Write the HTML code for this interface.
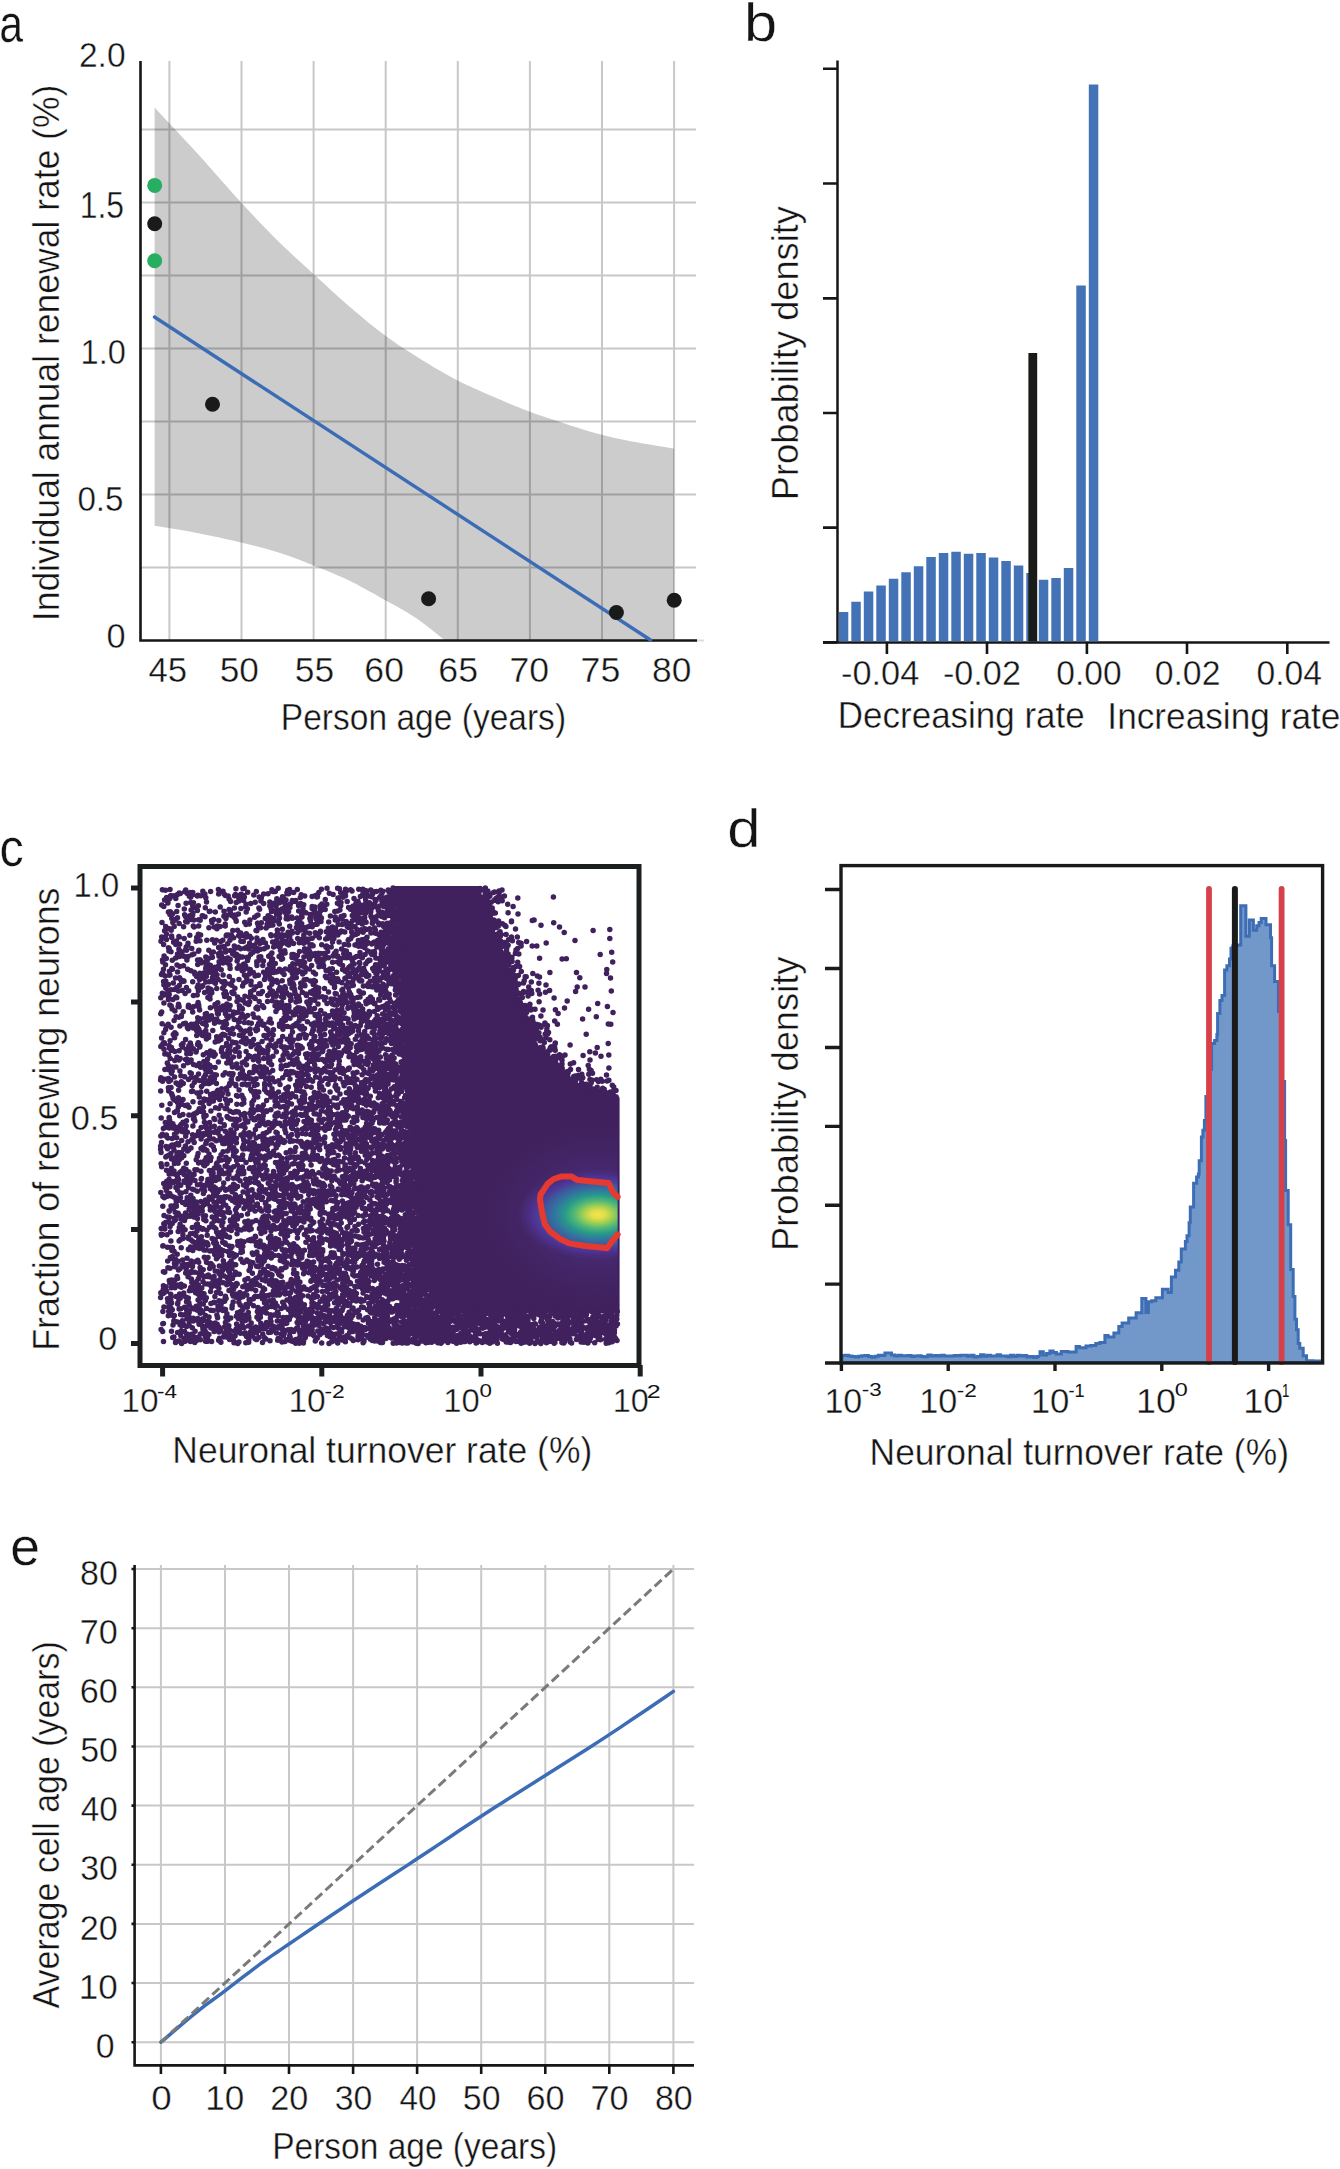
<!DOCTYPE html><html><head><meta charset="utf-8"><style>html,body{margin:0;padding:0;background:#fff;}svg{display:block;}text{font-family:"Liberation Sans",sans-serif;stroke:#fff;stroke-width:0.4px;}</style></head><body>
<svg width="1340" height="2169" viewBox="0 0 1340 2169" font-family="Liberation Sans, sans-serif">
<rect width="1340" height="2169" fill="#fff"/>
<path d="M169.4 61V640 M241.5 61V640 M313.6 61V640 M385.7 61V640 M457.8 61V640 M529.9 61V640 M602.0 61V640 M674.1 61V640 M141 567.5H696 M141 494.5H696 M141 421.5H696 M141 348.5H696 M141 275.5H696 M141 202.5H696 M141 129.5H696" stroke="#c8c8c8" stroke-width="2" fill="none"/>
<path d="M696 640.5H704" stroke="#dcdcdc" stroke-width="2"/>
<polygon points="154.6,107.6 159.2,112.5 165.5,119.2 173.1,127.2 181.2,135.9 189.4,144.7 197.0,153.0 204.3,161.1 211.7,169.5 219.2,178.0 226.6,186.3 233.8,194.4 240.7,202.0 247.2,209.0 253.3,215.6 259.3,221.9 265.2,228.0 271.0,234.0 277.0,240.0 283.1,245.9 289.1,251.6 295.2,257.3 301.2,262.8 307.3,268.3 313.4,273.9 319.5,279.5 325.6,285.1 331.7,290.7 337.8,296.3 343.9,301.7 350.0,307.0 356.1,312.2 362.2,317.3 368.3,322.4 374.4,327.2 380.5,332.0 386.5,336.5 392.5,340.8 398.4,344.9 404.3,348.8 410.2,352.6 416.1,356.3 422.0,360.0 427.9,363.6 433.8,367.2 439.7,370.6 445.7,374.0 451.6,377.3 457.6,380.4 463.6,383.4 469.7,386.3 475.8,389.0 481.9,391.7 488.0,394.4 494.0,397.0 500.0,399.6 506.0,402.2 512.0,404.7 517.9,407.1 523.9,409.5 529.9,411.8 535.9,414.0 541.9,416.1 548.0,418.1 554.0,420.1 560.0,422.1 566.0,424.0 572.0,425.9 577.9,427.8 583.9,429.7 589.8,431.5 595.8,433.2 601.8,434.8 607.8,436.3 613.8,437.7 619.9,439.0 625.9,440.2 632.0,441.4 638.0,442.5 644.4,443.7 651.3,444.8 658.3,446.0 664.7,447.0 670.1,447.9 674.0,448.5 674.0,640.5 445.0,640.5 441.9,638.0 437.5,634.5 432.3,630.3 426.8,625.9 421.2,621.7 416.0,618.0 411.2,614.9 406.5,612.0 401.7,609.3 396.9,606.6 391.8,603.8 386.5,600.9 380.8,597.7 374.9,594.3 368.7,590.9 362.4,587.4 356.2,584.1 350.0,581.0 343.9,578.1 337.8,575.4 331.7,572.8 325.6,570.3 319.5,567.8 313.4,565.4 307.3,563.0 301.2,560.6 295.2,558.3 289.1,556.1 283.1,554.0 277.0,552.0 271.0,550.2 265.2,548.5 259.3,547.0 253.3,545.4 247.2,543.9 240.7,542.4 233.8,540.8 226.6,539.2 219.2,537.6 211.7,536.0 204.3,534.4 197.0,533.0 189.4,531.6 181.2,530.1 173.1,528.8 165.5,527.5 159.2,526.5 154.6,525.7" fill="#000" fill-opacity="0.2"/>
<path d="M140.5 61V641.8M139.3 640.5H697" stroke="#161616" stroke-width="2.6" fill="none"/>
<path d="M154.5 317L650.5 640" stroke="#3b6cb6" stroke-width="3.4" stroke-linecap="round" fill="none"/>
<circle cx="154.7" cy="185.4" r="7.5" fill="#27ae60"/>
<circle cx="154.7" cy="223.8" r="7.5" fill="#1a1a1a"/>
<circle cx="154.7" cy="260.8" r="7.5" fill="#27ae60"/>
<circle cx="212.5" cy="404.3" r="7.5" fill="#1a1a1a"/>
<circle cx="428.6" cy="598.8" r="7.5" fill="#1a1a1a"/>
<circle cx="616.4" cy="612.5" r="7.5" fill="#1a1a1a"/>
<circle cx="674.2" cy="600.3" r="7.5" fill="#1a1a1a"/>
<text x="-0.72" y="42.17" font-size="54.00" textLength="23.82" lengthAdjust="spacingAndGlyphs" fill="#141414" >a</text>
<text x="78.91" y="67.26" font-size="35.17" textLength="46.70" lengthAdjust="spacingAndGlyphs" fill="#141414" >2.0</text>
<text x="79.67" y="217.64" font-size="36.40" textLength="44.37" lengthAdjust="spacingAndGlyphs" fill="#141414" >1.5</text>
<text x="80.62" y="363.86" font-size="35.17" textLength="45.25" lengthAdjust="spacingAndGlyphs" fill="#141414" >1.0</text>
<text x="77.40" y="510.55" font-size="35.45" textLength="46.09" lengthAdjust="spacingAndGlyphs" fill="#141414" >0.5</text>
<text x="106.46" y="648.06" font-size="34.75" textLength="19.08" lengthAdjust="spacingAndGlyphs" fill="#141414" >0</text>
<text x="148.50" y="681.85" font-size="35.83" textLength="38.66" lengthAdjust="spacingAndGlyphs" fill="#141414" >45</text>
<text x="219.79" y="681.86" font-size="35.31" textLength="39.19" lengthAdjust="spacingAndGlyphs" fill="#141414" >50</text>
<text x="294.79" y="681.85" font-size="35.83" textLength="39.30" lengthAdjust="spacingAndGlyphs" fill="#141414" >55</text>
<text x="364.39" y="681.86" font-size="35.31" textLength="39.60" lengthAdjust="spacingAndGlyphs" fill="#141414" >60</text>
<text x="438.29" y="681.86" font-size="35.31" textLength="39.71" lengthAdjust="spacingAndGlyphs" fill="#141414" >65</text>
<text x="509.47" y="681.86" font-size="35.31" textLength="39.62" lengthAdjust="spacingAndGlyphs" fill="#141414" >70</text>
<text x="580.57" y="681.85" font-size="35.83" textLength="39.73" lengthAdjust="spacingAndGlyphs" fill="#141414" >75</text>
<text x="652.06" y="681.86" font-size="35.31" textLength="39.32" lengthAdjust="spacingAndGlyphs" fill="#141414" >80</text>
<text x="280.85" y="729.80" font-size="37.00" textLength="285.23" lengthAdjust="spacingAndGlyphs" fill="#141414" >Person age (years)</text>
<text transform="rotate(-90)" x="-621.17" y="58.70" font-size="37.00" textLength="536.47" lengthAdjust="spacingAndGlyphs" fill="#141414">Individual annual renewal rate (%)</text>
<path d="M837.5 60.5V643.5M823 642.4H1329.5" stroke="#161616" stroke-width="2.5" fill="none"/>
<path d="M823 68.8H837.5 M823 183.5H837.5 M823 298.4H837.5 M823 413.0H837.5 M823 527.6H837.5 M823 642.4H837.5 M886.9 642.4V654 M987.0 642.4V654 M1086.9 642.4V654 M1187.0 642.4V654 M1287.3 642.4V654" stroke="#161616" stroke-width="2.6" fill="none"/>
<path d="M839.00 612.0H848.30V641.2H839.00Z M851.30 601.8H860.80V641.2H851.30Z M863.80 591.4H873.30V641.2H863.80Z M876.30 585.6H885.80V641.2H876.30Z M888.80 578.7H898.30V641.2H888.80Z M901.30 572.2H910.80V641.2H901.30Z M913.80 566.3H923.30V641.2H913.80Z M926.30 557.0H935.80V641.2H926.30Z M938.80 553.1H948.30V641.2H938.80Z M951.30 551.8H960.80V641.2H951.30Z M963.80 553.8H973.30V641.2H963.80Z M976.30 553.1H985.80V641.2H976.30Z M988.80 557.4H998.30V641.2H988.80Z M1001.30 561.1H1010.80V641.2H1001.30Z M1013.80 565.5H1023.30V641.2H1013.80Z M1026.30 573.0H1035.80V641.2H1026.30Z M1038.80 579.7H1048.30V641.2H1038.80Z M1051.30 578.0H1060.80V641.2H1051.30Z M1063.80 568.0H1073.30V641.2H1063.80Z M1076.30 285.5H1085.80V641.2H1076.30Z M1088.80 84.5H1098.30V641.2H1088.80Z" fill="#4373b6"/>
<rect x="1028.4" y="353" width="8.8" height="288.5" fill="#1a1a18"/>
<text x="743.96" y="40.70" font-size="54.00" textLength="33.14" lengthAdjust="spacingAndGlyphs" fill="#141414" >b</text>
<text transform="rotate(-90)" x="-500.17" y="797.80" font-size="37.00" textLength="294.14" lengthAdjust="spacingAndGlyphs" fill="#141414">Probability density</text>
<text x="841.07" y="685.05" font-size="35.88" textLength="78.23" lengthAdjust="spacingAndGlyphs" fill="#141414" >-0.04</text>
<text x="942.98" y="685.05" font-size="35.88" textLength="77.94" lengthAdjust="spacingAndGlyphs" fill="#141414" >-0.02</text>
<text x="1056.29" y="685.05" font-size="35.88" textLength="65.32" lengthAdjust="spacingAndGlyphs" fill="#141414" >0.00</text>
<text x="1154.68" y="685.05" font-size="35.88" textLength="65.82" lengthAdjust="spacingAndGlyphs" fill="#141414" >0.02</text>
<text x="1256.49" y="685.05" font-size="35.88" textLength="65.50" lengthAdjust="spacingAndGlyphs" fill="#141414" >0.04</text>
<text x="837.83" y="728.30" font-size="37.00" textLength="246.92" lengthAdjust="spacingAndGlyphs" fill="#141414" >Decreasing rate</text>
<text x="1107.35" y="728.60" font-size="37.00" textLength="233.02" lengthAdjust="spacingAndGlyphs" fill="#141414" >Increasing rate</text>
<polygon points="445.0,1311.5 438.7,1293.9 432.4,1276.2 427.6,1258.6 422.9,1240.9 419.6,1223.3 418.5,1205.6 417.4,1188.0 416.3,1170.3 415.3,1152.7 414.2,1135.0 413.1,1117.4 412.3,1099.8 411.5,1082.1 410.7,1064.5 409.9,1046.8 409.1,1029.2 408.3,1011.5 407.5,993.9 406.7,976.2 405.8,958.6 403.2,940.9 400.7,923.3 398.1,905.6 394.0,888.0 479.0,888.0 479.0,892.7 491.7,928.2 501.9,956.1 513.3,987.8 520.9,1013.2 531.0,1038.6 542.5,1057.6 561.5,1076.6 580.5,1089.3 599.6,1095.7 617.6,1098.2 617.6,1311.5" fill="#40215d" stroke="#40215d" stroke-width="4" stroke-linejoin="round"/>
<path d="M440.5 1303.7h0M176.9 1057.6h0M434.0 1285.6h0M229.2 1085.5h0M248.6 1004.4h0M413.0 1202.5h0M270.0 1280.6h0M374.4 942.1h0M510.3 1327.5h0M352.0 1082.4h0M251.3 1023.3h0M422.6 1246.7h0M398.8 1052.7h0M348.7 1292.1h0M357.1 1099.2h0M342.6 969.4h0M188.9 1045.7h0M348.7 1170.4h0M399.7 935.1h0M579.0 1077.6h0M174.4 1263.2h0M276.1 1215.5h0M419.7 1237.7h0M170.2 1058.4h0M439.7 1342.0h0M423.1 1284.0h0M250.8 1240.7h0M439.1 1310.9h0M418.2 1312.6h0M369.2 1011.4h0M407.2 988.0h0M258.9 908.0h0M311.3 1288.4h0M297.6 1249.8h0M220.5 1303.4h0M300.6 1114.5h0M359.3 941.8h0M405.6 1046.4h0M244.8 1227.8h0M244.9 1017.4h0M411.0 1116.5h0M364.5 1138.4h0M247.7 892.3h0M376.9 971.2h0M489.5 1313.3h0M175.7 1160.4h0M553.8 1325.8h0M282.1 1116.4h0M289.9 1204.5h0M179.1 1240.9h0M304.7 896.0h0M373.1 1289.4h0M236.4 1119.3h0M311.2 923.7h0M395.7 1039.6h0M399.7 1106.2h0M412.3 1272.7h0M562.2 1068.2h0M368.2 1318.8h0M413.5 1191.2h0M500.7 1336.2h0M334.5 1340.5h0M315.1 1071.7h0M425.4 1331.8h0M464.4 1334.2h0M357.5 1286.7h0M321.7 1343.0h0M330.4 981.3h0M251.1 1116.3h0M352.7 1031.0h0M377.1 1148.3h0M331.2 1170.9h0M534.2 1032.1h0M189.1 1209.2h0M273.1 1187.9h0M278.1 1113.0h0M360.6 1005.9h0M384.2 1160.2h0M167.5 1298.7h0M370.0 1123.8h0M235.1 1202.3h0M346.3 985.6h0M533.9 1033.2h0M395.0 1217.8h0M169.1 1045.6h0M221.0 1119.6h0M368.4 1026.5h0M254.2 1241.1h0M292.2 1289.2h0M260.9 901.1h0M284.5 1253.3h0M582.2 1334.5h0M329.2 1059.9h0M281.7 1326.9h0M367.7 1238.5h0M236.4 954.2h0M409.6 1091.6h0M408.2 1230.0h0M274.6 1176.3h0M312.5 1100.6h0M322.2 1059.4h0M234.8 914.9h0M236.2 921.3h0M202.9 1318.7h0M370.3 1096.3h0M232.2 1075.4h0M331.0 1042.2h0M590.3 1072.0h0M365.4 1099.5h0M224.5 1196.8h0M319.7 1020.0h0M203.2 1296.4h0M305.9 1065.7h0M313.9 1202.3h0M312.8 1203.4h0M524.3 1317.9h0M279.6 902.8h0M427.3 1341.6h0M219.6 1189.8h0M390.3 1264.1h0M204.7 1299.3h0M217.7 1132.9h0M229.9 960.0h0M346.8 1051.6h0M249.4 974.1h0M407.4 1015.1h0M295.8 1339.6h0M166.7 1291.3h0M427.2 1262.3h0M356.8 944.5h0M340.7 1217.8h0M203.7 1066.5h0M210.3 965.3h0M394.1 1290.5h0M350.2 1184.8h0M374.8 1020.5h0M290.7 1119.6h0M411.4 1295.2h0M420.9 1240.6h0M558.1 1013.6h0M294.9 1299.7h0M411.6 1234.4h0M186.8 1053.7h0M336.4 933.6h0M600.9 1332.3h0M547.9 1058.5h0M439.1 1317.3h0M394.0 1013.5h0M255.1 998.6h0M324.4 1329.1h0M205.9 1220.7h0M336.2 1161.5h0M416.4 1310.8h0M290.4 1150.2h0M181.8 1104.3h0M216.9 1314.9h0M410.5 1236.7h0M349.4 1249.4h0M271.2 935.7h0M361.8 1100.4h0M317.8 1330.9h0M324.7 1013.9h0M414.1 1157.5h0M363.3 1013.7h0M309.7 1290.3h0M464.8 1312.0h0M364.9 928.8h0M186.7 1310.1h0M326.4 1147.3h0M261.7 1157.1h0M393.2 965.6h0M313.8 1304.3h0M413.6 1241.0h0M405.4 1162.0h0M369.5 1131.9h0M274.0 1268.8h0M362.0 1039.7h0M474.9 1337.2h0M405.0 984.7h0M408.4 1335.1h0M384.1 1102.0h0M371.3 952.0h0M335.9 1238.1h0M416.0 1296.9h0M311.9 1155.9h0M291.8 1286.7h0M387.9 1210.8h0M276.9 1270.9h0M219.5 1338.3h0M424.2 1331.3h0M397.1 923.5h0M507.8 1317.4h0M395.8 948.5h0M264.6 1289.2h0M383.3 1311.4h0M295.6 1297.6h0M331.2 1326.9h0M192.0 1114.9h0M347.7 956.1h0M207.7 1245.1h0M253.5 1305.7h0M388.7 1264.9h0M329.7 1278.7h0M321.4 889.3h0M240.9 908.4h0M325.1 955.0h0M606.2 1343.2h0M399.0 1305.7h0M516.4 1315.8h0M290.7 1339.2h0M415.2 1331.7h0M338.0 1334.1h0M414.1 1310.0h0M372.5 1218.9h0M387.8 1301.5h0M608.4 1331.9h0M392.2 1055.0h0M297.1 1322.5h0M398.8 1140.8h0M335.3 1054.3h0M583.9 1342.2h0M379.9 1153.7h0M389.2 1094.6h0M251.0 1157.6h0M365.4 1093.5h0M209.0 1153.9h0M390.9 1201.3h0M606.6 1315.3h0M390.0 1028.3h0M190.8 1180.8h0M549.4 1330.2h0M403.1 1001.5h0M375.3 1107.2h0M393.3 947.4h0M327.4 1113.3h0M405.9 1133.6h0M381.2 1242.4h0M294.9 1204.4h0M189.6 1201.1h0M321.7 1240.6h0M190.8 1148.0h0M464.4 1322.2h0M199.0 1306.5h0M201.9 1209.9h0M529.6 1021.2h0M206.2 1326.0h0M310.7 1054.4h0M223.0 963.0h0M404.2 1135.3h0M240.3 1196.7h0M317.2 920.2h0M542.3 1322.6h0M570.5 1069.5h0M275.9 1185.9h0M243.7 1139.7h0M220.1 1136.4h0M249.5 1056.3h0M338.8 1053.7h0M371.7 1260.7h0M376.2 1215.3h0M432.4 1317.4h0M520.8 1320.2h0M270.4 1318.2h0M282.5 958.8h0M279.5 1026.2h0M396.2 1074.8h0M240.5 1333.3h0M233.7 937.7h0M345.9 1120.0h0M315.0 996.1h0M438.0 1309.6h0M490.4 1314.4h0M437.5 1299.4h0M384.4 1229.6h0M450.4 1320.0h0M485.1 895.4h0M250.1 1205.7h0M273.3 1154.2h0M397.9 943.8h0M366.4 1105.2h0M552.4 1340.9h0M418.1 1205.5h0M245.1 1119.2h0M230.4 1059.9h0M379.9 1306.0h0M273.1 1035.0h0M307.5 1318.7h0M365.0 1140.8h0M565.0 1055.0h0M427.3 1284.8h0M602.6 1088.7h0M316.9 960.0h0M428.2 1313.5h0M298.4 1157.2h0M468.1 1312.4h0M485.3 888.0h0M489.7 1343.2h0M403.2 1050.3h0M357.7 1324.5h0M287.3 1039.2h0M258.2 1056.9h0M185.7 1273.1h0M420.1 1279.8h0M306.0 1148.6h0M313.2 1151.8h0M385.2 988.7h0M589.2 1339.8h0M381.2 915.9h0M364.5 1099.2h0M397.6 1106.7h0M253.7 1100.3h0M334.6 1015.0h0M357.1 1045.4h0M511.4 980.2h0M361.2 1043.2h0M325.4 1023.2h0M413.2 1190.8h0M163.7 1183.6h0M296.4 1223.7h0M205.8 956.9h0M388.1 1322.9h0M216.2 1206.9h0M300.8 1212.6h0M404.1 1174.2h0M333.3 934.1h0M338.8 1269.5h0M386.5 940.0h0M210.4 1051.0h0M613.0 1012.6h0M410.1 1148.2h0M438.1 1297.4h0M290.3 1097.4h0M413.3 1220.2h0M276.3 1147.8h0M379.6 1293.6h0M384.9 1325.6h0M416.0 1193.2h0M492.6 929.8h0M382.1 1006.8h0M163.4 1323.4h0M185.2 1341.3h0M207.4 1034.7h0M186.9 960.1h0M337.0 1224.9h0M500.9 941.3h0M223.5 1204.8h0M353.1 1003.2h0M384.3 1227.7h0M571.6 1322.1h0M180.1 1324.8h0M179.8 1322.5h0M417.3 1244.4h0M369.9 960.2h0M234.3 1019.4h0M163.1 1043.5h0M374.6 952.7h0M580.2 1323.0h0M343.6 1185.0h0M496.0 898.6h0M407.4 994.8h0M340.6 1298.2h0M413.1 1302.3h0M353.0 1273.0h0M237.1 1175.9h0M535.6 1334.2h0M254.8 1085.1h0M212.4 939.8h0M396.8 1123.8h0M541.6 1321.7h0M396.9 904.5h0M395.1 1237.8h0M203.8 1077.5h0M217.3 926.0h0M405.5 1053.1h0M393.0 919.4h0M341.5 1011.6h0M223.3 1260.8h0M380.8 1081.0h0M439.5 1311.1h0M433.6 1293.6h0M541.0 1049.1h0M405.2 1289.0h0M404.4 1276.7h0M385.0 1112.7h0M285.7 1074.4h0M238.0 1012.3h0M303.6 1326.3h0M588.8 1085.2h0M302.0 1190.3h0M244.1 1132.5h0M413.3 1286.3h0M336.1 1312.9h0M298.0 1303.2h0M278.2 1166.7h0M401.2 1044.2h0M353.1 1327.9h0M408.5 1294.6h0M214.0 1118.4h0M358.1 1333.9h0M397.0 1242.0h0M190.2 1334.8h0M547.4 1034.2h0M367.7 1134.8h0M327.8 1229.7h0M233.2 1151.5h0M237.8 1026.7h0M319.0 966.8h0M376.9 947.0h0M226.8 1063.1h0M256.6 1266.2h0M251.3 1282.7h0M409.3 1095.9h0M407.2 1124.1h0M485.1 891.3h0M407.2 1113.1h0M229.1 899.1h0M193.4 1247.6h0M402.6 947.5h0M417.1 1287.5h0M344.9 1293.3h0M323.9 1225.7h0M313.6 1262.1h0M337.3 1014.9h0M200.2 1272.1h0M393.9 932.3h0M403.6 1236.9h0M407.4 1099.9h0M311.4 1120.3h0M383.5 965.7h0M261.3 1261.2h0M562.0 1060.3h0M363.0 1103.1h0M388.1 1096.0h0M293.7 1163.5h0M262.4 991.6h0M275.9 1043.9h0M389.3 928.4h0M183.8 1325.1h0M345.5 889.3h0M406.3 1002.9h0M380.2 1038.6h0M189.3 896.2h0M269.8 905.7h0M241.0 894.3h0M380.9 1239.6h0M556.9 1056.6h0M401.5 1104.6h0M170.0 975.1h0M381.7 1202.3h0M411.2 1078.4h0M377.8 1133.6h0M409.0 1276.3h0M209.7 1268.5h0M538.9 983.2h0M388.3 1149.4h0M271.2 1258.1h0M188.4 1027.1h0M383.9 1322.5h0M389.2 1269.0h0M297.2 1265.1h0M266.5 1146.5h0M346.5 969.7h0M264.0 1067.0h0M542.5 1324.8h0M384.5 1070.4h0M221.6 1051.9h0M265.3 1256.5h0M533.1 1029.1h0M559.1 1334.3h0M264.2 948.7h0M327.9 1268.6h0M357.0 1079.5h0M286.7 1251.1h0M513.9 1316.1h0M283.4 1335.8h0M314.2 1174.4h0M173.6 942.2h0M196.4 1224.8h0M527.4 1023.3h0M373.4 1321.1h0M319.8 1087.7h0M342.3 1028.6h0M547.5 1319.5h0M418.8 1285.8h0M257.4 1204.0h0M446.8 1327.5h0M583.3 1090.2h0M606.5 1074.9h0M477.0 1342.4h0M410.9 1236.6h0M403.4 1190.5h0M419.9 1259.2h0M578.5 1325.5h0M169.5 928.8h0M405.3 1106.9h0M381.8 1114.5h0M562.7 1077.4h0M548.4 1331.0h0M270.9 1274.5h0M294.7 1219.0h0M213.6 1179.5h0M534.0 1324.1h0M362.6 920.9h0M215.9 1229.0h0M287.1 1093.5h0M183.7 980.7h0M548.2 1062.4h0M283.6 1167.2h0M199.7 1291.5h0M330.8 1215.8h0M224.6 1139.8h0M281.4 899.7h0M236.5 1283.6h0M402.0 1301.4h0M260.2 1246.7h0M356.1 1207.2h0M411.4 1330.8h0M218.8 920.4h0M431.3 1275.0h0M230.1 1334.8h0M493.6 1334.1h0M553.0 1330.0h0M322.9 1199.4h0M303.9 1074.5h0M270.9 1294.7h0M398.3 1254.9h0M408.8 1198.8h0M602.7 1325.9h0M301.2 1206.8h0M409.2 1193.8h0M294.1 1314.6h0M530.3 1034.9h0M347.8 1327.3h0M206.1 1115.5h0M245.0 1229.0h0M342.5 1181.1h0M484.8 1335.9h0M408.7 1076.1h0M180.2 1298.3h0M311.0 956.6h0M379.3 1196.3h0M419.6 1309.5h0M221.6 1009.8h0M199.5 979.8h0M582.0 1321.9h0M411.9 1312.6h0M526.5 1012.6h0M195.0 1180.4h0M254.4 1194.3h0M354.6 1326.3h0M462.9 1321.8h0M400.5 925.0h0M382.5 1048.1h0M197.7 1260.3h0M395.4 942.5h0M405.8 1081.6h0M211.4 990.3h0M354.3 1012.7h0M199.8 1302.7h0M348.0 1202.9h0M172.4 1256.5h0M186.9 1318.4h0M269.9 1156.8h0M315.0 955.6h0M203.0 1228.8h0M238.7 935.5h0M314.2 1286.7h0M352.3 1251.7h0M360.7 1186.9h0M600.5 1339.7h0M301.0 1141.5h0M323.9 1184.8h0M398.9 1081.3h0M309.3 968.9h0M345.6 1239.3h0M316.0 935.6h0M392.0 1194.8h0M400.5 1084.4h0M191.8 1177.4h0M222.1 957.9h0M265.3 1165.4h0M348.8 1043.2h0M190.2 1216.2h0M344.6 1264.2h0M165.6 938.1h0M271.8 1143.1h0M396.0 982.6h0M315.5 974.1h0M224.8 1035.3h0M243.8 896.9h0M503.7 960.0h0M422.5 1241.4h0M555.5 1059.9h0M311.1 916.5h0M196.7 1030.7h0M199.2 1080.4h0M205.2 1160.3h0M287.6 1235.8h0M236.7 1228.6h0M304.4 1234.4h0M293.0 1264.4h0M346.8 1294.6h0M408.1 1139.4h0M307.1 1215.2h0M231.4 935.0h0M429.0 1287.2h0M535.1 1044.2h0M330.3 1266.8h0M589.9 1079.4h0M187.4 1132.3h0M405.0 1105.4h0M344.6 1289.2h0M270.2 1257.0h0M465.5 1338.0h0M193.1 1233.6h0M366.2 1187.8h0M293.9 1302.7h0M228.7 1171.4h0M336.5 1127.6h0M171.4 1196.1h0M405.8 1057.1h0M219.0 1167.0h0M504.0 952.9h0M434.4 1315.3h0M198.2 985.0h0M321.6 1158.9h0M327.7 951.4h0M266.6 1110.8h0M303.5 1011.7h0M233.6 1184.2h0M363.2 1112.2h0M407.5 1138.1h0M229.5 1255.4h0M376.5 1172.8h0M272.0 1275.0h0M302.5 1308.9h0M374.7 1053.0h0M215.2 1041.9h0M391.6 904.8h0M235.4 1272.2h0M322.3 1270.1h0M419.6 1316.0h0M392.8 903.3h0M395.0 1274.7h0M235.5 1209.7h0M554.5 1064.5h0M363.2 1137.1h0M381.8 1309.4h0M520.0 1326.2h0M511.5 979.5h0M488.9 1312.0h0M278.1 1228.2h0M178.1 905.5h0M401.4 1225.1h0M272.7 1192.1h0M185.1 993.6h0M317.6 1023.4h0M414.2 1212.8h0M303.0 908.8h0M407.6 1283.7h0M596.6 1079.7h0M232.1 1133.6h0M429.2 1325.6h0M368.0 1186.7h0M320.0 1145.0h0M284.9 1125.8h0M286.9 1011.5h0M419.0 1226.0h0M392.5 1135.1h0M360.6 1138.0h0M272.1 1247.2h0M233.9 1219.2h0M397.5 1216.5h0M396.8 1137.2h0M432.0 1278.2h0M297.2 1172.2h0M327.7 1232.9h0M269.8 1058.1h0M386.9 1061.0h0M578.1 1075.5h0M491.4 1328.2h0M292.0 954.6h0M394.8 1031.7h0M414.1 1225.4h0M358.0 913.9h0M328.3 1331.6h0M399.6 971.4h0M496.6 1335.2h0M363.0 1090.3h0M398.2 1067.1h0M337.7 1343.0h0M408.5 1284.3h0M390.4 1160.4h0M243.7 983.1h0M402.2 1289.7h0M255.6 1237.1h0M415.1 1292.8h0M414.2 1139.0h0M489.7 919.6h0M605.0 1320.3h0M291.5 1127.6h0M282.6 1329.4h0M247.9 1278.4h0M355.3 1252.6h0M375.7 1084.8h0M363.4 1274.8h0M413.1 1141.8h0M403.4 963.8h0M516.0 950.1h0M397.3 1148.0h0M409.0 1257.1h0M239.2 1056.2h0M425.8 1260.9h0M237.3 968.3h0M254.4 1143.4h0M431.2 1309.0h0M298.7 1166.3h0M566.3 958.8h0M360.0 1252.8h0M405.3 959.0h0M371.6 1339.7h0M605.4 1092.3h0M250.2 1178.5h0M342.5 1279.0h0M394.1 917.0h0M418.4 1250.3h0M417.9 1298.3h0M168.1 1109.8h0M348.6 1210.0h0M237.4 1165.1h0M181.2 1128.9h0M382.6 902.7h0M399.6 1279.5h0M197.8 938.8h0M300.6 1264.0h0M467.1 1331.3h0M257.3 948.5h0M414.2 1172.6h0M219.1 1169.7h0M519.6 966.5h0M402.7 1041.6h0M290.0 1079.0h0M231.1 1063.4h0M502.1 956.5h0M356.4 1258.6h0M170.3 1257.6h0M168.3 984.6h0M348.5 987.7h0M409.1 1118.3h0M261.5 1245.0h0M356.8 1244.3h0M341.8 1008.7h0M207.7 991.5h0M393.4 1194.7h0M242.8 1246.5h0M421.3 1255.7h0M298.7 1045.6h0M363.1 921.5h0M421.1 1268.3h0M320.0 1222.0h0M564.6 1322.9h0M522.9 1315.7h0M193.2 1321.1h0M256.8 1048.9h0M175.5 978.1h0M272.5 1294.7h0M273.0 1056.3h0M271.2 962.2h0M364.6 1267.2h0M274.7 1081.7h0M422.7 1254.2h0M189.8 915.7h0M235.7 1084.5h0M400.3 990.8h0M588.0 1338.5h0M308.1 1212.0h0M258.8 1092.0h0M166.5 1170.3h0M291.2 1211.0h0M190.9 1290.5h0M498.6 1314.0h0M384.1 1336.3h0M210.2 1206.8h0M258.7 1308.6h0M340.9 1017.2h0M229.8 983.9h0M341.2 931.0h0M471.2 1319.1h0M397.9 1244.4h0M412.4 1229.9h0M483.2 901.0h0M390.8 1311.4h0M606.4 1341.9h0M406.8 995.7h0M178.5 991.1h0M542.2 1317.4h0M405.9 1010.6h0M268.1 1252.8h0M203.2 1295.7h0M201.5 1086.5h0M215.4 1187.9h0M203.3 1215.8h0M190.9 970.8h0M330.1 1092.1h0M299.3 1169.5h0M283.3 1025.2h0M213.6 982.0h0M407.2 1327.7h0M356.0 1200.6h0M391.4 1143.8h0M476.7 1314.0h0M404.3 1187.7h0M216.3 1075.1h0M416.9 1262.5h0M379.2 1340.0h0M260.3 1274.4h0M256.2 1205.0h0M224.6 1301.3h0M410.1 1099.8h0M320.8 1010.4h0M285.0 1330.4h0M432.2 1288.6h0M394.7 1230.1h0M480.9 1314.1h0M428.2 1324.8h0M384.5 997.5h0M483.8 901.0h0M165.1 1187.3h0M293.1 1140.9h0M394.3 1006.4h0M174.6 1037.8h0M221.0 1197.6h0M427.9 1262.5h0M382.7 1083.7h0M219.0 956.3h0M377.5 1043.4h0M585.2 1312.7h0M528.7 986.9h0M373.5 1076.9h0M412.2 1212.3h0M226.0 1157.3h0M254.6 1147.3h0M375.5 933.2h0M373.2 1223.1h0M335.2 916.9h0M326.1 1239.2h0M268.0 921.2h0M202.2 915.8h0M480.4 1313.4h0M281.5 1208.4h0M245.0 1038.1h0M521.3 971.5h0M275.5 1289.7h0M390.5 1020.6h0M395.8 1033.1h0M371.1 1147.3h0M248.1 1318.5h0M307.2 1261.2h0M405.5 1024.8h0M248.7 1342.2h0M351.8 1092.1h0M351.6 1255.5h0M391.2 1293.2h0M314.9 999.5h0M416.8 1186.2h0M313.9 1138.7h0M601.4 1094.2h0M162.6 972.8h0M338.0 897.9h0M173.8 1126.0h0M197.0 1093.1h0M294.9 1216.6h0M184.8 1182.3h0M218.4 1062.1h0M228.2 1326.1h0M276.5 940.6h0M382.5 1071.5h0M555.8 1070.6h0M398.8 955.8h0M197.7 987.0h0M339.0 1189.8h0M346.7 1278.3h0M531.2 1031.4h0M302.6 1017.9h0M342.0 997.0h0M379.2 968.4h0M426.6 1268.8h0M296.3 1231.3h0M236.0 920.2h0M407.1 1070.1h0M346.4 1147.1h0M548.5 1318.0h0M240.7 933.1h0M335.3 1037.3h0M236.3 1328.7h0M290.6 1311.8h0M407.4 990.8h0M252.4 1152.4h0M167.5 1148.8h0M193.0 1198.5h0M317.4 1320.2h0M385.4 1222.3h0M302.4 1157.2h0M305.0 928.0h0M372.3 894.5h0M575.6 1081.0h0M317.8 1023.8h0M324.6 1000.1h0M278.7 1328.0h0M212.1 1199.4h0M295.0 1111.8h0M581.5 1314.0h0M335.7 1114.7h0M361.4 1060.9h0M234.2 1149.5h0M413.4 1122.7h0M435.3 1293.0h0M258.2 1150.9h0M252.8 1208.7h0M379.1 1026.1h0M269.6 987.8h0M330.7 1243.8h0M305.9 927.6h0M224.6 996.6h0M412.3 1143.7h0M393.2 918.5h0M233.3 951.3h0M411.6 1120.8h0M200.0 1240.4h0M317.2 1205.4h0M256.7 915.8h0M324.5 1068.5h0M337.8 1321.6h0M281.6 1202.8h0M410.9 1083.6h0M422.2 1253.9h0M329.9 1224.1h0M396.3 1320.6h0M348.1 1018.9h0M406.4 1260.2h0M259.7 1024.1h0M371.2 1313.0h0M190.4 1341.5h0M327.5 1159.4h0M415.8 1337.6h0M425.4 1280.0h0M405.3 991.5h0M222.8 1027.6h0M371.5 896.7h0M176.4 1206.2h0M386.8 1334.3h0M527.6 1024.0h0M412.0 1102.6h0M306.0 1158.0h0M185.7 921.6h0M400.4 957.7h0M197.4 1223.9h0M398.1 1094.3h0M363.9 1300.3h0M247.5 1213.9h0M280.7 1040.2h0M393.5 909.5h0M427.0 1319.0h0M439.4 1319.8h0M370.4 1209.6h0M349.4 1319.5h0M539.5 976.9h0M406.0 1301.8h0M328.0 1084.3h0M216.1 1286.0h0M337.7 1032.5h0M389.0 1278.9h0M225.4 1159.5h0M369.0 1056.0h0M223.5 1250.8h0M367.7 942.3h0M575.2 1079.8h0M355.8 907.7h0M236.7 1331.7h0M401.3 974.9h0M314.8 1036.4h0M175.4 1219.8h0M237.7 1178.8h0M595.0 1329.3h0M187.8 1264.6h0M512.7 1322.6h0M419.6 1235.8h0M165.5 964.8h0M409.2 1039.2h0M188.1 1276.8h0M397.3 1257.1h0M398.9 1341.8h0M392.3 1312.0h0M407.6 1020.5h0M397.8 1314.5h0M259.5 1053.3h0M162.9 1311.6h0M411.9 1298.8h0M296.0 1023.7h0M335.2 1319.8h0M281.1 1334.1h0M405.0 1002.8h0M255.7 1091.6h0M531.1 1324.8h0M287.3 1285.9h0M418.4 1226.7h0M219.4 1251.3h0M511.6 1322.4h0M394.6 1308.5h0M489.7 914.6h0M373.9 1069.0h0M540.8 1321.8h0M222.9 1222.2h0M407.8 1166.3h0M179.9 1071.1h0M351.0 997.0h0M387.7 1163.6h0M319.8 1254.0h0M280.8 1097.4h0M385.7 1029.8h0M189.0 1172.0h0M368.2 1087.7h0M372.7 1184.2h0M338.4 1002.5h0M332.5 1004.1h0M163.4 1271.8h0M299.3 1049.5h0M405.6 972.9h0M166.3 1026.1h0M392.2 1039.7h0M473.9 1339.3h0M169.4 971.2h0M385.7 978.0h0M204.0 1033.1h0M336.6 1262.9h0M378.7 1130.2h0M263.4 1104.9h0M326.8 1229.4h0M373.9 986.5h0M399.1 935.5h0M437.4 1292.2h0M260.6 949.2h0M365.5 1215.1h0M212.0 1264.7h0M403.9 1030.4h0M263.7 1007.4h0M527.5 1023.1h0M396.9 1022.2h0M379.7 943.7h0M338.1 1057.5h0M367.1 1290.6h0M402.2 1173.6h0M426.1 1280.1h0M515.2 985.0h0M396.3 1096.4h0M177.6 972.0h0M270.9 1097.1h0M284.5 1141.7h0M421.8 1325.7h0M292.5 1032.0h0M310.2 952.5h0M216.1 1131.1h0M212.0 922.6h0M310.2 1231.1h0M328.8 1117.8h0M315.2 932.8h0M371.1 1046.0h0M273.3 1242.5h0M339.2 1161.3h0M554.4 1326.8h0M334.3 1004.7h0M336.2 1308.6h0M237.6 1096.3h0M314.2 1049.7h0M181.4 1044.9h0M365.5 1259.2h0M408.9 1137.4h0M216.9 1037.9h0M329.7 932.7h0M334.5 1317.5h0M393.0 1073.0h0M399.7 1144.7h0M232.3 1222.0h0M593.1 930.5h0M209.9 995.7h0M362.2 924.0h0M199.4 1248.5h0M363.4 1036.9h0M211.6 1341.4h0M240.8 1246.3h0M463.5 1321.9h0M417.4 1242.6h0M507.7 1324.9h0M281.3 1276.2h0M388.1 1176.0h0M458.7 1314.4h0M293.9 1221.1h0M563.0 1311.7h0M272.2 1000.8h0M363.8 1300.7h0M376.1 1271.8h0M393.8 1014.6h0M215.7 1242.2h0M269.9 993.2h0M312.3 1056.4h0M420.0 1248.6h0M332.4 1241.9h0M404.1 1086.9h0M333.9 938.6h0M386.4 960.9h0M391.8 910.3h0M222.7 1310.6h0M407.8 1313.6h0M370.8 911.2h0M341.7 1194.8h0M337.8 1269.9h0M581.1 1342.1h0M317.2 1192.5h0M261.3 1157.8h0M333.5 1145.1h0M426.6 1333.7h0M594.7 1342.8h0M381.3 1326.0h0M179.0 1159.0h0M398.3 965.4h0M393.2 1343.3h0M418.3 1232.6h0M567.8 1315.6h0M234.2 1184.8h0M366.9 1111.2h0M367.7 1328.4h0M366.9 1335.4h0M310.7 1098.5h0M460.8 1341.2h0M580.8 1313.8h0M285.1 1294.0h0M360.9 918.8h0M563.9 1333.6h0M545.5 992.2h0M338.5 1053.8h0M504.0 1312.5h0M514.2 986.0h0M246.9 936.5h0M403.0 950.1h0M425.0 1265.8h0M518.9 1318.0h0M269.1 1153.2h0M435.2 1297.1h0M414.4 1161.6h0M236.5 1126.8h0M184.2 938.5h0M496.5 1330.2h0M370.8 1179.7h0M363.5 1111.3h0M226.1 1265.6h0M364.1 1019.9h0M386.3 1058.2h0M417.4 1231.9h0M383.7 1209.7h0M254.8 1182.6h0M422.0 1244.9h0M300.5 1322.1h0M335.2 993.5h0M286.7 1323.3h0M397.8 1331.3h0M390.8 966.0h0M496.5 1333.2h0M236.2 1199.2h0M396.6 1031.4h0M585.0 987.0h0M349.5 976.5h0M200.7 1111.2h0M379.3 924.7h0M169.1 1210.8h0M196.6 1112.9h0M242.7 1077.9h0M417.8 1212.2h0M404.0 1221.7h0M273.5 1029.7h0M351.1 1197.6h0M541.0 1321.1h0M328.5 1261.4h0M406.3 1105.4h0M282.0 938.7h0M243.2 1200.8h0M396.5 1238.9h0M401.8 1210.0h0M281.1 1160.2h0M379.5 1164.7h0M264.6 1325.4h0M247.3 1222.8h0M292.4 918.3h0M370.0 1209.1h0M519.7 1319.6h0M459.6 1327.5h0M391.8 1175.0h0M278.4 910.3h0M188.8 1149.7h0M385.2 1098.7h0M381.1 1163.3h0M211.4 1207.7h0M278.9 1216.3h0M301.0 1206.8h0M310.7 1249.1h0M379.5 1249.7h0M398.4 1237.4h0M391.5 930.9h0M508.7 964.4h0M398.2 1192.7h0M267.9 1145.1h0M214.3 1095.0h0M403.7 1246.9h0M371.0 953.3h0M430.6 1297.8h0M476.6 1322.1h0M400.5 1312.3h0M214.5 1167.9h0M494.5 927.2h0M302.1 1076.2h0M227.6 1161.9h0M399.1 1053.9h0M300.5 987.8h0M342.3 892.9h0M422.3 1245.2h0M404.6 1326.0h0M273.4 1291.0h0M177.6 1190.2h0M411.2 1340.3h0M396.2 937.4h0M433.0 1341.0h0M368.9 998.9h0M198.9 950.2h0M221.7 1160.1h0M409.7 1070.4h0M166.1 993.8h0M181.7 1157.8h0M260.1 1155.7h0M349.9 957.7h0M193.2 1006.8h0M340.5 1337.4h0M367.1 1036.1h0M388.7 1336.4h0M357.9 1339.7h0M215.5 1328.2h0M330.3 1268.5h0M336.7 1052.7h0M350.6 1322.5h0M363.6 1101.2h0M185.2 1215.1h0M350.4 1337.9h0M328.3 1240.3h0M274.4 903.1h0M543.7 1340.8h0M235.5 894.6h0M365.1 1188.2h0M320.5 911.0h0M429.7 1300.6h0M178.9 936.5h0M210.6 1323.0h0M326.1 970.6h0M347.9 1248.7h0M258.6 1261.0h0M277.0 1116.0h0M222.9 1242.5h0M532.5 1035.5h0M200.5 1184.6h0M305.7 1210.4h0M400.6 1103.3h0M393.7 1079.9h0M277.7 1340.2h0M362.7 1179.4h0M412.5 1256.7h0M379.6 1314.6h0M561.9 1342.4h0M598.2 1339.3h0M438.5 1305.6h0M362.7 1009.0h0M356.5 1129.4h0M517.1 1317.7h0M169.1 1128.0h0M270.7 1244.2h0M203.0 1281.8h0M222.9 1301.0h0M170.1 1226.5h0M357.4 1281.3h0M570.2 1080.7h0M305.5 967.4h0M230.1 1005.6h0M384.7 1336.0h0M177.6 1128.0h0M385.2 1015.7h0M285.2 1267.4h0M535.0 1034.6h0M225.8 1317.5h0M163.5 1341.5h0M395.1 1250.0h0M436.3 1296.7h0M253.2 1253.4h0M365.2 1155.2h0M376.1 1225.7h0M206.3 976.5h0M239.4 1035.3h0M226.8 1016.1h0M303.2 966.3h0M484.5 1336.7h0M328.9 1297.8h0M342.8 989.3h0M362.8 1021.1h0M401.5 1242.5h0M614.4 1330.3h0M311.6 965.4h0M269.3 1021.4h0M286.8 1162.5h0M294.8 991.4h0M174.4 1037.5h0M252.4 1079.3h0M244.0 1241.7h0M413.0 1275.7h0M311.1 1164.9h0M358.9 1092.4h0M451.6 1317.0h0M342.7 931.6h0M352.7 1142.1h0M386.7 1064.0h0M222.0 1266.3h0M208.3 1274.9h0M390.4 1128.8h0M521.1 996.4h0M522.3 997.6h0M427.4 1314.0h0M249.0 948.8h0M297.4 1135.6h0M295.2 1187.0h0M411.2 1205.7h0M309.3 1007.3h0M293.8 1064.6h0M354.3 1248.1h0M440.0 1342.7h0M223.9 1141.0h0M298.8 1290.5h0M416.4 1171.9h0M398.9 1134.1h0M528.1 1027.5h0M393.8 1322.3h0M163.8 906.4h0M372.6 1247.3h0M169.9 1004.9h0M320.3 905.7h0M320.2 1214.4h0M384.6 1090.6h0M416.9 1293.9h0M208.6 1035.0h0M164.1 956.1h0M388.6 1200.9h0M338.9 1240.7h0M264.5 1299.1h0M374.3 1145.5h0M403.6 1008.0h0M305.1 1152.8h0M189.8 935.3h0M414.4 1250.0h0M187.4 893.6h0M278.1 1218.2h0M380.7 1028.4h0M567.9 1080.5h0M178.2 1231.4h0M411.5 1226.5h0M410.2 1145.6h0M352.4 985.6h0M515.4 977.8h0M179.5 1101.4h0M385.3 1208.2h0M372.4 1048.8h0M219.7 1128.3h0M305.0 1314.6h0M406.8 1266.5h0M405.8 1216.8h0M302.1 1254.1h0M312.1 1287.9h0M315.5 895.6h0M342.2 894.1h0M389.7 1067.9h0M212.5 1190.5h0M329.6 1315.4h0M610.9 1092.9h0M546.9 1059.8h0M401.5 1031.7h0M297.8 1195.9h0M593.7 1319.2h0M359.8 1133.4h0M397.2 1138.3h0M336.2 1266.1h0M371.5 1115.1h0M276.5 1195.9h0M287.4 1230.3h0M415.6 1341.7h0M322.6 1219.3h0M331.1 1200.6h0M405.6 1056.4h0M391.5 1043.5h0M528.2 1317.9h0M364.5 1193.7h0M241.6 1201.1h0M298.4 961.3h0M188.3 1060.2h0M225.2 923.9h0M361.4 929.7h0M350.2 1047.7h0M352.1 1002.7h0M382.5 1228.5h0M514.7 1333.4h0M496.4 1318.8h0M287.1 936.1h0M185.6 1267.4h0M377.6 1341.1h0M300.4 1177.8h0M387.0 1332.9h0M302.3 992.2h0M390.4 1136.8h0M386.9 913.0h0M245.8 1202.1h0M405.5 1219.6h0M328.1 1260.4h0M329.8 1066.4h0M231.7 1252.9h0M413.5 1242.2h0M373.8 1129.2h0M295.7 1115.0h0M247.4 908.8h0M429.6 1277.9h0M259.8 1123.2h0M286.8 1113.2h0M403.7 1201.1h0M363.8 1069.7h0M616.0 1090.6h0M290.9 1199.2h0M288.9 1006.9h0M253.6 1039.4h0M177.6 1332.4h0M336.2 1106.7h0M236.6 1160.5h0M358.1 922.5h0M399.5 925.1h0M497.7 897.3h0M387.9 977.6h0M410.1 1291.3h0M318.5 1190.9h0M301.7 915.2h0M378.3 1302.6h0M312.0 1246.6h0M330.5 1038.6h0M421.5 1316.2h0M383.1 1320.5h0M347.3 1262.2h0M356.5 1010.2h0M398.5 951.9h0M409.4 1154.8h0M333.5 1244.7h0M397.0 981.8h0M346.1 891.6h0M394.8 962.3h0M448.2 1337.0h0M279.4 1275.0h0M231.7 1254.3h0M242.8 1136.8h0M322.8 1285.5h0M537.8 1340.9h0M216.5 1243.6h0M406.5 1286.3h0M174.5 1112.5h0M385.6 1208.4h0M341.0 902.4h0M353.3 1260.0h0M504.5 953.7h0M606.6 1316.3h0M522.1 1329.3h0M264.6 1227.6h0M229.0 1290.4h0M229.2 1229.3h0M313.6 1237.8h0M562.3 1342.7h0M368.0 1147.0h0M602.1 1328.4h0M393.1 918.8h0M502.8 953.0h0M412.5 1125.9h0M423.8 1278.6h0M344.0 1239.0h0M414.9 1274.8h0M293.9 1111.1h0M284.2 1259.5h0M293.9 1014.8h0M222.2 1235.8h0M366.1 1226.3h0M212.7 1170.3h0M374.7 1038.1h0M220.8 1232.8h0M244.0 1140.8h0M336.8 1171.1h0M386.3 1080.9h0M312.5 1031.2h0M396.6 1272.0h0M173.3 982.9h0M383.2 1110.2h0M178.1 1163.3h0M349.1 1312.2h0M380.6 1279.7h0M202.6 1326.3h0M411.9 1284.5h0M317.7 1243.3h0M325.7 938.9h0M283.0 1097.3h0M206.1 973.8h0M177.5 1213.9h0M345.0 1152.4h0M258.6 1061.2h0M273.2 1299.9h0M259.8 1185.4h0M294.4 978.1h0M400.7 1046.1h0M361.7 1201.2h0M347.0 1277.2h0M275.9 1045.9h0M172.1 1138.4h0M246.8 1259.9h0M346.0 1237.6h0M562.6 1338.9h0M340.8 1229.3h0M557.4 1316.7h0M372.6 1160.5h0M226.6 935.1h0M403.6 1240.5h0M371.0 1298.5h0M402.8 1236.4h0M378.3 1255.0h0M339.1 1208.8h0M390.9 1115.1h0M513.1 906.4h0M277.3 1220.0h0M166.0 1185.0h0M528.1 1336.2h0M375.7 972.9h0M366.1 922.2h0M358.5 1224.2h0M307.0 1182.4h0M486.8 1320.4h0M576.7 1328.5h0M171.6 1207.4h0M419.7 1276.2h0M287.4 1088.5h0M318.1 1018.9h0M394.2 1273.8h0M331.8 1161.1h0M397.8 1136.8h0M245.9 1043.8h0M318.7 1014.0h0M385.6 1026.5h0M385.3 1312.7h0M238.1 1079.1h0M273.4 1282.5h0M348.0 1207.4h0M362.0 1265.6h0M446.6 1322.1h0M339.2 1226.7h0M380.5 1202.2h0M227.0 1315.9h0M474.5 1331.0h0M438.1 1337.5h0M270.8 1274.9h0M219.2 1160.4h0M200.6 1333.9h0M362.2 1207.8h0M295.9 1261.8h0M611.9 1334.5h0M353.6 1163.9h0M372.7 968.6h0M249.1 1299.8h0M342.4 1176.7h0M357.6 920.7h0M570.8 1311.7h0M366.8 895.1h0M363.4 1282.7h0M282.0 943.5h0M385.9 991.4h0M386.6 1333.7h0M532.1 1034.3h0M390.8 1131.1h0M236.0 895.0h0M328.1 1175.7h0M371.6 917.4h0M363.1 932.2h0M414.6 1219.7h0M386.7 1137.4h0M358.5 1004.0h0M239.3 1021.8h0M369.5 1014.3h0M354.3 957.8h0M382.6 1143.7h0M366.0 973.1h0M308.2 949.3h0M414.8 1264.3h0M304.6 1102.1h0M294.9 1151.4h0M366.8 1296.8h0M306.0 1015.6h0M414.0 1151.6h0M210.7 1072.1h0M298.5 996.2h0M367.5 1268.4h0M385.0 1315.2h0M196.7 1281.6h0M389.7 1191.2h0M218.4 889.6h0M274.2 1255.4h0M575.5 1078.5h0M328.1 1114.2h0M387.3 1246.9h0M313.7 1222.3h0M367.6 1309.8h0M404.8 1033.7h0M365.6 1152.2h0M216.5 927.8h0M257.7 1009.1h0M381.6 1237.9h0M489.6 912.3h0M289.4 1197.8h0M220.4 952.5h0M237.8 1245.3h0M407.1 1060.3h0M207.1 961.8h0M405.2 1022.8h0M284.9 1186.8h0M348.9 1033.6h0M301.1 1187.8h0M465.2 1328.2h0M327.9 1057.3h0M536.6 1025.2h0M253.5 1144.8h0M602.9 1322.1h0M162.5 1291.5h0M360.4 1188.7h0M401.9 1072.1h0M596.3 1016.8h0M339.8 1239.2h0M349.3 1317.6h0M385.5 1198.9h0M408.2 1104.5h0M563.4 1327.7h0M184.5 1169.9h0M281.3 955.8h0M395.3 1051.6h0M184.3 1202.5h0M546.0 985.0h0M281.7 1224.9h0M358.7 1058.1h0M172.2 1095.2h0M375.0 1165.4h0M588.6 1009.3h0M282.3 1226.4h0M265.4 1312.0h0M490.9 1333.3h0M517.3 937.0h0M395.3 894.1h0M514.9 1334.5h0M344.2 1305.4h0M281.3 1183.5h0M366.1 890.8h0M224.1 1229.6h0M406.8 1326.5h0M546.3 1326.2h0M205.3 1069.3h0M435.6 1315.9h0M396.4 1343.0h0M192.7 981.7h0M322.1 1200.9h0M245.8 1342.7h0M295.8 1009.4h0M386.2 995.2h0M421.8 1339.5h0M241.4 1041.8h0M476.4 1322.4h0M403.9 1012.0h0M309.6 1255.4h0M412.0 1131.9h0M418.2 1343.4h0M376.3 1107.0h0M281.7 1020.5h0M290.4 966.4h0M359.3 1198.9h0M382.5 1339.7h0M405.4 1016.2h0M267.1 1326.9h0M216.9 1010.1h0M391.2 1337.9h0M356.9 1051.6h0M162.4 1134.3h0M342.2 1208.7h0M333.4 1164.5h0M363.6 940.9h0M340.6 1249.8h0M350.2 1162.4h0M382.9 1314.0h0M489.6 916.5h0M358.1 1275.6h0M216.9 928.7h0M256.5 1243.7h0M388.1 950.2h0M324.8 1212.8h0M183.3 1083.6h0M487.5 905.6h0M256.9 965.5h0M398.4 1279.4h0M307.1 1144.6h0M274.9 1194.6h0M396.3 1220.6h0M317.6 1254.8h0M486.3 892.8h0M303.2 1201.7h0M433.4 1299.2h0M376.9 974.5h0M397.0 1330.8h0M238.2 1316.5h0M543.0 1009.9h0M232.8 993.6h0M325.5 1319.5h0M362.8 1129.7h0M187.1 1266.0h0M415.5 1199.2h0M436.4 1321.5h0M382.7 938.0h0M392.2 1055.8h0M276.2 1281.0h0M338.4 1236.0h0M424.1 1313.5h0M613.7 1086.9h0M190.6 897.3h0M282.2 1200.9h0M392.0 1235.7h0M162.8 1323.7h0M219.1 1037.2h0M407.0 1090.0h0M266.6 1111.5h0M446.3 1319.5h0M501.2 1330.2h0M529.7 1332.1h0M381.0 1277.0h0M404.9 965.6h0M368.8 1303.5h0M588.2 1088.5h0M353.1 1073.0h0M395.1 933.7h0M402.7 1175.7h0M382.9 891.3h0M341.4 1102.8h0M371.9 1024.3h0M214.3 1150.1h0M226.6 1100.8h0M261.4 1232.1h0M371.8 1105.7h0M403.3 960.6h0M202.6 1312.0h0M383.6 1206.4h0M255.1 976.0h0M345.7 1274.8h0M346.6 1037.5h0M329.4 1314.1h0M319.5 1020.1h0M360.8 1111.1h0M204.9 894.1h0M403.1 1149.5h0M226.8 1265.5h0M332.3 1148.4h0M577.8 1085.4h0M443.7 1320.3h0M401.6 1307.4h0M394.4 891.8h0M336.7 1019.2h0M488.5 1327.2h0M407.7 1201.3h0M318.1 1185.0h0M227.4 1133.9h0M226.5 1024.1h0M242.1 1321.1h0M178.5 1004.2h0M408.9 1082.1h0M177.4 1111.0h0M296.0 1002.0h0M403.5 1156.9h0M511.7 958.7h0M320.6 1096.6h0M186.5 1301.8h0M256.8 963.7h0M384.8 1330.2h0M178.3 1107.0h0M411.4 1230.6h0M199.0 1134.0h0M255.7 1029.3h0M410.2 1144.2h0M407.3 1176.6h0M356.9 1176.7h0M411.9 1134.8h0M520.7 1316.3h0M344.1 1322.6h0M396.7 1033.2h0M549.4 1329.6h0M385.5 1172.2h0M425.5 1334.5h0M186.7 1334.4h0M344.1 1038.1h0M385.9 1026.2h0M399.1 941.2h0M375.6 1322.1h0M344.7 1018.3h0M301.4 1341.8h0M401.3 1138.0h0M395.7 1167.7h0M562.0 1063.9h0M237.5 1186.6h0M239.2 1052.8h0M295.7 1343.3h0M394.1 926.2h0M361.6 946.2h0M391.3 897.6h0M337.1 1309.3h0M389.1 1007.5h0M272.6 1326.1h0M345.0 1301.2h0M414.3 1298.1h0M367.6 1022.6h0M313.8 1052.6h0M306.3 1310.7h0M291.2 1304.9h0M235.4 1194.7h0M311.8 944.7h0M390.2 1041.1h0M378.4 1167.3h0M439.7 1302.6h0M562.7 1333.9h0M402.9 973.5h0M337.1 1318.8h0M289.8 1137.9h0M338.0 1258.4h0M401.4 1249.7h0M357.6 915.5h0M293.0 1307.7h0M347.0 1227.4h0M284.7 1207.6h0M268.9 1077.8h0M602.0 1319.4h0M185.7 1314.1h0M401.0 1128.3h0M286.8 1123.7h0M500.2 898.6h0M189.0 1305.0h0M231.1 1260.9h0M539.6 958.2h0M582.3 1328.8h0M314.5 910.1h0M390.4 1125.6h0M402.3 1232.8h0M378.9 958.4h0M495.3 913.0h0M383.6 1257.5h0M325.3 899.4h0M277.8 982.4h0M401.8 1161.5h0M394.2 1158.9h0M294.4 1226.1h0M363.4 986.0h0M172.7 1337.6h0M173.7 1172.4h0M214.5 969.3h0M324.7 1138.0h0M370.8 1084.4h0M544.4 1314.0h0M321.7 944.7h0M298.2 1038.4h0M341.9 1263.3h0M508.4 1331.8h0M550.5 1313.0h0M513.0 1327.3h0M389.9 955.5h0M290.1 1064.1h0M379.7 945.7h0M352.3 1214.8h0M486.9 1313.2h0M403.1 1201.9h0M405.7 1306.0h0M407.6 1108.9h0M315.0 1057.4h0M379.1 942.8h0M192.4 1336.5h0M569.1 1330.2h0M406.0 1102.9h0M312.9 1107.8h0M415.5 1191.2h0M448.8 1331.1h0M394.0 1136.1h0M192.8 892.6h0M251.3 1109.5h0M283.8 1194.3h0M186.3 1268.2h0M403.9 1050.1h0M390.3 1246.1h0M393.1 1251.2h0M318.5 1059.6h0M256.2 1138.1h0M281.9 909.1h0M408.2 1192.9h0M256.9 1277.9h0M310.9 1107.2h0M243.2 1000.6h0M233.6 1337.8h0M298.5 1248.7h0M589.2 1329.9h0M403.1 1054.2h0M411.4 1172.1h0M203.9 1061.6h0M476.7 1339.6h0M288.5 1221.2h0M367.5 976.2h0M227.0 1104.1h0M393.0 1284.6h0M409.2 1310.5h0M276.0 1295.1h0M324.8 1136.9h0M262.4 1005.8h0M267.7 969.3h0M331.9 1056.4h0M505.9 926.5h0M293.0 901.5h0M611.5 1317.6h0M372.7 921.2h0M562.0 1322.8h0M363.3 1116.1h0M434.8 1288.3h0M521.9 1318.4h0M281.8 1324.4h0M192.5 1266.5h0M248.6 946.4h0M285.1 1223.4h0M232.5 1294.3h0M353.1 1331.4h0M361.6 1067.0h0M259.5 1194.0h0M299.5 1080.1h0M224.1 1276.1h0M577.2 986.9h0M412.8 1147.2h0M418.1 1207.1h0M304.2 979.8h0M309.5 933.3h0M212.0 1198.6h0M284.0 1018.0h0M254.5 1331.7h0M422.0 1321.4h0M184.3 908.9h0M389.7 1146.9h0M275.8 935.6h0M290.4 1152.3h0M172.9 999.5h0M615.6 1338.4h0M362.4 1196.5h0M375.3 1166.7h0M588.0 1089.4h0M234.0 1132.9h0M268.4 1215.9h0M257.4 1158.9h0M230.4 910.3h0M210.5 1098.3h0M382.4 1218.8h0M477.5 1318.8h0M409.8 1112.0h0M415.9 1252.7h0M259.8 1073.0h0M547.1 1330.9h0M410.1 1207.0h0M174.3 1218.2h0M397.5 1110.3h0M344.3 944.5h0M188.3 1181.0h0M404.6 1178.4h0M177.0 1155.0h0M265.6 1156.0h0M378.8 1233.7h0M248.6 1261.7h0M281.7 1269.8h0M394.8 905.7h0M317.5 1231.1h0M349.8 1214.3h0M185.1 1214.9h0M290.4 1292.8h0M294.1 958.0h0M411.1 1180.0h0M220.5 1275.1h0M548.4 1329.9h0M169.5 1048.3h0M329.9 1263.2h0M406.3 1167.1h0M366.3 1003.7h0M429.9 1304.3h0M410.2 1185.9h0M397.5 972.8h0M404.6 1153.6h0M218.7 1176.5h0M332.4 1014.7h0M203.3 1304.0h0M293.7 1062.3h0M192.7 914.9h0M462.1 1327.7h0M406.8 1126.5h0M392.8 978.1h0M418.0 1229.0h0M366.4 976.3h0M194.3 1262.1h0M398.8 912.1h0M382.2 958.7h0M395.6 1131.1h0M360.6 1131.4h0M253.3 972.4h0M413.5 1321.0h0M524.9 1315.5h0M310.4 1190.0h0M172.5 969.3h0M521.1 1343.2h0M589.4 1069.3h0M196.6 976.6h0M459.3 1336.9h0M280.2 1339.6h0M388.9 1144.2h0M184.4 1217.2h0M191.8 1139.5h0M244.4 1315.4h0M289.6 889.5h0M328.3 1192.0h0M284.4 1286.9h0M229.6 1148.0h0M339.3 1268.7h0M302.0 917.0h0M181.5 981.7h0M183.5 1065.8h0M416.8 1275.2h0M185.6 1039.4h0M346.6 1077.2h0M391.4 924.7h0M544.8 1334.5h0M218.0 1090.2h0M293.8 1014.8h0M536.8 945.9h0M588.0 1090.2h0M367.4 1317.6h0M200.9 1092.1h0M393.9 1279.1h0M518.8 1314.6h0M339.9 1241.9h0M419.0 1319.6h0M443.5 1338.8h0M612.0 1328.9h0M371.9 1164.1h0M372.8 987.1h0M375.3 1335.9h0M585.7 1315.6h0M168.2 1024.2h0M242.2 1250.7h0M286.2 918.7h0M532.5 1017.3h0M415.3 1318.7h0M306.1 1313.8h0M382.7 1223.1h0M395.1 953.1h0M467.5 1336.1h0M205.6 1115.8h0M172.8 922.6h0M170.9 1241.1h0M364.0 1015.9h0M557.8 1317.9h0M592.5 1073.3h0M313.1 1028.9h0M412.6 1322.6h0M168.7 1221.7h0M220.8 941.6h0M361.5 1018.9h0M239.3 1005.7h0M301.8 961.5h0M417.0 1254.2h0M321.8 1111.0h0M363.4 1045.6h0M193.9 1309.1h0M339.3 1240.5h0M220.9 1342.3h0M201.1 1133.7h0M520.7 1332.2h0M253.0 1262.7h0M316.4 1056.6h0M251.8 1281.8h0M313.5 1179.7h0M185.7 1149.2h0M399.3 1339.4h0M169.0 1117.9h0M485.7 897.3h0M297.8 1265.0h0M444.7 1336.9h0M172.8 1123.8h0M165.8 1286.8h0M172.1 1008.9h0M331.9 975.5h0M374.2 1176.5h0M401.4 1237.3h0M372.8 1275.7h0M468.6 1319.4h0M288.2 1286.8h0M297.5 1290.9h0M361.5 1043.0h0M311.2 1126.8h0M166.9 1164.3h0M364.0 1081.7h0M414.7 1186.7h0M269.1 1295.2h0M248.3 957.8h0M392.7 1273.7h0M198.0 895.2h0M322.7 1251.4h0M516.0 1336.1h0M427.1 1275.1h0M276.7 1211.1h0M338.6 1146.2h0M300.5 1335.2h0M300.7 1295.4h0M256.1 1078.8h0M422.4 1239.9h0M163.4 1128.5h0M330.3 1318.0h0M322.7 1175.9h0M599.6 1091.3h0M538.8 1314.8h0M402.1 1265.5h0M397.1 1186.4h0M386.8 1307.4h0M395.2 1020.4h0M550.9 1341.3h0M402.7 1077.5h0M273.5 1171.6h0M393.6 1172.8h0M303.7 1092.0h0M316.9 1324.5h0M268.2 1122.4h0M267.9 1050.2h0M392.8 1197.5h0M400.4 1187.8h0M613.2 1334.8h0M347.9 1008.3h0M225.5 1099.2h0M164.6 930.7h0M286.0 1065.3h0M510.8 972.4h0M300.4 1012.1h0M396.9 1265.1h0M566.8 1338.3h0M226.2 1159.6h0M187.2 922.1h0M511.6 1314.1h0M271.7 1039.6h0M196.0 1052.1h0M334.5 987.5h0M317.1 924.3h0M170.8 1300.0h0M305.3 1115.3h0M175.9 1197.9h0M263.8 1123.5h0M287.8 1095.4h0M317.5 1249.0h0M347.0 1031.8h0M299.9 1066.1h0M333.0 1114.5h0M430.2 1275.0h0M579.8 977.7h0M365.8 963.8h0M294.5 989.3h0M376.5 1301.3h0M295.2 1158.8h0M387.1 1064.4h0M381.5 1178.2h0M342.9 1254.8h0M402.0 1029.4h0M410.1 1250.6h0M437.3 1316.6h0M182.9 1322.2h0M335.7 1164.9h0M379.0 913.3h0M395.5 1265.3h0M426.8 1257.4h0M317.9 1135.1h0M221.8 1225.1h0M414.0 1227.5h0M364.9 1229.9h0M328.9 1120.0h0M359.5 1315.8h0M255.7 1290.5h0M219.4 1158.3h0M285.1 1169.4h0M250.2 947.0h0M334.7 1159.6h0M438.8 1319.1h0M604.1 1329.3h0M375.6 1144.0h0M548.0 1321.6h0M342.4 1301.8h0M344.5 1263.3h0M543.2 1311.6h0M327.4 1105.0h0M581.1 1342.1h0M388.1 1326.9h0M365.5 1213.2h0M304.3 1330.3h0M463.1 1326.8h0M506.6 1325.6h0M227.8 1029.6h0M541.7 1318.0h0M234.0 993.6h0M205.6 962.3h0M510.3 959.7h0M376.3 1220.8h0M403.2 1004.6h0M388.1 1075.1h0M173.3 1208.7h0M347.2 1099.4h0M179.9 1172.6h0M270.8 934.7h0M382.9 1305.4h0M314.1 980.6h0M200.5 1067.2h0M354.6 1097.0h0M350.4 1107.8h0M410.0 1306.3h0M300.2 1102.9h0M294.8 1051.8h0M375.1 1045.0h0M491.6 1330.0h0M217.8 1002.8h0M389.5 1029.5h0M397.5 1306.3h0M403.0 1163.3h0M185.2 1105.6h0M256.9 1117.7h0M216.6 1192.6h0M470.5 1326.2h0M299.1 1220.7h0M384.9 1030.2h0M391.9 1271.0h0M333.6 1191.7h0M298.1 1261.1h0M246.0 924.5h0M502.5 1314.2h0M351.7 931.9h0M348.8 1242.6h0M295.1 1174.9h0M372.2 1170.7h0M220.7 1007.4h0M399.4 1194.2h0M425.5 1303.0h0M425.2 1333.7h0M468.5 1315.3h0M562.3 1313.6h0M398.4 966.6h0M335.2 1199.8h0M235.9 888.8h0M179.6 1185.2h0M401.7 1022.9h0M231.2 1168.0h0M246.8 1295.0h0M319.8 1094.8h0M558.5 1069.5h0M335.1 1086.6h0M357.3 1329.5h0M383.1 937.7h0M617.4 1323.9h0M251.3 938.2h0M221.2 1035.8h0M509.3 1329.5h0M431.4 1337.1h0M361.1 1111.9h0M392.9 1007.2h0M256.8 930.8h0M332.4 926.9h0M201.1 1139.0h0M242.5 1262.0h0M249.6 1072.6h0M409.4 1183.4h0M222.8 1143.4h0M171.8 918.4h0M421.4 1340.6h0M254.9 1284.8h0M164.7 981.6h0M170.0 1268.2h0M555.2 1050.3h0M286.6 1015.9h0M347.7 1260.6h0M243.1 1149.1h0M258.4 1018.1h0M368.8 1256.9h0M399.3 1259.3h0M190.8 1195.2h0M384.2 1086.3h0M171.5 1173.8h0M389.5 1262.9h0M363.4 1307.4h0M412.2 1333.7h0M377.9 1292.3h0M404.4 1004.7h0M381.1 1145.1h0M308.8 1191.7h0M295.5 901.3h0M501.4 897.3h0M603.8 1332.7h0M314.0 1193.8h0M320.5 1231.9h0M281.2 1068.7h0M423.3 1261.4h0M333.5 1163.7h0M382.1 1103.7h0M408.5 1202.4h0M286.2 1169.8h0M242.7 1307.2h0M515.4 989.8h0M200.2 920.3h0M497.5 1326.7h0M469.5 1335.7h0M518.2 984.8h0M197.6 1027.2h0M160.8 1292.8h0M343.0 1307.8h0M328.3 928.2h0M367.2 1057.6h0M521.8 1317.0h0M178.2 1127.3h0M386.9 1274.1h0M187.5 1105.0h0M408.8 1269.3h0M188.7 1187.7h0M332.2 1053.7h0M229.3 1197.2h0M488.5 901.7h0M405.1 1202.5h0M188.7 990.8h0M384.4 1293.1h0M166.1 1146.4h0M517.2 993.2h0M370.2 1192.8h0M439.2 1301.6h0M381.5 1135.2h0M501.1 934.5h0M493.3 1315.8h0M492.0 926.4h0M203.9 1100.7h0M423.2 1281.1h0M377.9 1288.7h0M192.3 1227.6h0M381.8 1208.3h0M347.4 1315.3h0M419.5 1281.7h0M516.6 993.8h0M427.9 1322.8h0M338.0 1261.5h0M303.3 1287.7h0M273.4 904.0h0M366.4 929.6h0M445.2 1339.0h0M347.4 1241.8h0M261.5 1117.2h0M203.9 1250.1h0M376.6 1297.9h0M340.3 1149.2h0M528.7 1327.5h0M348.5 1322.4h0M388.4 1158.1h0M218.7 1306.8h0M395.9 1046.5h0M415.2 1229.7h0M403.2 1115.6h0M411.3 1285.7h0M247.2 1289.4h0M534.0 1023.6h0M394.1 1279.0h0M327.1 1101.3h0M396.9 939.3h0M330.6 1125.1h0M263.9 1164.7h0M405.7 1037.9h0M534.9 1343.0h0M271.5 1091.8h0M411.9 1141.8h0M402.4 1122.9h0M393.3 1258.0h0M181.3 1016.6h0M235.0 948.0h0M276.1 906.0h0M405.5 1295.9h0M379.3 970.8h0M531.9 1017.7h0M359.0 1145.9h0M409.9 1065.3h0M377.5 981.1h0M342.2 1339.9h0M353.6 1077.1h0M337.8 1088.8h0M255.3 1296.3h0M201.4 962.7h0M352.7 981.6h0M553.6 1056.6h0M529.9 1023.2h0M403.6 1256.2h0M376.1 1082.9h0M173.5 1196.9h0M609.7 1315.4h0M410.4 1258.1h0M217.4 1317.1h0M395.0 971.7h0M392.6 1212.6h0M409.8 1092.8h0M164.5 1272.3h0M289.9 907.5h0M405.7 1222.7h0M401.8 950.8h0M517.4 1325.5h0M511.4 937.1h0M550.9 1065.0h0M284.2 1192.0h0M388.6 958.3h0M332.9 1208.5h0M227.6 1134.2h0M232.0 1308.0h0M173.0 1097.3h0M405.1 1048.4h0M332.2 1212.4h0M222.2 1235.6h0M599.7 1330.5h0M301.6 972.0h0M188.6 1272.4h0M596.2 1319.6h0M333.0 1223.3h0M183.0 1099.4h0M175.9 1067.1h0M376.6 1162.6h0M375.6 1225.8h0M356.7 1188.3h0M591.6 1089.9h0M191.1 909.9h0M256.8 1339.5h0M520.3 1312.9h0M238.4 968.1h0M335.7 1084.9h0M199.3 1108.8h0M314.5 1279.0h0M330.4 916.0h0M413.0 1240.2h0M257.3 1311.6h0M409.5 1118.3h0M261.7 1294.4h0M396.9 1217.1h0M253.1 1328.2h0M209.5 1134.1h0M194.9 1120.9h0M383.6 1245.3h0M379.6 1168.7h0M318.0 1129.7h0M393.5 1028.4h0M410.1 1079.5h0M256.2 1339.6h0M526.1 1017.6h0M398.7 1201.8h0M360.5 908.4h0M422.4 1303.9h0M309.4 951.2h0M513.1 980.3h0M353.6 1092.5h0M298.4 1210.0h0M350.8 1130.0h0M510.1 1339.0h0M442.5 1322.7h0M395.7 1063.9h0M404.3 1018.9h0M363.6 968.3h0M284.8 1236.9h0M402.9 1295.5h0M374.2 1143.7h0M405.8 1339.7h0M604.3 1316.0h0M387.4 1308.9h0M387.4 1134.4h0M325.1 1130.3h0M352.1 1308.4h0M388.6 1329.2h0M397.6 1091.3h0M213.9 975.4h0M205.3 1074.9h0M261.7 1210.9h0M403.5 989.1h0M411.8 1121.7h0M203.8 1083.9h0M329.5 931.5h0M351.0 1157.6h0M403.4 1161.2h0M353.7 1117.6h0M301.8 1257.5h0M205.8 1124.6h0M432.1 1337.8h0M307.4 1142.2h0M305.6 1054.3h0M413.1 1253.2h0M352.7 1095.5h0M162.4 889.8h0M348.0 1195.3h0M483.0 1340.7h0M223.4 1230.6h0M221.3 1170.2h0M202.4 1035.0h0M235.6 915.3h0M398.5 1126.8h0M190.5 1214.6h0M312.2 938.3h0M586.9 1338.1h0M277.5 1179.3h0M265.5 1124.8h0M400.9 992.4h0M262.5 1069.5h0M396.3 933.9h0M394.6 1237.6h0M358.2 1097.6h0M300.8 930.1h0M233.2 1296.0h0M387.2 923.2h0M428.9 1282.5h0M270.9 1175.9h0M348.0 975.6h0M462.8 1320.5h0M546.8 1337.1h0M253.3 1044.6h0M356.7 1312.6h0M616.0 1096.7h0M243.8 1173.5h0M382.6 1227.7h0M238.3 1171.9h0M396.1 1182.5h0M317.2 1338.3h0M309.2 1119.5h0M355.5 1141.6h0M389.4 939.8h0M187.7 1334.2h0M393.0 1234.2h0M220.2 907.1h0M402.1 1302.4h0M423.3 1272.8h0M364.6 1221.1h0M165.6 958.7h0M396.1 1251.3h0M284.1 1048.8h0M292.1 1093.8h0M214.1 1331.6h0M299.0 1020.9h0M508.0 969.2h0M481.3 1315.3h0M190.0 1183.0h0M299.5 1316.7h0M383.5 959.5h0M275.6 1155.4h0M311.3 1125.1h0M397.9 1308.5h0M419.5 1225.0h0M224.0 911.3h0M438.2 1310.8h0M268.6 1237.9h0M349.0 1240.7h0M319.3 1158.4h0M433.6 1283.3h0M171.6 935.9h0M388.4 1333.8h0M174.8 1051.5h0M229.1 1159.4h0M388.4 1172.7h0M463.3 1326.0h0M458.6 1328.1h0M375.9 1144.9h0M196.1 1113.0h0M361.2 1101.3h0M202.2 1102.9h0M242.6 1084.4h0M169.4 975.3h0M185.9 1169.3h0M225.4 1326.9h0M406.6 1023.3h0M595.4 1053.1h0M280.9 1225.9h0M342.7 1294.4h0M304.0 1273.1h0M191.1 1060.0h0M401.0 1007.2h0M375.3 984.5h0M303.8 1287.1h0M220.1 926.6h0M423.8 1314.4h0M254.6 917.2h0M342.8 1253.2h0M163.9 1307.1h0M269.5 1072.5h0M374.3 1330.7h0M457.1 1324.4h0M188.2 1186.1h0M483.5 898.0h0M167.2 1195.2h0M401.7 1219.9h0M333.1 1293.8h0M257.7 1097.1h0M399.2 967.0h0M387.7 1080.4h0M247.5 1223.5h0M393.1 1234.4h0M333.1 1191.0h0M334.4 1310.7h0M385.6 1054.8h0M375.9 1019.2h0M166.4 934.1h0M399.0 1035.3h0M281.0 1321.5h0M373.7 1129.0h0M305.0 972.1h0M431.6 1332.2h0M608.9 1080.3h0M350.3 1237.4h0M377.0 1163.5h0M296.3 1123.1h0M206.3 1068.2h0M205.2 1257.7h0M349.9 1096.6h0M245.0 1127.8h0M391.1 1147.3h0M192.2 1085.8h0M272.6 1280.2h0M382.8 1269.0h0M434.4 1292.0h0M410.8 1176.2h0M270.1 972.7h0M387.2 1112.9h0M364.9 904.5h0M344.9 978.4h0M181.7 1325.9h0M529.7 1023.1h0M333.4 1201.0h0M396.7 1269.1h0M196.1 1135.7h0M581.5 1340.8h0M429.6 1303.6h0M597.2 1047.6h0M368.1 999.2h0M408.0 1032.3h0M358.2 1091.3h0M180.8 1335.8h0M377.7 915.8h0M331.2 1152.7h0M358.8 903.4h0M592.0 1089.0h0M192.6 1134.7h0M433.1 1306.8h0M340.3 1024.9h0M256.6 1332.7h0M413.7 1187.8h0M260.0 1066.5h0M205.8 1030.6h0M190.5 1061.8h0M325.1 1193.3h0M348.5 1188.1h0M275.7 1144.8h0M332.5 976.0h0M278.3 1217.7h0M278.3 1316.1h0M331.6 938.1h0M415.3 1319.9h0M297.6 1208.2h0M360.1 906.1h0M262.8 965.5h0M361.8 1049.5h0M298.9 1035.9h0M356.2 901.3h0M383.5 1329.4h0M200.2 1244.0h0M210.4 1160.6h0M396.7 1277.2h0M462.4 1338.9h0M257.0 1109.8h0M507.6 957.4h0M412.8 1197.8h0M292.1 1184.6h0M316.9 1278.9h0M297.1 1178.8h0M405.7 1280.9h0M160.9 1077.7h0M269.0 1227.4h0M343.8 1099.7h0M520.7 1004.9h0M564.5 1338.7h0M230.7 1145.2h0M403.6 983.2h0M400.8 951.5h0M469.1 1331.1h0M219.7 1279.7h0M197.5 1022.2h0M593.3 1320.1h0M506.1 1312.3h0M314.4 993.1h0M361.9 1281.0h0M344.2 1213.7h0M394.5 1194.9h0M353.3 985.3h0M404.7 1097.6h0M362.2 970.9h0M179.3 1227.4h0M244.2 888.2h0M433.2 1287.2h0M317.2 1200.6h0M239.7 933.9h0M378.5 1222.1h0M209.3 911.5h0M365.5 1149.2h0M589.0 1321.4h0M296.6 1315.8h0M211.5 1182.2h0M395.3 1189.8h0M401.8 951.1h0M311.9 1306.5h0M307.6 1119.9h0M406.8 1106.1h0M524.2 980.7h0M368.0 1257.5h0M162.8 961.9h0M419.3 1254.5h0M230.7 1318.0h0M216.7 1018.9h0M590.2 1319.6h0M217.0 974.8h0M380.7 994.8h0M409.9 1189.6h0M471.7 1329.7h0M495.2 922.3h0M590.0 1088.5h0M381.5 1289.0h0M408.5 1084.1h0M423.1 1309.2h0M329.2 1051.4h0M460.9 1333.3h0M416.0 1207.9h0M429.9 1269.6h0M178.9 1299.3h0M251.2 1228.9h0M284.7 907.5h0M421.0 1287.3h0M165.6 1222.5h0M394.0 1288.8h0M249.2 1132.8h0M374.8 1087.1h0M390.5 1069.1h0M165.3 975.9h0M318.0 1304.5h0M235.1 1335.7h0M378.6 1063.4h0M355.1 1296.1h0M378.5 1321.4h0M402.4 986.1h0M332.4 1276.4h0M365.0 1088.0h0M354.5 1275.9h0M401.6 1077.3h0M401.7 976.0h0M403.8 1153.7h0M336.6 1089.1h0M165.4 890.2h0M306.8 1264.2h0M205.7 968.6h0M237.7 1274.1h0M340.9 1136.1h0M379.5 1093.6h0M549.3 1317.1h0M290.8 1094.4h0M201.7 1288.0h0M498.2 926.3h0M213.2 1280.7h0M439.5 1341.7h0M393.2 1219.7h0M173.8 1146.0h0M573.6 1062.8h0M409.4 1271.7h0M376.2 1142.3h0M219.0 1331.9h0M405.8 1209.1h0M428.8 1284.4h0M511.8 1321.2h0M380.6 1191.0h0M343.0 1103.3h0M380.0 1241.5h0M409.6 1154.2h0M612.3 1085.3h0M411.8 1301.0h0M204.6 1334.0h0M356.9 1230.3h0M228.1 1277.5h0M600.2 954.4h0M440.9 1303.5h0M259.4 1285.2h0M396.8 964.7h0M328.2 1221.4h0M392.7 904.0h0M296.0 1124.2h0M343.0 897.2h0M276.2 1195.1h0M210.6 1178.7h0M473.5 1317.0h0M409.5 1310.9h0M404.9 1237.0h0M413.6 1127.6h0M401.5 1078.7h0M326.2 931.8h0M333.9 1134.3h0M314.0 1025.6h0M560.0 1330.3h0M391.7 1124.1h0M409.6 1304.4h0M257.9 1307.4h0M312.9 1255.5h0M389.7 1178.5h0M359.9 1049.8h0M492.5 921.1h0M398.5 1070.1h0M271.6 958.9h0M305.7 1038.0h0M301.7 982.8h0M284.7 1213.4h0M258.4 1117.9h0M382.2 1156.2h0M516.1 1341.3h0M400.1 1224.8h0M408.6 1050.0h0M302.7 1115.3h0M304.6 948.8h0M504.8 961.4h0M320.4 1194.8h0M367.9 984.4h0M397.1 956.3h0M300.9 965.6h0M346.4 1082.9h0M304.4 1333.4h0M507.0 946.9h0M284.6 935.2h0M284.7 1010.2h0M347.4 1135.1h0M342.9 1274.1h0M445.5 1322.4h0M401.5 1011.2h0M230.3 1033.3h0M376.7 1188.0h0M581.6 1322.3h0M266.8 918.0h0M339.1 941.9h0M213.6 1189.5h0M280.0 1107.1h0M404.4 1037.6h0M272.7 1123.7h0M223.1 1151.8h0M291.3 1306.5h0M286.2 1005.5h0M380.7 1287.2h0M277.3 1008.8h0M410.7 1099.1h0M314.5 1246.4h0M167.9 1302.2h0M374.7 1317.5h0M567.2 1000.9h0M210.9 1303.6h0M197.5 1218.4h0M229.7 1083.6h0M486.0 1320.4h0M282.2 942.7h0M380.0 1120.6h0M240.9 1252.5h0M183.0 1122.3h0M362.3 1138.6h0M518.9 1002.0h0M604.5 1318.0h0M418.5 1265.1h0M256.0 930.5h0M162.3 993.2h0M400.6 1337.8h0M592.8 1328.8h0M303.6 1273.8h0M252.3 1253.1h0M368.7 1128.4h0M370.8 1323.9h0M381.3 949.7h0M384.0 1188.2h0M178.2 1213.3h0M560.4 1312.1h0M547.3 1316.5h0M300.7 1196.6h0M346.8 1028.2h0M267.7 995.6h0M407.2 1255.9h0M171.1 1145.7h0M225.4 1322.5h0M382.5 1208.4h0M234.3 1254.5h0M319.6 1237.0h0M393.8 1318.9h0M355.3 1039.3h0M411.1 1118.7h0M281.9 1243.9h0M181.7 1140.4h0M229.3 1060.5h0M422.1 1262.7h0M413.8 1339.0h0M223.1 1075.0h0M384.8 989.8h0M385.3 1301.5h0M169.8 898.4h0M221.1 1154.7h0M307.6 1068.7h0M182.5 1202.6h0M283.8 1094.7h0M391.7 1176.1h0M581.4 1332.0h0M508.1 1312.5h0M428.3 1270.6h0M199.1 1324.3h0M374.8 1041.2h0M310.1 1068.7h0M529.9 1004.3h0M272.3 1078.1h0M206.0 1185.3h0M209.6 1122.5h0M341.9 990.3h0M582.6 1018.9h0M477.1 1333.6h0M262.8 1294.6h0M291.9 1204.2h0M278.5 1255.6h0M341.6 1042.0h0M306.9 1129.0h0M584.3 1338.7h0M318.8 892.6h0M389.2 994.2h0M281.3 1168.9h0M414.8 1173.5h0M350.1 1054.1h0M355.9 916.2h0M181.7 1171.3h0M320.6 1314.3h0M261.1 941.1h0M254.3 1069.1h0M367.1 1050.3h0M286.3 1339.7h0M188.1 956.4h0M570.5 1342.2h0M295.7 1096.7h0M345.4 1341.7h0M386.1 1038.8h0M494.5 891.9h0M421.1 1274.2h0M312.4 1253.8h0M368.4 975.5h0M594.5 1093.1h0M348.3 1050.6h0M283.6 1202.7h0M175.7 958.1h0M390.2 1235.6h0M268.0 1272.9h0M424.3 1255.0h0M308.0 1316.2h0M523.5 983.1h0M368.2 1289.7h0M203.4 1193.4h0M194.2 1142.5h0M251.8 1206.8h0M185.6 1204.4h0M295.7 1013.4h0M291.0 1285.7h0M391.3 1187.4h0M442.6 1333.6h0M419.8 1282.2h0M175.9 1187.6h0M181.4 1015.4h0M226.8 1284.8h0M378.5 1310.2h0M447.9 1319.4h0M171.6 1093.7h0M204.0 1242.4h0M387.0 1264.6h0M365.6 1229.3h0M516.6 1335.0h0M190.5 892.4h0M206.0 1127.5h0M372.3 998.9h0M285.3 969.0h0M319.2 1105.8h0M242.2 1084.6h0M321.1 1308.0h0M545.9 1338.0h0M404.0 973.2h0M407.4 1001.8h0M289.7 926.3h0M317.3 1198.2h0M524.1 1005.7h0M437.3 1300.1h0M315.5 1128.7h0M251.4 1155.4h0M490.6 919.6h0M382.0 1315.8h0M299.2 998.9h0M293.5 943.5h0M561.9 1340.9h0M370.9 1233.9h0M422.1 1303.2h0M453.1 1332.9h0M209.4 1083.4h0M384.2 1288.8h0M267.2 1053.5h0M356.9 1120.5h0M563.8 1343.1h0M309.2 938.9h0M364.9 1327.8h0M387.3 1016.7h0M405.1 990.0h0M382.9 1189.3h0M320.4 931.3h0M198.1 1153.6h0M313.2 1199.4h0M223.7 1183.0h0M297.2 918.1h0M160.6 1297.6h0M310.9 1061.3h0M403.2 1179.0h0M373.8 970.0h0M375.9 1081.0h0M573.7 1314.6h0M163.9 1032.7h0M278.5 1291.5h0M376.5 1104.8h0M350.5 1318.3h0M608.2 1093.0h0M350.0 1209.6h0M311.0 1220.4h0M288.0 1284.3h0M432.4 1282.6h0M194.1 1117.9h0M292.4 1117.3h0M333.5 1041.5h0M392.0 1297.1h0M394.3 1067.7h0M318.1 1014.4h0M277.0 1123.2h0M326.7 1178.1h0M244.6 1083.9h0M392.8 1117.0h0M511.8 977.7h0M377.1 1149.3h0M386.4 1320.6h0M180.0 1268.7h0M172.8 1181.5h0M220.2 1121.7h0M382.6 923.8h0M164.9 1069.4h0M450.7 1318.3h0M542.7 1312.8h0M349.0 1215.8h0M579.5 1087.3h0M404.7 1057.5h0M331.5 1216.6h0M322.3 1224.4h0M312.3 1263.3h0M332.0 1310.7h0M390.0 1201.9h0M608.7 1325.5h0M248.6 1326.0h0M488.2 1340.5h0M364.0 1232.0h0M379.6 1207.2h0M252.4 1273.3h0M300.5 1332.8h0M306.2 1145.3h0M491.2 902.3h0M384.2 1023.6h0M381.2 1082.4h0M221.7 1255.4h0M332.5 974.4h0M214.2 1280.5h0M323.5 1323.2h0M291.9 978.6h0M410.9 1219.6h0M408.0 1159.4h0M535.0 1343.4h0M314.0 1062.5h0M354.7 1324.9h0M191.6 1207.3h0M362.9 908.2h0M525.7 1019.0h0M390.6 931.4h0M242.0 1315.9h0M191.1 1077.4h0M350.6 1283.8h0M360.0 1171.4h0M343.9 957.5h0M251.3 1283.0h0M245.6 982.0h0M411.8 1304.2h0M388.9 981.6h0M217.0 1255.9h0M248.3 1312.6h0M578.5 1069.4h0M218.2 1201.2h0M354.7 1056.8h0M400.6 1158.2h0M276.9 1163.6h0M590.4 1335.6h0M281.8 1231.6h0M363.3 1222.2h0M535.0 1009.3h0M319.3 1018.1h0M521.4 1013.2h0M246.4 937.1h0M266.1 1248.5h0M332.5 1010.9h0M330.4 1229.5h0M379.5 1294.8h0M545.3 1317.1h0M312.4 1171.4h0M390.4 1269.4h0M392.9 938.6h0M232.4 1067.1h0M544.9 1022.9h0M211.5 1015.7h0M364.9 891.3h0M409.7 1060.6h0M401.2 928.3h0M428.8 1275.4h0M610.8 1024.2h0M161.7 1045.4h0M288.2 1221.5h0M339.4 888.7h0M266.5 1227.3h0M200.3 1102.8h0M523.2 1324.6h0M411.0 1314.5h0M414.1 1207.1h0M403.1 1015.5h0M291.1 1012.0h0M335.8 1291.6h0M193.6 1202.8h0M508.7 1327.8h0M598.1 1314.6h0M341.1 1114.5h0M381.9 1195.5h0M503.2 1321.1h0M263.9 1226.0h0M411.4 1204.6h0M188.0 1141.8h0M162.0 922.5h0M384.5 1210.5h0M407.3 1248.1h0M351.3 1098.2h0M349.3 1179.2h0M299.0 1063.8h0M393.8 1289.2h0M339.5 1242.5h0M292.0 987.9h0M356.1 1173.3h0M337.5 1280.0h0M258.4 975.2h0M605.3 1321.2h0M353.6 910.6h0M521.6 1010.6h0M365.0 1329.7h0M203.9 978.5h0M376.3 982.0h0M408.3 1322.4h0M597.2 1094.1h0M171.1 1050.2h0M291.8 1300.1h0M350.8 1184.2h0M467.7 1331.2h0M368.0 1290.4h0M419.3 1239.2h0M559.5 927.1h0M300.2 1290.7h0M402.1 971.5h0M216.5 1204.5h0M276.8 898.7h0M168.8 995.1h0M265.5 1078.7h0M540.1 1037.2h0M424.3 1320.4h0M179.1 1309.0h0M366.6 1243.4h0M400.7 1224.5h0M378.7 1189.4h0M207.2 1203.6h0M313.7 1303.4h0M406.8 1081.1h0M174.0 1251.2h0M581.5 1316.4h0M425.9 1287.9h0M307.4 1237.1h0M319.2 1271.3h0M367.8 1021.7h0M536.4 1337.6h0M319.7 1149.7h0M422.7 1340.9h0M236.7 1225.6h0M396.9 917.8h0M181.5 1227.0h0M383.3 1144.6h0M186.5 1326.6h0M393.6 1223.1h0M591.1 1070.6h0M396.2 1028.9h0M348.4 1068.6h0M307.7 1199.9h0M272.2 982.0h0M293.7 1243.7h0M506.8 1315.0h0M405.5 1144.2h0M443.7 1319.6h0M276.3 1246.7h0M430.0 1287.1h0M345.2 971.2h0M397.0 1085.5h0M341.3 1208.7h0M371.0 1248.8h0M345.0 1187.6h0M370.9 1337.2h0M335.4 1145.7h0M209.6 1179.8h0M421.9 1318.4h0M283.1 1055.7h0M309.2 1327.2h0M614.7 1323.8h0M519.7 1333.5h0M314.5 1008.6h0M365.2 1272.4h0M612.8 1096.8h0M333.0 956.1h0M560.7 1314.2h0M221.8 1237.6h0M297.5 1233.2h0M219.0 1300.7h0M555.7 1056.2h0M272.5 1239.3h0M355.3 1156.3h0M378.9 1154.2h0M306.4 941.2h0M190.6 1181.0h0M229.9 1050.6h0M311.1 992.9h0M287.6 1204.3h0M406.3 1273.3h0M407.5 1077.1h0M311.9 1302.9h0M393.3 1169.8h0M174.5 1077.1h0M321.0 1281.7h0M395.1 1318.8h0M180.4 1085.2h0M273.7 946.9h0M405.6 1237.7h0M359.0 1176.3h0M405.3 998.8h0M379.2 1269.5h0M401.1 1198.0h0M320.2 1041.0h0M250.1 1167.7h0M405.4 1186.4h0M197.7 1309.3h0M250.7 981.6h0M207.6 1058.9h0M387.8 1167.3h0M402.4 1064.3h0M382.5 1342.4h0M176.4 941.1h0M190.8 1272.8h0M602.2 1081.2h0M198.7 1005.1h0M275.7 1101.7h0M416.5 1224.6h0M541.4 1330.6h0M208.5 1199.5h0M300.6 1091.2h0M411.6 1207.1h0M309.7 1104.0h0M201.1 1127.6h0M368.9 1268.3h0M225.4 1296.3h0M379.8 1167.3h0M399.7 1070.7h0M241.3 1229.9h0M507.7 904.2h0M208.1 987.9h0M281.5 1046.5h0M332.2 1284.0h0M407.8 1184.3h0M306.6 1231.6h0M524.6 1012.3h0M399.3 936.9h0M219.9 1140.1h0M352.5 1182.0h0M383.3 1309.9h0M291.8 1112.4h0M543.1 1327.9h0M208.3 1069.2h0M605.5 1339.2h0M563.3 1340.9h0M377.4 1277.8h0M521.6 1014.6h0M345.6 1034.5h0M200.3 977.5h0M350.4 1328.1h0M377.0 1235.6h0M282.0 972.3h0M175.9 1341.5h0M337.9 1303.8h0M370.0 1165.0h0M200.0 1045.7h0M397.1 1087.1h0M206.2 1025.4h0M312.4 1298.5h0M259.5 1047.6h0M262.2 1292.4h0M393.9 1026.9h0M341.3 1279.1h0M352.3 1002.3h0M191.9 1202.1h0M287.2 1091.6h0M235.2 1051.3h0M385.5 1086.2h0M282.5 1066.4h0M357.1 1035.9h0M597.6 1316.3h0M316.0 1178.9h0M384.9 898.0h0M506.6 959.6h0M332.9 1235.3h0M197.4 910.6h0M204.4 1122.3h0M250.8 1239.6h0M313.2 1279.9h0M378.2 985.8h0M173.0 1098.1h0M205.3 907.8h0M411.2 1225.1h0M227.6 1005.3h0M205.1 1149.2h0M234.4 907.9h0M506.9 1325.4h0M384.8 931.4h0M502.4 1325.5h0M200.4 1333.9h0M366.1 1247.0h0M206.5 1262.2h0M176.8 1215.5h0M377.5 1264.2h0M387.5 1332.8h0M278.4 1155.0h0M184.5 1220.4h0M206.8 940.3h0M299.3 1101.1h0M388.4 1279.0h0M216.6 1196.1h0M597.2 1087.3h0M389.5 1265.9h0M569.4 1338.9h0M486.8 909.5h0M451.6 1332.7h0M303.5 1325.8h0M322.2 1187.8h0M396.1 1266.5h0M386.6 940.3h0M400.1 973.7h0M349.3 924.8h0M171.5 1168.3h0M367.8 1046.7h0M378.7 1222.3h0M396.3 1178.7h0M442.6 1308.1h0M253.1 952.2h0M318.1 1126.8h0M311.6 1142.7h0M322.8 963.7h0M271.0 1230.8h0M267.1 1157.5h0M191.8 948.5h0M297.7 1327.3h0M214.2 927.0h0M428.4 1275.3h0M380.5 1272.1h0M314.4 1000.2h0M233.5 1166.8h0M228.2 896.1h0M497.4 921.2h0M396.6 1007.0h0M431.7 1313.2h0M200.3 1339.8h0M297.5 1134.1h0M457.6 1315.1h0M278.6 1239.7h0M385.2 1230.0h0M502.3 953.1h0M371.8 1248.2h0M184.6 1307.2h0M305.8 1266.3h0M473.7 1324.7h0M320.2 1212.9h0M402.6 1034.4h0M421.3 1288.0h0M297.3 889.6h0M267.9 1047.1h0M240.4 1293.4h0M223.9 993.7h0M329.9 1121.2h0M276.1 941.9h0M356.5 971.3h0M319.0 1031.1h0M410.3 1082.4h0M325.9 1328.0h0M374.7 1340.9h0M372.6 1268.5h0M414.6 1258.7h0M309.8 1246.0h0M385.5 1015.8h0M388.0 904.7h0M378.5 1198.0h0M557.4 1065.0h0M216.0 969.6h0M264.7 1216.0h0M371.3 1321.7h0M374.5 978.3h0M394.1 1058.0h0M240.9 1259.2h0M328.5 1309.9h0M340.0 1034.9h0M414.7 1332.8h0M402.8 986.7h0M271.0 1321.4h0M404.0 1148.9h0M270.9 1324.7h0M398.4 957.3h0M507.7 1324.9h0M405.5 1237.2h0M255.7 1327.0h0M395.1 1210.5h0M395.5 1274.2h0M357.5 1064.5h0M358.9 1093.1h0M522.1 1341.6h0M245.7 907.0h0M538.9 1032.8h0M389.9 1130.3h0M425.7 1307.0h0M222.8 940.2h0M387.6 1024.7h0M365.6 1082.3h0M277.1 1179.2h0M389.4 1067.6h0M484.4 899.2h0M381.0 1184.9h0M330.8 1079.7h0M243.8 1102.9h0M166.9 1079.0h0M232.3 1199.8h0M198.4 1244.6h0M470.8 1336.9h0M273.9 910.9h0M369.0 1038.4h0M169.9 914.5h0M559.8 1331.3h0M226.4 1045.6h0M354.4 906.4h0M401.4 1126.9h0M414.6 1250.1h0M523.6 991.6h0M525.7 1322.5h0M421.5 1320.6h0M358.7 889.3h0M316.7 1141.3h0M348.2 1216.0h0M299.7 1017.2h0M246.3 933.7h0M421.4 1236.2h0M333.7 1337.4h0M507.6 1321.9h0M271.6 1229.8h0M384.1 1262.2h0M282.1 1181.5h0M169.7 1120.6h0M186.6 958.1h0M331.2 1272.3h0M345.4 1273.5h0M416.7 1295.5h0M273.9 1198.7h0M407.6 1280.1h0M179.6 1293.9h0M309.9 1069.8h0M201.6 1274.0h0M346.5 1172.2h0M377.1 1222.6h0M386.0 1146.6h0M211.0 1097.5h0M352.8 999.3h0M375.0 1081.5h0M288.2 1177.7h0M394.8 1293.3h0M325.8 957.0h0M347.5 1081.3h0M379.3 1222.8h0M404.9 978.0h0M179.0 1060.1h0M240.7 948.7h0M245.2 935.5h0M225.2 1297.5h0M550.5 1063.9h0M164.8 1229.0h0M411.0 1126.7h0M207.2 1129.3h0M186.4 1217.0h0M194.8 1342.4h0M361.7 912.8h0M329.1 1015.8h0M232.0 1246.6h0M299.1 1256.7h0M390.5 948.0h0M395.0 898.6h0M333.8 1152.4h0M397.2 949.5h0M597.6 1313.1h0M236.3 1297.3h0M233.3 1112.4h0M413.0 1134.9h0M355.5 1089.3h0M214.6 1207.0h0M471.1 1322.8h0M314.2 1336.1h0M325.5 1274.5h0M268.7 1210.8h0M394.2 1329.0h0M364.6 1133.1h0M407.9 1041.8h0M485.3 903.9h0M334.9 1177.8h0M408.4 1213.0h0M211.1 1145.1h0M289.6 1335.9h0M400.9 993.8h0M401.6 955.0h0M324.5 1143.1h0M326.3 1304.2h0M400.8 1329.9h0M349.7 1239.9h0M350.9 1032.2h0M236.0 1123.1h0M260.7 1244.7h0M395.3 1265.0h0M307.1 1012.4h0M201.5 986.9h0M169.3 1280.5h0M331.8 1341.7h0M178.7 1145.1h0M165.3 1122.6h0M297.9 1062.2h0M397.5 1335.8h0M415.4 1313.9h0M267.6 971.8h0M319.6 1016.1h0M304.0 1181.6h0M404.8 1015.4h0M377.4 907.6h0M405.4 1238.4h0M207.9 1083.6h0M606.4 1334.4h0M555.8 1331.9h0M275.9 1242.4h0M334.3 998.9h0M338.9 1320.4h0M323.3 907.3h0M406.6 1272.3h0M306.2 939.0h0M366.6 1117.1h0M557.6 1072.1h0M337.9 1166.2h0M405.4 1137.8h0M170.1 1040.7h0M330.4 1332.8h0M281.4 1188.9h0M356.7 1230.7h0M364.2 1129.8h0M469.4 1336.4h0M392.0 1101.3h0M408.5 1242.8h0M412.7 1272.0h0M330.5 1245.9h0M378.1 1060.6h0M370.5 1136.3h0M301.7 1227.4h0M429.5 1266.2h0M426.3 1255.9h0M424.0 1330.0h0M301.6 1115.3h0M347.5 1104.0h0M396.9 989.2h0M274.0 1315.0h0M358.8 1316.9h0M295.7 900.4h0M546.6 1060.1h0M251.5 1239.6h0M405.2 956.2h0M351.1 1252.3h0M377.3 969.4h0M314.1 1268.4h0M433.1 1297.3h0M206.3 1072.5h0M365.6 913.3h0M564.6 1077.4h0M272.3 1127.6h0M171.9 1250.6h0M238.2 1318.4h0M321.9 904.0h0M400.7 1271.4h0M414.6 1317.6h0M448.4 1337.6h0M210.9 1111.1h0M400.4 1122.3h0M226.2 1337.1h0M169.2 994.6h0M328.2 1111.4h0M171.2 1006.1h0M534.1 1042.6h0M182.6 1230.3h0M594.2 1324.5h0M321.3 1193.0h0M318.5 1198.6h0M250.4 1073.1h0M260.9 1232.6h0M420.3 1314.1h0M282.7 1036.6h0M199.9 1239.0h0M199.6 1010.0h0M227.6 1142.3h0M281.9 934.8h0M275.8 1182.6h0M278.1 1338.4h0M365.3 1259.8h0M380.0 1242.6h0M402.8 978.5h0M368.4 1323.2h0M378.7 1144.4h0M266.9 1170.2h0M406.2 1329.7h0M267.0 1246.9h0M180.3 893.4h0M555.0 1315.9h0M209.5 1227.2h0M334.4 1079.8h0M317.4 1155.5h0M438.7 1325.6h0M251.0 1046.5h0M444.0 1325.4h0M375.5 1107.4h0M414.5 1186.0h0M407.5 1184.5h0M400.5 1331.9h0M497.4 939.9h0M426.7 1284.2h0M351.8 1105.7h0M315.6 924.3h0M376.2 1184.3h0M287.2 1158.3h0M293.5 1273.6h0M409.1 1115.1h0M390.2 894.8h0M311.7 1201.5h0M242.3 1251.9h0M239.3 1329.8h0M386.7 1106.8h0M316.5 1024.1h0M308.7 1209.4h0M244.4 1022.6h0M364.3 1261.1h0M413.8 1230.7h0M333.6 1232.3h0M418.2 1204.5h0M611.6 1311.7h0M362.9 1116.9h0M332.1 1022.9h0M274.8 1307.3h0M367.4 907.4h0M490.9 1316.5h0M360.1 1331.7h0M291.1 999.1h0M350.0 1056.6h0M500.1 1320.8h0M226.7 1108.5h0M404.2 1153.9h0M395.7 1169.8h0M535.1 1038.4h0M300.8 926.6h0M267.8 1194.1h0M431.4 1301.6h0M320.2 932.5h0M375.3 1055.3h0M393.3 1063.9h0M518.2 965.6h0M200.8 1210.2h0M165.2 1288.2h0M394.9 1207.6h0M387.1 1095.5h0M248.9 1335.7h0M472.4 1315.6h0M306.7 1206.6h0M402.2 1074.0h0M407.7 1149.0h0M385.3 1329.9h0M217.8 1234.0h0M570.1 1311.8h0M272.7 1070.6h0M427.8 1288.7h0M308.1 1213.6h0M352.5 997.7h0M360.3 956.6h0M281.5 1139.5h0M279.5 969.2h0M454.8 1313.2h0M299.9 1322.4h0M304.0 1093.0h0M411.3 1096.2h0M201.5 1178.6h0M250.2 1056.6h0M404.4 1082.1h0M345.2 954.5h0M321.1 1048.3h0M205.3 1014.0h0M385.9 950.9h0M342.2 1118.9h0M411.0 1224.2h0M263.0 1308.9h0M264.3 1337.6h0M334.5 1302.8h0M486.3 1333.4h0M290.2 1340.5h0M346.3 1018.2h0M314.8 1069.2h0M290.6 1151.1h0M338.6 1318.8h0M402.4 1237.6h0M435.7 1291.9h0M336.7 1005.1h0M407.1 986.8h0M404.2 1078.6h0M279.1 956.4h0M348.0 1079.0h0M315.9 1125.9h0M399.9 1251.8h0M418.8 1245.9h0M417.3 1262.6h0M284.2 1333.4h0M191.2 1261.1h0M266.4 1038.1h0M205.1 1330.9h0M378.7 934.5h0M305.7 1134.0h0M581.8 1074.2h0M299.8 1008.0h0M312.7 1223.3h0M356.9 1267.0h0M379.7 1322.5h0M400.9 1327.2h0M570.1 1332.3h0M281.6 1216.3h0M388.5 1057.4h0M338.2 1327.9h0M340.3 1147.3h0M299.5 1001.1h0M356.5 1298.2h0M307.4 1021.8h0M377.1 1229.9h0M397.5 1256.8h0M345.4 1040.7h0M227.4 1054.0h0M411.4 1142.4h0M385.4 1132.5h0M237.5 1312.8h0M298.8 1285.1h0M540.9 1016.1h0M384.5 1018.5h0M361.3 1141.0h0M378.5 1320.8h0M257.9 1150.5h0M436.6 1294.0h0M310.7 1147.1h0M340.3 1273.9h0M259.2 1125.6h0M341.2 1222.9h0M299.3 929.2h0M406.9 999.9h0M254.8 1150.8h0M249.0 969.3h0M595.9 1313.1h0M375.6 1254.3h0M565.3 1323.9h0M401.3 961.0h0M288.6 1009.1h0M319.0 1246.4h0M257.8 1259.0h0M239.1 1201.2h0M315.5 1322.9h0M287.2 1107.1h0M395.2 1012.7h0M228.1 958.0h0M319.5 1241.2h0M331.4 1252.8h0M253.9 947.3h0M312.5 1311.4h0M211.0 992.1h0M397.3 1052.6h0M417.7 1282.9h0M291.1 1312.4h0M349.8 1233.9h0M264.0 1024.2h0M387.3 1155.6h0M276.2 1227.8h0M390.2 1144.2h0M400.2 998.5h0M237.0 1233.7h0M325.4 1062.1h0M301.5 1212.6h0M213.5 1019.3h0M312.0 1329.3h0M324.7 1026.2h0M401.4 1235.7h0M189.8 1205.4h0M284.9 1129.7h0M379.1 1118.6h0M373.0 1120.6h0M282.0 901.5h0M168.4 1087.7h0M393.3 940.0h0M350.9 1101.6h0M274.3 1211.8h0M271.3 1253.5h0M374.3 967.6h0M458.0 1327.6h0M365.9 1284.5h0M377.2 1306.2h0M389.0 1019.3h0M396.8 1091.9h0M572.7 1328.3h0M316.9 897.0h0M399.7 1038.3h0M426.5 1283.1h0M246.5 1064.8h0M333.5 1339.5h0M186.9 1177.7h0M310.6 1254.0h0M245.5 976.1h0M189.0 1107.2h0M409.4 1097.4h0M378.4 1233.1h0M393.6 930.9h0M334.0 1239.8h0M355.9 1006.8h0M423.5 1322.3h0M171.1 1027.3h0M293.6 892.6h0M211.4 1173.9h0M590.5 1088.5h0M383.6 1308.8h0M394.4 1087.7h0M360.0 996.9h0M427.6 1313.0h0M378.0 1008.8h0M395.0 1192.1h0M330.4 1185.7h0M296.5 1173.5h0M294.3 1217.3h0M297.8 1197.9h0M562.1 1073.3h0M209.5 1054.9h0M373.7 1185.9h0M424.7 1340.1h0M327.7 938.5h0M495.1 1316.7h0M360.6 1011.5h0M275.0 1116.0h0M442.6 1315.6h0M405.0 954.8h0M219.5 1095.5h0M357.2 1107.6h0M282.7 1302.3h0M608.8 1342.7h0M249.9 1209.5h0M198.6 919.8h0M262.2 1279.7h0M364.0 1237.8h0M431.7 1342.2h0M255.1 1338.7h0M340.6 1183.8h0M297.9 1311.5h0M297.1 1045.3h0M362.1 1270.2h0M184.8 1264.5h0M214.5 1023.3h0M170.0 889.4h0M397.5 965.8h0M312.6 1154.8h0M223.2 1202.2h0M371.8 1052.8h0M449.9 1329.7h0M407.8 1164.2h0M417.6 1309.7h0M379.3 1087.8h0M408.7 1279.2h0M376.1 1314.5h0M365.6 909.0h0M402.0 993.5h0M567.5 1325.6h0M273.8 972.5h0M423.0 1294.1h0M374.0 1111.0h0M163.4 1285.7h0M530.2 1033.5h0M278.6 1003.0h0M535.4 1038.8h0M280.3 1041.9h0M417.4 1241.4h0M353.6 972.6h0M196.5 1005.7h0M264.9 1328.7h0M395.6 1116.6h0M288.4 1136.7h0M340.5 1055.7h0M402.4 1049.2h0M235.0 1013.1h0M383.6 935.6h0M254.4 945.2h0M365.6 1177.0h0M352.8 1315.6h0M162.8 1245.9h0M233.7 1216.7h0M395.3 1166.7h0M390.6 1298.7h0M424.7 1302.2h0M328.4 957.7h0M298.6 1084.4h0M378.4 1135.2h0M227.5 1268.0h0M390.1 1307.4h0M525.1 1021.9h0M404.3 1072.2h0M198.8 1336.9h0M384.1 1175.2h0M589.8 1335.3h0M292.8 963.7h0M317.6 1252.5h0M232.3 1200.4h0M344.1 1012.7h0M168.3 1301.4h0M530.2 1022.5h0M188.5 1079.6h0M531.3 990.5h0M301.2 1016.5h0M503.6 1339.6h0M417.0 1299.2h0M394.2 929.8h0M319.8 1045.0h0M269.0 925.8h0M299.2 1343.2h0M369.6 1306.2h0M296.5 1107.9h0M548.2 1059.9h0M368.8 1157.2h0M390.0 904.9h0M329.3 1218.0h0M360.7 1299.2h0M422.9 1248.6h0M373.1 1229.9h0M385.4 1009.5h0M391.3 1089.1h0M224.6 981.6h0M269.7 1128.9h0M348.2 940.2h0M614.4 1332.4h0M388.4 948.7h0M249.3 924.0h0M372.2 1153.3h0M314.3 1295.4h0M379.4 964.3h0M492.6 1341.2h0M443.7 1334.5h0M412.9 1124.7h0M218.3 1013.9h0M402.7 977.9h0M259.3 1066.9h0M338.1 919.8h0M498.3 940.2h0M389.0 1200.3h0M407.9 1104.9h0M382.0 893.0h0M374.8 1335.3h0M315.7 986.8h0M422.4 1275.8h0M396.7 1273.3h0M311.6 1265.4h0M322.9 1024.7h0M249.5 1197.5h0M407.1 1298.9h0M347.2 901.6h0M249.7 1001.7h0M172.2 1206.7h0M262.3 1106.8h0M496.4 1340.6h0M349.1 1092.0h0M184.8 891.8h0M275.7 1280.9h0M418.9 1235.2h0M410.9 1089.3h0M293.1 983.6h0M169.6 1146.7h0M390.5 952.2h0M414.7 1271.2h0M286.1 1109.5h0M296.5 1309.4h0M404.8 1143.1h0M402.6 1017.5h0M337.2 1121.7h0M361.4 1151.3h0M218.6 1340.3h0M387.6 1287.3h0M393.6 1102.6h0M551.6 1048.4h0M401.4 1322.1h0M362.9 1335.0h0M279.3 1170.6h0M230.8 1228.2h0M163.5 969.2h0M401.0 943.6h0M324.0 1296.8h0M611.3 1313.6h0M340.7 905.7h0M586.1 1335.5h0M344.3 1326.8h0M404.6 1229.4h0M396.3 1089.3h0M350.7 994.4h0M447.9 1342.6h0M319.5 1114.9h0M606.9 1315.5h0M279.6 1123.2h0M356.4 1257.3h0M376.4 1242.9h0M407.5 1030.2h0M271.8 984.3h0M210.3 1209.9h0M396.0 1324.1h0M286.0 1117.1h0M246.3 947.4h0M242.2 1062.7h0M285.7 1178.7h0M210.4 1188.7h0M179.5 1159.5h0M553.7 922.8h0M312.4 1297.4h0M410.9 1186.0h0M386.4 986.0h0M360.0 1172.7h0M213.2 1310.6h0M510.0 1325.3h0M370.9 933.0h0M416.9 1181.7h0M212.2 1179.5h0M408.0 1034.8h0M380.5 990.8h0M399.8 993.2h0M563.9 1339.1h0M485.0 902.5h0M404.6 1265.7h0M408.1 1203.2h0M283.3 989.6h0M297.8 1007.8h0M487.9 906.8h0M164.6 983.0h0M404.9 1193.7h0M262.7 1050.2h0M353.0 1000.8h0M406.6 1286.3h0M557.7 1324.1h0M255.3 1179.6h0M407.4 1161.6h0M306.3 1158.1h0M545.9 1037.6h0M191.5 1271.3h0M324.1 1101.3h0M260.2 985.6h0M331.8 1180.8h0M188.4 1338.3h0M603.5 1326.3h0M396.4 945.6h0M535.3 1324.0h0M258.8 1337.4h0M585.7 1334.8h0M243.3 941.6h0M427.4 1320.2h0M389.6 1224.9h0M352.7 1101.1h0M386.4 900.0h0M349.6 1144.9h0M417.1 1284.1h0M265.4 1203.5h0M382.9 1108.3h0M438.6 1303.2h0M465.1 1329.1h0M408.7 1048.3h0M506.1 934.6h0M413.2 1135.7h0M283.7 997.4h0M337.4 1090.3h0M420.8 1263.5h0M509.0 960.7h0M363.7 1255.6h0M310.2 1310.7h0M271.4 962.4h0M172.2 1250.2h0M378.5 1069.0h0M271.9 889.8h0M386.4 932.8h0M344.4 1181.4h0M346.5 1203.4h0M407.3 1057.0h0M533.2 1333.7h0M370.6 1288.6h0M279.5 936.2h0M403.9 1310.3h0M297.5 932.6h0M405.1 1281.2h0M169.2 948.5h0M403.9 1060.7h0M388.0 1180.4h0M384.6 1073.1h0M397.9 932.1h0M379.4 1238.8h0M386.6 1303.0h0M243.2 1320.2h0M234.9 1274.8h0M326.8 904.3h0M434.7 1285.0h0M380.2 1027.8h0M392.6 897.0h0M303.4 1146.7h0M256.9 1049.1h0M346.2 921.5h0M450.7 1314.7h0M512.4 940.8h0M235.7 1286.0h0M358.0 1101.8h0M319.2 1320.0h0M178.1 1006.6h0M341.5 1329.8h0M191.4 1279.0h0M387.3 1120.1h0M306.6 1316.8h0M386.7 1218.9h0M431.0 1284.7h0M224.0 1217.4h0M610.4 1333.2h0M228.1 1210.7h0M413.2 1199.1h0M281.5 991.8h0M408.0 1117.0h0M163.9 1002.9h0M326.3 1201.7h0M381.4 1166.3h0M276.6 980.5h0M395.7 951.5h0M209.3 1131.5h0M395.6 995.0h0M347.2 1259.5h0M501.5 942.4h0M283.1 1229.5h0M400.3 1195.9h0M319.7 1046.5h0M199.6 1275.3h0M554.7 1065.5h0M290.0 1141.5h0M381.7 1235.9h0M238.3 947.3h0M200.0 940.8h0M456.6 1314.5h0M320.1 1236.8h0M266.6 1295.8h0M393.8 1203.4h0M166.4 1190.4h0M353.4 969.5h0M334.3 1050.3h0M584.3 1314.1h0M401.4 976.0h0M375.0 1296.9h0M597.4 1329.0h0M233.4 1155.8h0M320.1 1301.5h0M352.9 1168.4h0M194.4 1246.6h0M385.2 1122.9h0M284.9 1307.1h0M300.7 903.6h0M285.8 1088.5h0M213.7 1194.2h0M289.4 1294.0h0M284.2 1140.7h0M343.1 1283.5h0M267.3 1149.7h0M383.8 944.6h0M366.6 1118.9h0M522.3 1342.8h0M349.7 1202.4h0M228.5 934.9h0M359.8 931.0h0M313.8 1190.8h0M417.0 1197.1h0M162.9 1196.4h0M399.2 1020.5h0M248.2 1141.8h0M395.0 910.4h0M390.1 930.4h0M229.9 940.3h0M209.5 1070.2h0M587.8 1343.0h0M564.9 1341.6h0M391.8 922.0h0M337.8 1202.4h0M393.4 1223.0h0M414.1 1193.7h0M269.7 976.9h0M434.8 1341.0h0M339.1 1057.0h0M219.1 1179.1h0M202.3 1229.2h0M250.7 903.5h0M405.5 1059.0h0M595.1 1335.6h0M271.3 970.5h0M217.8 1038.9h0M611.4 1315.7h0M207.4 1276.4h0M401.4 1091.4h0M272.3 1304.3h0M235.7 1294.1h0M199.8 973.3h0M374.3 1294.4h0M212.5 971.0h0M228.0 1143.3h0M381.2 1284.4h0M412.8 1262.6h0M358.7 1027.8h0M281.5 996.7h0M259.5 1136.5h0M237.6 1175.7h0M397.8 1245.6h0M368.8 1241.3h0M280.9 936.2h0M380.6 1220.8h0M293.3 1072.0h0M428.6 1326.6h0M372.8 1213.5h0M228.2 1336.1h0M377.8 1291.5h0M220.1 1249.5h0M287.0 1182.8h0M514.5 1330.3h0M264.5 1302.8h0M401.3 1125.9h0M483.8 901.6h0M432.2 1281.1h0M395.1 1225.4h0M328.7 922.1h0M416.0 1227.0h0M304.0 1143.9h0M404.1 997.8h0M263.7 1058.4h0M491.2 922.8h0M225.5 1054.7h0M293.3 1195.4h0M236.9 1329.5h0M397.6 1001.3h0M271.0 1045.4h0M322.3 1291.4h0M406.4 1236.4h0M244.8 1221.8h0M384.1 942.6h0M366.8 1171.0h0M422.9 1245.3h0M411.0 1119.1h0M399.5 1218.1h0M401.3 1101.6h0M409.9 1314.7h0M361.3 1044.2h0M203.6 972.9h0M341.5 949.0h0M218.4 1309.9h0M414.3 1205.9h0M404.7 1131.7h0M513.6 981.7h0M242.8 1135.2h0M319.7 915.6h0M351.3 1128.1h0M282.5 896.8h0M230.9 1141.0h0M277.8 1282.6h0M468.3 1315.2h0M247.5 1194.0h0M250.7 1089.2h0M391.0 1312.1h0M435.6 1316.8h0M309.1 1330.9h0M207.0 1321.4h0M497.4 1343.2h0M368.5 1168.7h0M566.9 1334.4h0M420.6 1261.3h0M263.7 1328.8h0M407.2 1146.4h0M401.4 1130.4h0M389.5 1265.0h0M214.3 1126.2h0M421.6 1329.2h0M339.9 1072.2h0M575.5 1320.7h0M185.4 1145.9h0M170.8 1294.2h0M409.4 1119.4h0M530.0 1326.8h0M437.2 1300.2h0M327.8 1147.8h0M230.4 1198.7h0M400.6 1309.8h0M265.4 1189.7h0M273.0 967.2h0M236.1 1042.8h0M236.9 1104.2h0M426.9 1287.5h0M234.3 946.1h0M409.0 1159.4h0M396.0 1028.0h0M226.4 994.2h0M576.5 972.5h0M341.5 1053.5h0M274.0 1219.4h0M589.8 1331.0h0M290.0 1018.2h0M337.7 1312.8h0M386.4 978.5h0M327.1 1328.7h0M524.7 1011.1h0M200.8 895.7h0M303.7 1033.8h0M432.4 1315.8h0M178.7 1152.6h0M317.7 988.5h0M396.3 1269.8h0M291.7 917.1h0M206.0 1259.4h0M390.4 1143.3h0M290.3 1096.3h0M249.2 1146.4h0M385.9 1158.9h0M307.6 939.8h0M232.7 1028.5h0M385.6 1274.9h0M205.5 1126.6h0M417.2 1187.6h0M250.2 972.9h0M270.8 1139.0h0M283.9 1106.5h0M404.1 1118.1h0M400.4 1010.9h0M283.6 1179.1h0M285.0 1341.6h0M259.2 897.0h0M379.2 1134.8h0M364.1 1327.8h0M330.2 1256.4h0M585.3 1338.0h0M406.6 991.8h0M373.7 1141.7h0M305.3 1337.5h0M360.0 1066.0h0M408.7 1178.9h0M350.3 1149.7h0M318.0 1023.3h0M441.1 1323.4h0M370.2 1312.1h0M324.5 959.1h0M375.8 957.9h0M388.6 1060.4h0M341.1 916.5h0M238.9 1341.9h0M407.0 1094.8h0M389.2 1327.9h0M442.4 1313.7h0M509.2 1331.0h0M484.5 890.6h0M358.9 1162.0h0M307.4 1080.7h0M413.8 1171.8h0M386.4 897.8h0M379.9 989.1h0M248.1 1220.9h0M179.3 985.4h0M260.8 1224.1h0M348.0 1266.8h0M346.2 1043.3h0M384.8 1302.1h0M366.5 1103.1h0M416.9 1287.6h0M238.8 898.6h0M399.0 1038.6h0M341.6 1331.9h0M394.6 1244.8h0M348.1 982.5h0M248.6 1240.2h0M328.4 1309.9h0M302.6 1268.0h0M349.2 1168.2h0M320.8 1225.0h0M591.7 1325.9h0M385.0 1336.2h0M292.9 1072.0h0M225.7 1021.2h0M381.9 1317.4h0M396.5 916.7h0M322.6 1227.9h0M304.7 1094.6h0M350.2 1141.4h0M377.0 1150.4h0M416.3 1343.3h0M543.2 1054.5h0M375.2 1326.2h0M283.8 1261.9h0M230.4 1100.4h0M436.4 1300.2h0M337.7 1325.4h0M286.9 1203.6h0M371.9 954.4h0M242.8 1159.3h0M348.3 1069.4h0M349.6 1046.5h0M579.1 1317.6h0M228.5 1270.8h0M465.3 1319.9h0M392.3 952.0h0M407.8 1343.1h0M231.3 1079.4h0M330.2 1107.8h0M270.8 1040.0h0M352.3 926.7h0M385.5 1292.8h0M183.6 926.8h0M554.0 1323.2h0M329.2 1283.7h0M413.2 1242.9h0M393.5 901.4h0M226.2 1137.4h0M427.5 1276.9h0M194.0 1024.2h0M600.3 1332.4h0M352.4 920.7h0M282.7 1282.2h0M279.2 1215.5h0M192.7 1189.3h0M278.7 1080.8h0M274.9 1268.6h0M336.1 1195.5h0M387.2 1182.5h0M170.4 1124.3h0M286.6 916.0h0M326.6 1045.9h0M316.7 916.9h0M401.3 942.0h0M224.3 1125.6h0M386.4 1049.2h0M612.1 1094.3h0M600.8 1079.3h0M314.9 907.1h0M328.3 1171.4h0M282.2 1188.6h0M460.7 1317.9h0M409.8 1149.7h0M339.7 1338.0h0M164.6 900.1h0M304.7 1067.8h0M388.4 1293.6h0M184.0 956.2h0M400.8 1185.6h0M419.7 1285.0h0M411.3 1115.4h0M397.5 1216.6h0M173.0 1325.0h0M373.3 1311.2h0M320.7 1139.3h0M421.4 1263.0h0M371.7 1253.5h0M187.4 1027.5h0M232.0 1083.1h0M418.8 1214.7h0M557.0 1338.6h0M401.0 1005.4h0M418.4 1329.2h0M202.6 1293.6h0M261.3 922.8h0M389.0 1091.8h0M578.4 1318.7h0M313.4 1029.9h0M398.0 968.4h0M296.0 1115.1h0M413.0 1134.7h0M417.5 1230.1h0M253.4 1059.7h0M535.7 1045.7h0M408.2 1297.1h0M513.3 969.3h0M234.0 1221.3h0M563.3 1338.3h0M264.2 1156.9h0M383.5 1324.9h0M335.4 1236.5h0M273.7 1268.3h0M389.5 1012.2h0M415.4 1219.1h0M406.4 1237.8h0M396.7 1169.1h0M407.4 1253.0h0M405.7 1238.7h0M552.6 1326.8h0M419.8 1288.4h0M579.2 1338.6h0M330.2 1148.7h0M364.7 1031.4h0M267.8 1029.7h0M317.4 1048.5h0M276.1 1001.9h0M405.3 1071.7h0M385.8 1288.8h0M336.2 1334.0h0M380.2 1027.8h0M355.0 926.7h0M283.6 1173.3h0M464.9 1333.8h0M185.5 1213.0h0M349.4 992.2h0M380.1 1313.8h0M202.7 985.7h0M375.9 916.9h0M397.6 1282.8h0M361.2 1022.3h0M433.5 1340.8h0M270.8 1235.8h0M403.5 1158.4h0M228.3 1266.5h0M279.5 1024.1h0M236.3 1255.2h0M535.8 1333.3h0M193.8 953.9h0M399.0 1287.2h0M398.6 1194.5h0M350.4 1222.6h0M263.9 1053.1h0M381.7 916.6h0M164.3 1042.8h0M338.2 981.5h0M466.1 1316.4h0M307.3 1079.9h0M262.7 1148.7h0M304.8 951.5h0M465.2 1329.5h0M322.5 996.8h0M400.5 1144.4h0M334.2 1051.5h0M401.5 1036.4h0M392.1 1251.2h0M237.5 930.3h0M347.1 1244.4h0M373.2 1065.0h0M331.6 1064.4h0M161.7 1166.7h0M198.4 905.8h0M260.6 1272.2h0M397.7 1105.9h0M352.5 1324.8h0M264.7 1085.1h0M230.1 968.5h0M181.7 1171.1h0M332.6 1074.3h0M589.8 1091.0h0M292.4 1119.7h0M415.3 1235.5h0M206.9 1163.2h0M174.9 1011.1h0M297.6 1157.2h0M206.5 1099.7h0M164.1 1292.8h0M356.5 976.3h0M392.0 903.8h0M401.4 993.0h0M263.8 1272.1h0M198.0 1294.0h0M370.1 1069.2h0M275.3 1192.2h0M402.9 991.7h0M401.7 1278.4h0M408.6 1178.6h0M326.7 1258.8h0M487.8 894.6h0M404.3 1056.7h0M485.8 1319.1h0M391.0 1219.0h0M472.9 1311.8h0M539.6 1327.3h0M493.8 920.1h0M409.1 1195.3h0M370.4 1333.9h0M336.4 931.4h0M369.3 1079.7h0M234.9 988.2h0M489.8 906.3h0M393.6 1198.1h0M373.2 1224.4h0M221.1 1232.4h0M436.7 1327.0h0M497.2 1332.1h0M386.2 1167.7h0M597.7 1003.5h0M398.5 999.8h0M248.5 1197.4h0M567.9 1321.2h0M203.1 1135.6h0M163.4 1288.9h0M357.4 1088.1h0M243.5 1032.9h0M292.1 1341.3h0M354.4 1324.3h0M404.1 1229.2h0M303.4 1343.1h0M202.8 891.2h0M358.3 940.4h0M389.8 1080.1h0M216.4 1021.5h0M255.2 902.2h0M396.3 988.3h0M302.4 1096.8h0M259.2 1173.9h0M293.6 954.4h0M265.4 1279.7h0M175.8 898.5h0M483.0 889.7h0M341.4 1242.0h0M394.2 1086.7h0M446.1 1340.7h0M293.9 1269.8h0M389.7 1233.2h0M421.1 1244.8h0M250.7 954.2h0M456.4 1342.7h0M395.3 1265.3h0M577.3 1329.7h0M376.8 1237.3h0M286.1 1321.7h0M398.8 1041.6h0M276.3 1051.7h0M374.6 928.0h0M408.0 1075.2h0M389.9 1309.9h0M248.2 1221.5h0M372.0 1176.2h0M234.6 895.8h0M433.7 1301.7h0M336.4 1233.3h0M364.9 1189.5h0M234.2 1330.9h0M413.3 1164.5h0M404.9 1124.4h0M301.1 1210.9h0M373.4 1132.2h0M287.8 919.0h0M596.5 1333.9h0M213.6 1187.1h0M375.1 899.6h0M592.8 1317.0h0M347.0 995.5h0M168.3 1065.3h0M382.7 1034.0h0M328.1 1150.9h0M423.5 1338.1h0M403.4 1197.4h0M413.5 1290.8h0M238.5 1022.0h0M368.7 1337.5h0M414.3 1149.5h0M261.7 1225.0h0M336.9 1098.3h0M183.7 1168.3h0M377.0 1270.3h0M367.4 1064.5h0M359.1 1192.8h0M300.6 1311.8h0M598.4 1323.6h0M363.9 1251.9h0M252.0 1104.5h0M425.4 1336.9h0M215.5 1107.8h0M383.2 1123.0h0M322.0 1242.8h0M278.3 921.6h0M393.1 981.8h0M364.1 1286.4h0M253.1 1014.1h0M198.4 1273.1h0M202.7 1245.5h0M231.7 985.3h0M550.4 1058.6h0M290.8 1173.5h0M250.4 1206.4h0M310.3 1079.4h0M273.9 1125.4h0M570.3 1064.0h0M322.9 1168.5h0M369.3 1253.5h0M336.3 1206.4h0M395.3 1122.6h0M430.2 1269.8h0M404.9 995.3h0M188.5 1005.3h0M512.5 1341.0h0M234.9 1125.9h0M292.4 1128.5h0M161.2 1228.5h0M232.3 1015.8h0M393.1 888.0h0M381.3 1330.1h0M205.6 1022.2h0M382.7 1184.5h0M285.7 1180.5h0M367.4 1026.4h0M404.8 1039.0h0M183.4 1217.1h0M189.2 1304.7h0M389.4 1290.7h0M316.5 1307.3h0M210.6 1291.5h0M563.9 1334.9h0M197.4 1310.2h0M391.8 1077.9h0M279.8 1137.5h0M406.7 1323.8h0M309.6 1123.5h0M180.9 1218.9h0M271.8 1268.5h0M239.0 979.6h0M488.8 919.7h0M408.6 1172.6h0M599.8 1337.0h0M285.1 1239.3h0M290.7 1071.5h0M507.6 1320.4h0M308.2 1218.8h0M275.6 1228.9h0M419.0 1258.6h0M312.7 1124.7h0M542.5 1315.8h0M387.7 972.0h0M423.5 1318.4h0M374.8 1330.9h0M298.7 1208.8h0M415.0 1248.8h0M400.4 1154.2h0M301.3 1258.1h0M263.7 893.9h0M409.0 1174.6h0M407.9 1136.3h0M375.6 1130.9h0M388.0 1084.0h0M410.2 1101.6h0M521.5 1323.9h0M425.6 1279.5h0M374.3 1011.5h0M341.2 1319.9h0M582.0 1088.8h0M314.9 1306.0h0M427.2 1311.4h0M213.4 1147.1h0M492.8 928.8h0M300.3 897.4h0M278.7 1123.5h0M380.5 1200.9h0M347.7 1305.5h0M193.0 1139.6h0M342.0 1301.6h0M218.0 1307.7h0M356.8 1164.7h0M258.4 926.1h0M426.9 1261.7h0M360.5 1276.8h0M547.9 1334.1h0M408.5 1253.0h0M353.2 1174.1h0M397.4 1084.1h0M554.9 1342.5h0M196.0 1235.5h0M350.6 889.7h0M573.8 1076.5h0M269.7 925.5h0M312.5 1320.7h0M551.5 1066.0h0M320.0 1161.4h0M360.1 1042.1h0M296.3 977.5h0M256.0 986.7h0M269.8 1060.4h0M300.8 1105.4h0M175.6 1342.6h0M555.0 1044.1h0M229.8 965.2h0M374.2 1245.1h0M403.9 1038.4h0M546.5 1055.7h0M561.1 1069.3h0M283.0 1329.5h0M381.8 1063.5h0M300.3 1212.0h0M349.8 1314.5h0M204.3 1257.3h0M198.4 1042.8h0M310.6 981.0h0M526.6 1009.9h0M186.3 1203.8h0M223.8 1263.1h0M246.2 1003.2h0M373.5 1184.3h0M487.8 891.0h0M325.9 1111.9h0M299.5 951.5h0M438.3 1329.6h0M332.5 941.9h0M419.3 1336.0h0M364.7 1086.3h0M408.1 1166.9h0M344.1 1085.8h0M605.9 1318.7h0M286.1 1225.0h0M349.4 1078.9h0M248.9 1148.9h0M244.9 1279.9h0M382.6 946.4h0M161.0 941.3h0M168.9 951.0h0M357.7 933.5h0M331.1 999.1h0M432.2 1300.9h0M188.5 1318.7h0M210.9 1285.4h0M203.7 1165.0h0M321.8 1158.6h0M526.1 1328.4h0M312.7 1325.3h0M239.2 1274.3h0M371.8 1222.6h0M371.9 999.4h0M609.8 1338.3h0M228.6 1016.1h0M575.0 1084.6h0M398.6 1088.1h0M304.4 1114.6h0M345.9 1048.2h0M339.1 1141.6h0M517.4 1322.4h0M307.4 1070.6h0M336.5 1043.5h0M421.5 1303.5h0M314.5 1023.0h0M400.9 1193.1h0M182.5 1238.5h0M369.6 1044.5h0M397.8 1240.9h0M161.1 1329.4h0M226.9 915.6h0M351.4 1025.3h0M240.3 1073.9h0M336.8 1317.6h0M341.2 1258.7h0M169.8 1282.8h0M383.3 1179.4h0M271.4 1176.9h0M495.1 924.2h0M447.2 1319.3h0M411.7 1107.3h0M518.0 914.0h0M519.9 1312.3h0M544.7 1335.0h0M286.7 1262.8h0M510.5 1342.6h0M392.2 1331.2h0M236.4 1142.8h0M269.3 1059.1h0M198.4 990.4h0M389.3 1155.9h0M250.7 1265.4h0M290.0 1332.3h0M283.4 1320.1h0M296.4 1221.1h0M327.7 1172.8h0M347.8 1146.1h0M395.9 1240.8h0M167.8 1137.9h0M577.9 1330.3h0M348.9 1152.2h0M314.0 911.0h0M432.3 1301.8h0M304.1 1068.5h0M369.1 1303.8h0M410.7 1180.6h0M394.1 1324.5h0M391.6 947.6h0M538.5 1048.9h0M179.7 944.3h0M250.2 969.5h0M406.5 1285.6h0M251.6 1327.7h0M160.6 1146.2h0M348.0 1040.2h0M205.0 916.8h0M522.9 1312.3h0M242.6 986.1h0M538.2 1036.0h0M275.0 1005.8h0M247.5 1305.1h0M242.6 957.1h0M465.5 1312.3h0M288.5 1194.9h0M203.9 1277.0h0M183.5 1023.8h0M354.8 1142.3h0M290.7 1035.8h0M302.9 962.7h0M605.6 1328.3h0M270.2 1240.1h0M368.2 1285.4h0M309.5 1044.6h0M290.1 1331.7h0M174.3 1205.7h0M224.2 1124.7h0M466.7 1323.8h0M410.4 1076.0h0M361.5 946.1h0M239.2 1119.8h0M260.8 956.8h0M407.6 1338.1h0M344.3 1032.6h0M497.7 1319.0h0M220.8 1128.8h0M511.8 1325.4h0M602.7 1320.2h0M284.7 950.7h0M415.3 1195.7h0M235.7 1157.3h0M197.3 987.2h0M374.4 1026.5h0M263.0 1256.9h0M187.8 1062.8h0M332.8 1075.5h0M259.8 1275.3h0M309.9 1271.4h0M520.4 1322.8h0M183.5 965.7h0M409.6 1162.7h0M404.6 962.5h0M185.9 1191.7h0M361.5 1148.2h0M399.9 1124.3h0M396.9 1043.0h0M310.3 1134.6h0M346.1 1172.1h0M378.9 1051.2h0M300.1 1252.8h0M549.6 990.6h0M336.3 931.9h0M396.2 1161.9h0M205.5 1200.0h0M574.0 1081.6h0M368.9 1281.6h0M383.1 984.3h0M508.2 1328.9h0M353.2 1340.4h0M329.9 1297.8h0M266.5 1322.5h0M258.2 1255.9h0M502.6 1328.7h0M386.1 1032.3h0M408.8 1267.1h0M294.6 1163.5h0M198.3 1278.8h0M348.4 1215.3h0M458.2 1336.4h0M284.9 912.3h0M416.7 1246.9h0M399.8 1342.5h0M187.2 1199.9h0M327.0 1061.3h0M386.1 968.7h0M524.5 1335.7h0M328.8 1128.2h0M324.5 988.5h0M289.2 906.8h0M556.3 1068.6h0M334.0 1192.1h0M496.0 1339.1h0M318.8 1026.7h0M368.7 1273.0h0M267.4 1307.6h0M358.9 1333.7h0M282.9 1029.2h0M231.2 1289.5h0M370.7 911.9h0M340.4 1288.0h0M556.3 1068.7h0M230.8 1130.1h0M606.8 1326.0h0M379.7 1043.7h0M329.0 1127.0h0M182.2 1265.3h0M354.3 1291.5h0M338.2 1155.5h0M383.9 1217.3h0M360.8 1326.2h0M398.4 1297.6h0M292.1 1246.9h0M300.0 1308.6h0M325.2 909.4h0M250.0 1303.0h0M406.4 1199.7h0M391.2 1333.5h0M405.3 973.6h0M296.4 963.7h0M428.3 1261.9h0M420.2 1244.0h0M330.6 1295.6h0M479.5 891.1h0M353.3 1210.9h0M236.4 1138.5h0M417.8 1285.6h0M550.8 1335.8h0M404.6 1154.9h0M302.3 912.8h0M310.2 1160.1h0M405.8 1187.3h0M533.0 1036.2h0M363.1 907.0h0M465.6 1311.6h0M567.1 1312.8h0M400.4 1050.2h0M258.5 1060.2h0M242.2 1014.2h0M312.7 1109.4h0M394.2 1079.3h0M193.7 907.3h0M426.6 1280.1h0M419.1 1266.9h0M239.6 1008.4h0M241.8 1095.2h0M379.3 1256.3h0M399.9 1233.1h0M421.2 1253.6h0M201.4 1236.8h0M188.0 943.3h0M278.5 1271.3h0M340.3 1140.8h0M336.7 1238.1h0M567.1 1338.4h0M336.1 1316.3h0M351.2 1043.7h0M372.5 1203.8h0M163.6 981.4h0M168.6 996.9h0M382.4 1181.9h0M176.1 1200.2h0M292.4 1164.1h0M337.2 1010.2h0M412.0 1192.2h0M389.3 939.1h0M181.1 1331.0h0M493.7 1337.5h0M405.9 961.7h0M416.8 1326.3h0M203.8 1219.6h0M435.6 1331.6h0M561.6 1065.7h0M369.2 1131.9h0M343.2 1082.6h0M374.3 1256.8h0M498.9 1315.4h0M402.0 1310.6h0M260.8 1021.0h0M574.4 1333.0h0M184.0 1338.8h0M273.0 1175.0h0M320.7 1313.9h0M309.7 1060.7h0M387.0 899.1h0M376.5 1333.6h0M394.6 1193.4h0M389.1 1168.5h0M374.0 1290.0h0M207.7 1243.9h0M371.8 1264.5h0M402.5 955.5h0M551.3 1046.8h0M352.3 1129.9h0M266.6 1100.4h0M244.4 975.1h0M401.9 1145.5h0M215.2 1054.5h0M392.2 916.7h0M387.1 1282.6h0M375.2 1272.4h0M281.4 1323.8h0M324.4 1332.1h0M613.2 1330.9h0M168.6 1307.1h0M428.1 1329.3h0M350.0 925.5h0M394.3 1235.4h0M394.4 976.4h0M169.5 1217.3h0M171.5 1171.6h0M380.9 1326.0h0M286.3 1053.6h0M425.3 1291.2h0M427.0 1262.8h0M404.9 1208.8h0M251.6 1090.9h0M416.9 1279.6h0M324.0 1230.2h0M366.8 1159.5h0M415.2 1311.0h0M487.5 895.2h0M353.6 1199.6h0M295.2 993.8h0M353.5 1108.7h0M537.4 976.0h0M533.7 1328.7h0M369.1 1073.8h0M365.5 1174.0h0M359.2 1047.0h0M318.4 1269.2h0M274.4 1186.6h0M251.5 1288.8h0M205.3 1300.4h0M297.1 923.2h0M393.4 905.6h0M520.5 1002.9h0M168.2 928.5h0M576.3 1313.7h0M376.0 900.4h0M405.9 990.9h0M341.8 1245.8h0M398.4 1265.4h0M378.9 1289.2h0M228.0 1093.9h0M423.6 1249.8h0M343.1 1318.3h0M288.8 1039.9h0M290.6 1000.4h0M396.7 1193.7h0M561.3 1328.1h0M379.1 1134.3h0M425.0 1272.8h0M163.3 1079.0h0M311.3 1280.6h0M492.1 1341.9h0M267.7 1177.8h0M374.7 1324.0h0M269.5 1080.3h0M375.4 1090.9h0M236.6 1324.1h0M378.0 1009.3h0M281.9 942.6h0M369.8 1220.1h0M344.2 1169.6h0M319.2 1276.7h0M428.9 1279.6h0M324.6 1186.1h0M312.2 906.4h0M305.6 932.2h0M316.4 1204.9h0M280.3 1176.8h0M590.3 1089.5h0M300.8 1046.9h0M439.2 1341.1h0M352.2 1339.1h0M371.2 1220.6h0M330.8 1123.0h0M534.2 1029.2h0M285.2 904.0h0M294.4 1052.6h0M312.5 1317.8h0M603.2 1317.1h0M297.1 1312.0h0M391.8 1030.5h0M376.8 1152.0h0M213.3 1093.6h0M277.2 1133.0h0M435.0 1329.8h0M432.1 1317.7h0M405.5 1221.1h0M333.1 894.5h0M390.0 977.9h0M311.9 1127.1h0M386.4 1114.2h0M514.7 1315.9h0M390.6 912.2h0M412.1 1304.4h0M218.8 1108.5h0M207.1 1017.0h0M441.6 1331.2h0M439.3 1300.0h0M603.1 1091.9h0M370.6 1258.3h0M409.0 1066.8h0M349.1 992.3h0M270.5 922.1h0M469.8 1341.7h0M164.8 1053.9h0M171.0 1087.5h0M315.5 1108.1h0M355.0 1009.6h0M263.7 1245.3h0M270.9 1180.2h0M423.4 1319.9h0M325.1 1173.4h0M231.9 1268.3h0M585.8 1312.2h0M424.8 1333.8h0M304.3 1270.4h0M401.1 1233.4h0M205.5 1215.8h0M389.5 998.6h0M486.8 914.4h0M373.3 1112.4h0M399.6 1153.5h0M296.8 1278.3h0M211.4 1286.9h0M505.3 964.4h0M379.2 1320.1h0M310.2 1226.0h0M431.8 1275.5h0M384.0 1106.6h0M324.6 1034.5h0M173.9 1337.0h0M214.6 1074.8h0M429.7 1295.8h0M567.1 1334.5h0M358.0 901.4h0M204.8 1186.6h0M322.1 1040.5h0M365.1 941.3h0M268.2 1123.3h0M176.0 1296.5h0M411.2 1140.6h0M297.0 1157.3h0M352.6 1300.3h0M353.7 1122.6h0M280.9 1210.8h0M408.4 1040.5h0M393.4 1075.5h0M214.3 1221.1h0M184.0 1174.6h0M549.6 1061.2h0M243.7 895.4h0M531.6 1008.9h0M347.1 1236.5h0M249.9 919.9h0M347.5 1235.9h0M278.9 1040.9h0M341.3 1183.5h0M194.4 1113.8h0M339.9 910.0h0M195.5 1078.0h0M177.5 894.6h0M273.8 981.4h0M207.1 1163.2h0M332.6 962.3h0M354.6 1167.1h0M437.0 1311.2h0M331.0 1124.2h0M396.2 1308.8h0M231.2 1227.2h0M337.6 978.8h0M316.0 918.8h0M176.7 911.6h0M432.8 1289.0h0M423.0 1325.7h0M349.6 1028.7h0M335.4 1018.3h0M385.8 953.5h0M295.1 956.1h0M274.0 918.5h0M346.9 1002.6h0M411.7 1224.5h0M565.5 1330.5h0M425.1 1260.5h0M316.1 1113.9h0M453.4 1335.5h0M244.1 1327.5h0M342.6 965.4h0M181.4 1192.9h0M266.8 1220.4h0M378.8 1021.7h0M424.8 1275.8h0M567.9 1316.4h0M324.6 1306.8h0M297.4 1238.1h0M487.4 1322.7h0M575.5 1314.0h0M395.3 1120.7h0M406.4 1333.7h0M256.0 1008.2h0M576.8 1076.6h0M470.0 1337.3h0M435.7 1337.4h0M255.3 1236.2h0M392.0 1336.6h0M541.7 1314.7h0M413.5 1167.8h0M543.1 1053.0h0M410.2 1095.0h0M215.3 912.1h0M413.9 1254.4h0M363.9 1341.6h0M399.9 1170.6h0M520.1 998.9h0M226.0 1268.1h0M374.8 891.8h0M164.1 1043.8h0M324.6 1316.0h0M372.3 1340.6h0M404.6 1112.0h0M362.2 1253.5h0M341.7 1120.0h0M168.7 1311.2h0M262.1 1219.1h0M484.5 896.4h0M407.2 1005.0h0M514.5 980.5h0M278.3 942.9h0M590.2 1079.4h0M401.5 969.3h0M571.2 1322.8h0M246.8 978.4h0M354.0 1055.5h0M327.0 1003.5h0M283.1 897.0h0M565.6 1077.0h0M442.0 1342.0h0M207.4 1063.4h0M369.5 909.9h0M285.5 1250.1h0M505.4 1326.2h0M343.3 1273.6h0M499.8 933.0h0M319.6 1084.6h0M377.4 1312.5h0M244.1 963.9h0M249.9 1078.4h0M260.3 1327.1h0M315.1 1015.4h0M319.9 1083.0h0M432.0 1277.7h0M257.1 1197.6h0M303.3 1014.2h0M307.6 1117.7h0M361.6 1035.0h0M336.5 1133.9h0M528.8 1316.5h0M441.0 1319.9h0M411.1 1213.4h0M471.4 1318.8h0M243.6 1171.0h0M282.2 1249.4h0M347.3 1237.6h0M351.2 1176.1h0M371.3 1051.4h0M260.4 1223.5h0M351.7 927.2h0M432.9 1296.0h0M511.4 921.7h0M180.3 1102.6h0M165.7 926.4h0M425.6 1256.5h0M193.3 926.0h0M613.2 1325.4h0M347.0 1320.4h0M376.6 1166.2h0M417.8 1282.2h0M178.9 1006.0h0M248.2 1288.2h0M397.2 1005.4h0M336.7 1273.0h0M243.9 1124.3h0M253.2 1280.6h0M176.0 1264.6h0M514.6 975.6h0M179.2 937.0h0M413.3 1342.1h0M321.4 1047.0h0M161.7 937.0h0M341.0 1276.4h0M272.0 1176.2h0M348.5 927.6h0M606.5 973.5h0M402.0 1193.7h0M388.5 1049.6h0M321.2 1111.0h0M342.7 1283.6h0M425.2 1275.0h0M429.3 1340.2h0M383.5 977.3h0M381.4 1206.6h0M335.0 1135.2h0M220.8 1306.5h0M498.6 921.1h0M298.5 1053.4h0M408.6 1110.2h0M399.3 1087.6h0M515.3 1319.1h0M372.8 1133.0h0M313.4 972.3h0M473.4 1340.2h0M385.6 1200.7h0M190.9 1177.6h0M187.0 1258.3h0M368.3 1255.3h0M265.9 1173.6h0M268.1 915.8h0M371.4 1221.1h0M369.5 1272.8h0M421.1 1334.2h0M241.7 1008.1h0M280.8 1060.3h0M309.4 1209.1h0M346.6 1268.2h0M380.8 1175.5h0M365.2 1163.1h0M326.3 1310.1h0M230.8 1119.0h0M407.5 1271.7h0M327.3 1161.8h0M554.9 1334.8h0M425.0 1341.6h0M415.2 1165.3h0M308.2 954.6h0M174.5 989.6h0M514.0 1318.2h0M248.4 1202.2h0M398.1 934.5h0M360.7 1056.8h0M185.1 1229.8h0M191.2 1007.9h0M198.3 1031.7h0M372.5 1252.1h0M268.7 1332.5h0M348.9 1189.3h0M408.0 1099.0h0M176.7 1132.2h0M225.2 1072.7h0M244.9 996.2h0M422.1 1259.3h0M393.8 902.4h0M304.4 1250.3h0M396.0 1200.4h0M359.3 1102.4h0M610.6 1339.8h0M297.7 938.4h0M525.1 1331.8h0M188.8 1316.1h0M168.4 999.4h0M291.0 940.8h0M391.7 1238.5h0M496.8 1339.8h0M266.1 928.1h0M371.1 1308.8h0M511.9 1328.5h0M299.8 1338.5h0M388.1 1307.5h0M182.3 1154.7h0M218.5 1177.3h0M270.8 1332.2h0M162.8 1206.3h0M349.8 1326.9h0M370.5 997.1h0M586.4 1314.8h0M352.8 1274.7h0M307.5 955.5h0M334.0 1097.7h0M377.3 1208.7h0M377.3 1329.2h0M335.5 1317.0h0M524.7 1021.2h0M237.5 1219.1h0M345.5 895.8h0M302.8 1165.4h0M397.5 1105.4h0M314.0 1037.9h0M277.9 1162.6h0M227.1 1116.4h0M405.4 1215.5h0M611.3 1325.4h0M408.0 1314.1h0M186.5 950.3h0M163.1 1293.5h0M545.7 1024.5h0M328.1 1078.8h0M203.1 1150.1h0M392.9 944.9h0M225.5 1244.2h0M221.5 1095.5h0M513.3 1318.4h0M329.2 1058.3h0M309.2 1309.5h0M338.1 1029.8h0M236.5 1128.3h0M255.1 1056.2h0M574.8 1323.7h0M333.9 1252.9h0M245.2 1332.7h0M378.9 989.7h0M204.0 1293.7h0M436.3 1335.5h0M612.2 1341.7h0M196.0 1077.2h0M388.0 906.4h0M190.1 1181.1h0M292.4 1121.2h0M325.4 1303.9h0M271.2 1064.5h0M298.1 970.3h0M297.8 1286.6h0M407.8 1335.8h0M420.5 1341.0h0M548.6 1061.9h0M369.2 1227.7h0M370.3 1339.3h0M435.0 1313.2h0M284.8 1290.0h0M348.5 1295.8h0M385.2 903.3h0M483.5 897.7h0M606.7 1093.6h0M415.1 1171.6h0M163.4 1128.4h0M284.7 1047.1h0M402.2 1048.7h0M563.7 1327.2h0M229.5 1279.6h0M393.4 1007.7h0M344.6 1337.1h0M502.3 1339.1h0M203.1 1066.9h0M293.0 1283.6h0M321.2 1202.9h0M397.3 1106.1h0M209.8 1284.0h0M328.4 1022.9h0M176.7 1137.8h0M285.8 1132.8h0M375.7 1142.3h0M475.1 1325.2h0M438.0 1334.0h0M368.0 986.4h0M443.6 1337.7h0M330.9 1001.9h0M540.7 1047.6h0M304.8 1094.7h0M380.2 1224.8h0M261.6 1224.9h0M353.5 978.7h0M366.5 1197.4h0M321.2 1070.5h0M284.0 1305.1h0M391.2 983.7h0M391.1 965.1h0M206.7 1163.8h0M349.3 1068.0h0M447.5 1324.1h0M308.4 1004.2h0M416.3 1257.7h0M254.7 1095.8h0M447.8 1315.9h0M223.1 1187.4h0M352.3 1248.3h0M193.9 919.9h0M337.7 910.9h0M335.0 1076.9h0M191.0 1265.5h0M276.4 1332.9h0M295.3 1273.1h0M245.7 1285.0h0M521.3 1013.7h0M296.6 1276.0h0M330.5 1234.0h0M382.3 1306.9h0M528.1 996.1h0M404.0 1267.8h0M269.6 1300.8h0M375.8 1217.5h0M286.5 992.6h0M298.2 1250.2h0M403.6 1316.4h0M302.5 1289.1h0M265.9 1139.6h0M217.6 1317.7h0M362.9 889.3h0M259.8 1209.4h0M409.0 1212.3h0M429.2 1306.0h0M177.3 1143.6h0M310.0 1003.1h0M370.8 890.0h0M247.7 1121.0h0M399.9 1199.2h0M309.8 1205.0h0M180.7 1185.2h0M227.4 1103.8h0M489.3 1340.8h0M188.3 1236.9h0M617.3 1311.8h0M389.8 1262.4h0M268.7 1062.5h0M360.2 1015.0h0M210.4 1007.8h0M322.0 1080.7h0M260.3 1311.7h0M403.9 1175.6h0M187.5 1151.1h0M354.7 1261.9h0M229.2 998.4h0M318.9 1172.7h0M498.3 1317.2h0M514.2 1314.5h0M523.2 1012.6h0M236.3 1316.2h0M332.7 1160.1h0M346.2 1144.1h0M334.6 1014.0h0M382.2 1168.7h0M345.1 1194.6h0M308.9 1204.7h0M376.4 1192.0h0M184.3 1286.1h0M373.3 980.9h0M403.6 1013.1h0M399.2 915.4h0M522.0 1338.0h0M429.5 1330.8h0M216.7 988.4h0M532.6 1041.1h0M371.3 1327.3h0M405.2 1120.1h0M306.4 1123.9h0M176.4 942.7h0M219.3 1173.0h0M368.2 1234.3h0M313.3 990.6h0M313.5 1060.1h0M479.4 1313.8h0M195.1 1331.2h0M466.5 1326.1h0M545.2 1034.1h0M344.1 1187.5h0M418.2 1253.3h0M275.4 1302.9h0M164.3 1197.7h0M333.0 1257.4h0M314.2 1158.9h0M468.3 1323.1h0M408.2 1211.2h0M257.1 1084.5h0M179.3 893.0h0M194.7 1272.2h0M589.8 1051.8h0M238.8 1205.4h0M221.9 1225.4h0M413.5 1140.5h0M291.7 1027.4h0M318.5 915.4h0M230.8 1059.1h0M523.0 1012.7h0M177.1 1276.5h0M292.6 1191.7h0M337.7 1218.3h0M340.6 1021.0h0M364.2 1287.5h0M296.9 1301.7h0M398.7 964.9h0M350.3 1282.8h0M303.9 957.0h0M440.4 1336.2h0M412.3 1275.5h0M437.8 1342.8h0M390.4 1236.1h0M536.5 1333.8h0M175.7 1259.4h0M399.2 1067.3h0M262.5 1191.0h0M248.5 1055.5h0M272.7 1285.7h0M206.1 966.3h0M216.5 1163.9h0M336.4 1057.3h0M425.7 1261.1h0M249.7 936.2h0M403.1 1075.4h0M375.0 1307.9h0M498.1 901.8h0M302.5 1129.0h0M380.2 1146.1h0M613.3 1095.6h0M202.8 915.8h0M360.4 1168.4h0M246.2 1224.6h0M375.6 1061.7h0M366.4 1044.1h0M339.3 1060.9h0M426.1 1283.9h0M399.3 1269.2h0M518.8 1003.3h0M272.3 968.0h0M553.4 897.1h0M442.7 1329.2h0M416.6 1280.8h0M357.6 1061.0h0M339.6 963.7h0M231.9 1199.0h0M345.8 1276.3h0M346.2 923.4h0M242.2 970.7h0M415.7 1299.6h0M342.7 1232.4h0M280.9 954.8h0M422.0 1252.8h0M414.5 1235.5h0M390.6 1023.2h0M215.0 1004.5h0M406.5 1312.1h0M335.2 1209.3h0M214.1 1132.2h0M418.8 1220.2h0M276.2 1288.7h0M210.7 1094.7h0M329.1 1322.1h0M229.3 1263.6h0M225.0 1035.0h0M288.1 1122.7h0M270.0 1188.1h0M575.4 1312.7h0M369.1 1099.8h0M353.8 1009.9h0M521.8 1014.6h0M437.0 1322.8h0M244.0 1315.1h0M343.5 1205.1h0M402.7 976.8h0M258.8 1116.2h0M482.6 1328.2h0M313.3 1149.0h0M246.2 912.0h0M408.7 1127.2h0M268.5 1034.6h0M413.9 1160.3h0M180.6 1239.4h0M607.1 1317.0h0M290.4 1298.2h0M397.0 973.4h0M344.0 1050.5h0M378.4 923.0h0M314.7 1064.9h0M306.6 1229.9h0M378.1 1329.2h0M300.3 1341.9h0M257.5 1029.7h0M301.8 1317.9h0M287.9 912.4h0M415.1 1222.9h0M292.7 1072.7h0M200.5 960.6h0M340.6 1126.7h0M416.4 1174.9h0M608.6 1341.9h0M270.6 917.2h0M337.0 1023.0h0M358.6 946.3h0M517.6 948.5h0M408.3 1329.2h0M492.9 927.5h0M406.9 1136.5h0M237.6 959.4h0M329.7 1101.6h0M296.1 1328.8h0M286.1 1193.1h0M224.3 1334.2h0M225.1 1166.1h0M336.7 1140.8h0M356.5 956.6h0M356.1 1013.2h0M480.4 1324.1h0M245.8 1148.8h0M301.1 1185.8h0M383.0 972.4h0M333.0 1338.6h0M342.1 1041.8h0M364.6 1208.6h0M199.6 1309.0h0M378.6 1156.1h0M198.6 1163.0h0M409.4 1329.5h0M368.2 1297.6h0M599.4 1334.6h0M350.5 965.9h0M191.0 1148.1h0M389.1 1102.2h0M177.1 1153.7h0M564.4 1323.9h0M594.5 1333.2h0M423.3 1324.2h0M518.8 954.0h0M246.0 1304.6h0M220.5 1220.9h0M211.3 1198.1h0M330.5 1229.3h0M325.6 1168.8h0M512.6 975.4h0M303.9 1187.3h0M408.7 1159.1h0M392.8 1293.0h0M385.4 935.6h0M319.3 1208.0h0M508.9 1342.3h0M336.0 1017.8h0M171.6 1280.0h0M581.7 1082.4h0M429.8 1305.7h0M207.5 1203.4h0M326.8 1191.5h0M557.0 1337.8h0M200.2 1313.2h0M303.1 1102.2h0M438.3 1309.6h0M417.0 1298.6h0M326.4 947.5h0M388.5 1219.7h0M358.9 1113.2h0M412.1 1124.1h0M559.7 1073.9h0M223.6 1337.0h0M548.5 1322.1h0M373.8 1042.9h0M261.2 1233.6h0M345.3 1028.5h0M229.5 1237.3h0M286.2 1213.6h0M389.9 1284.0h0M325.4 976.2h0M165.8 1157.0h0M198.1 987.8h0M518.3 975.6h0M319.0 1119.5h0M403.6 1001.5h0M361.9 1267.1h0M375.8 1306.4h0M312.1 896.4h0M293.0 1054.3h0M270.4 1314.7h0M312.2 926.8h0M413.0 1118.9h0M222.3 1093.7h0M305.8 994.1h0M234.9 917.9h0M334.2 1176.3h0M400.3 1111.0h0M365.5 1134.9h0M237.7 1241.5h0M514.8 985.8h0M296.0 1246.2h0M388.5 1277.3h0M250.1 1029.1h0M276.0 1132.2h0M350.0 1297.2h0M406.3 1237.9h0M504.4 895.9h0M213.4 1101.1h0M347.7 1226.8h0M324.9 1285.2h0M321.9 1333.1h0M357.9 1236.7h0M385.9 1247.9h0M196.2 1159.8h0M386.2 1230.5h0M460.0 1324.5h0M404.4 1278.6h0M335.7 1339.7h0M356.1 1093.4h0M271.6 1064.8h0M229.3 1053.3h0M265.3 1308.0h0M431.1 1273.5h0M521.1 943.3h0M383.4 1237.4h0M281.3 1308.6h0M378.0 1272.5h0M250.3 1299.4h0M165.9 988.2h0M520.9 994.9h0M433.5 1301.7h0M225.4 895.6h0M247.0 1085.1h0M336.5 933.1h0M400.7 982.3h0M513.5 969.9h0M198.9 1323.1h0M459.9 1323.5h0M495.0 1332.7h0M396.8 1106.0h0M223.9 946.5h0M168.6 1155.2h0M201.0 1297.4h0M339.9 1337.0h0M177.0 1057.3h0M416.9 1187.4h0M331.3 1319.5h0M352.3 1209.8h0M283.2 1195.5h0M453.8 1340.5h0M357.3 1147.5h0M275.4 1211.0h0M287.4 1092.7h0M487.1 1341.9h0M236.4 1177.8h0M175.5 1342.6h0M252.2 1335.9h0M308.2 1188.8h0M412.2 1256.7h0M248.6 1316.5h0M338.8 1023.8h0M266.9 1143.2h0M428.0 1336.8h0M276.0 996.3h0M309.0 1239.6h0M579.8 1335.6h0M402.2 1180.4h0M229.2 1245.9h0M297.3 1129.9h0M343.5 1273.5h0M219.0 1283.7h0M330.8 1060.2h0M392.7 1049.4h0M393.1 914.9h0M163.6 944.4h0M355.8 934.4h0M453.2 1327.5h0M424.1 1283.3h0M546.7 1059.0h0M172.7 1126.9h0M407.3 1036.8h0M295.2 1113.6h0M418.4 1276.8h0M415.7 1227.7h0M335.8 979.4h0M233.7 1125.1h0M281.2 1172.9h0M449.9 1327.0h0M362.1 1180.8h0M395.8 904.5h0M349.5 1322.4h0M411.1 1179.0h0M350.2 1098.9h0M263.0 939.4h0M207.6 1284.0h0M277.3 1245.5h0M331.7 1269.6h0M562.7 1075.0h0M176.8 1321.8h0M312.5 993.4h0M598.1 1328.9h0M288.5 1102.7h0M388.7 1283.0h0M410.3 1242.1h0M425.1 1341.5h0M371.5 1176.2h0M567.6 1319.1h0M412.2 1341.8h0M242.9 888.7h0M346.6 1216.9h0M379.0 1108.9h0M225.3 1131.2h0M383.0 1207.0h0M424.9 1315.8h0M543.0 1341.1h0M398.9 982.9h0M231.3 1230.6h0M171.4 1047.5h0M349.3 1088.8h0M271.9 953.0h0M505.1 1335.1h0M187.1 1176.6h0M387.7 1004.0h0M172.2 1223.4h0M396.5 928.8h0M178.5 1097.7h0M413.2 1170.0h0M180.2 978.9h0M362.2 1060.9h0M320.5 953.4h0M373.3 1310.9h0M318.3 1136.7h0M203.9 1115.7h0M335.4 1321.7h0M354.7 1248.2h0M348.6 945.1h0M230.4 1198.2h0M384.4 1247.9h0M400.6 1256.1h0M468.7 1312.5h0M513.7 1331.9h0M353.7 915.0h0M398.3 1252.3h0M410.6 1087.8h0M263.1 1217.0h0M373.8 1219.8h0M407.6 1205.8h0M319.8 1228.9h0M351.4 1210.3h0M442.2 1311.6h0M347.5 1030.9h0M379.9 959.4h0M369.3 1116.0h0M384.8 963.7h0M434.2 1316.2h0M165.7 987.5h0M380.5 1228.2h0M232.6 953.8h0M163.8 1223.7h0M598.7 1333.5h0M400.9 1218.6h0M543.9 1313.6h0M393.5 1176.2h0M193.5 902.7h0M181.2 1287.3h0M389.8 1242.6h0M538.1 990.2h0M407.0 1064.2h0M324.5 1230.4h0M203.2 1269.7h0M177.6 1285.0h0M350.6 1241.9h0M305.9 1242.2h0M381.9 991.8h0M409.8 1183.1h0M279.5 913.6h0M387.6 1005.8h0M359.3 1315.2h0M393.9 1188.2h0M322.7 1099.3h0M296.4 927.4h0M544.6 1052.2h0M407.3 1258.7h0M384.5 1229.3h0M367.3 1231.1h0M413.5 1203.8h0M301.3 1076.9h0M338.7 1067.6h0M399.9 1269.0h0M353.7 1158.4h0M260.8 1323.2h0M374.2 1165.8h0M161.2 1117.9h0M408.7 1272.0h0M205.0 962.0h0M421.8 1243.8h0M322.1 1029.2h0M456.4 1318.7h0M509.3 1331.9h0M542.7 1047.1h0M340.9 1240.7h0M229.2 1009.7h0M214.9 1282.2h0M176.7 1111.1h0M266.0 1275.9h0M517.4 1001.2h0M217.4 1013.5h0M490.8 923.1h0M259.4 1228.8h0M172.4 1247.4h0M267.4 947.1h0M237.4 1158.1h0M311.2 1087.3h0M190.5 1053.6h0M298.2 1289.1h0M282.7 994.5h0M378.4 1274.5h0M330.4 1066.6h0M412.4 1242.7h0M506.3 1314.5h0M367.0 1152.3h0M396.6 1023.4h0M297.4 955.6h0M591.5 1332.3h0M493.1 1317.7h0M395.7 1172.2h0M278.1 1195.0h0M160.8 1192.5h0M277.3 1320.9h0M500.5 942.0h0M318.9 1193.7h0M401.8 1268.3h0M170.9 1153.4h0M224.1 985.7h0M263.0 1140.6h0M245.6 1317.7h0M256.1 1278.2h0M240.8 1017.4h0M370.8 1168.0h0M407.5 1164.9h0M564.5 1316.0h0M181.6 1343.4h0M340.0 1078.8h0M290.1 995.1h0M388.9 891.8h0M387.5 1322.1h0M277.3 930.0h0M567.9 1336.0h0M179.4 956.4h0M331.2 946.9h0M532.2 945.9h0M277.1 971.7h0M280.4 1204.7h0M375.3 1203.8h0M197.0 1169.8h0M510.4 976.7h0M341.7 1189.9h0M504.7 925.3h0M355.8 904.0h0M176.9 987.6h0M296.0 1192.9h0M210.0 1264.1h0M391.6 908.5h0M313.6 1096.9h0M529.9 1019.8h0M162.5 960.1h0M227.0 1056.4h0M379.6 1337.0h0M246.0 1162.4h0M434.2 1326.5h0M405.3 969.2h0M418.5 1278.2h0M232.8 980.4h0M392.2 944.1h0M322.8 1051.1h0M327.2 1195.9h0M365.6 899.6h0M180.9 1075.8h0M341.1 1216.1h0M283.9 1142.6h0M329.8 1025.2h0M302.5 1169.3h0M525.2 976.7h0M366.0 1081.5h0M380.4 1160.2h0M379.6 1085.3h0M393.5 969.5h0M238.4 1172.5h0M368.6 1174.9h0M438.8 1308.3h0M203.5 1112.0h0M404.5 985.9h0M300.1 1256.1h0M397.1 1316.6h0M411.3 1085.8h0M248.8 1084.3h0M169.2 1117.4h0M376.8 990.1h0M210.6 891.5h0M277.9 1245.8h0M363.9 1044.3h0M514.6 1329.7h0M419.9 1267.5h0M414.1 1153.1h0M328.5 1017.1h0M337.6 1107.7h0M415.0 1164.8h0M211.7 953.3h0M366.3 1281.6h0M233.3 1057.0h0M364.6 1033.5h0M288.7 945.1h0M432.3 1298.7h0M243.8 1099.4h0M403.5 1241.0h0M383.0 1118.6h0M302.8 1333.0h0M294.4 968.7h0M499.2 1313.1h0M403.7 1180.5h0M165.8 981.2h0M171.8 1123.4h0M400.7 1101.5h0M371.4 1330.1h0M309.6 1158.2h0M349.7 1136.3h0M208.5 1324.4h0M256.3 891.6h0M323.1 1106.6h0M251.8 1197.1h0M389.2 1155.6h0M482.3 1342.5h0M360.0 952.5h0M511.5 920.9h0M557.4 1024.3h0M211.1 1126.9h0M179.7 1115.7h0M532.7 1020.6h0M312.2 1230.6h0M215.7 1097.2h0M404.2 1242.7h0M401.6 1219.8h0M369.3 1022.5h0M250.6 993.6h0M460.7 1320.3h0M185.5 1023.3h0M332.1 1256.0h0M278.4 921.8h0M502.2 900.7h0M347.1 1214.9h0M384.9 1042.4h0M315.3 1341.0h0M289.6 995.4h0M416.8 1329.1h0M360.4 896.6h0M403.7 960.7h0M485.0 898.1h0M537.2 1335.5h0M362.8 894.0h0M247.8 1121.9h0M370.5 1026.7h0M240.3 1158.1h0M386.7 1194.8h0M188.5 1053.0h0M287.1 1184.0h0M383.6 1173.1h0M374.0 1103.1h0M293.8 985.3h0M427.3 1342.1h0M310.0 952.9h0M429.8 1286.3h0M441.2 1323.5h0M445.3 1333.8h0M245.7 1179.2h0M298.0 1253.9h0M413.7 1169.1h0M441.6 1307.9h0M209.6 997.6h0M490.9 920.4h0M382.6 1082.6h0M504.3 954.5h0M480.9 1311.6h0M474.6 1322.3h0M394.6 1069.3h0M240.5 1201.3h0M175.5 1128.7h0M360.1 1060.6h0M268.2 1057.2h0M606.8 969.4h0M473.2 1315.6h0M386.9 1024.8h0M370.0 1155.5h0M288.2 1166.8h0M197.8 1318.6h0M404.1 968.1h0M225.1 1108.5h0M539.1 1334.7h0M299.9 1282.0h0M303.8 1190.9h0M491.7 921.2h0M220.3 1330.6h0M395.1 1197.4h0M419.5 1232.4h0M528.1 1334.7h0M508.1 945.2h0M397.5 962.2h0M362.3 905.6h0M396.4 900.1h0M483.9 906.3h0M494.6 1323.3h0M384.1 1164.9h0M337.2 1019.3h0M183.0 1043.4h0M294.6 1213.2h0M272.1 1279.8h0M350.2 1101.8h0M407.7 1010.0h0M394.1 934.3h0M434.1 1329.5h0M408.1 1244.8h0M254.0 1093.5h0M210.4 1077.5h0M401.6 1239.6h0M257.1 1006.9h0M335.5 1246.0h0M573.8 1313.8h0M333.4 1036.1h0M182.9 1114.5h0M388.5 1291.7h0M342.2 1275.7h0M511.8 1319.6h0M349.7 923.6h0M396.0 1186.9h0M407.2 1017.3h0M301.7 923.8h0M613.0 1316.9h0M602.8 1331.6h0M355.7 1158.3h0M360.3 1025.6h0M328.7 1119.5h0M361.7 889.4h0M253.1 1254.6h0M242.7 1155.1h0M403.9 1184.9h0M492.2 907.9h0M559.9 1315.9h0M400.1 1139.1h0M312.9 1275.8h0M578.1 1313.1h0M182.4 1324.7h0M256.0 1220.6h0M318.9 1316.7h0M494.0 1325.8h0M427.7 1262.5h0M391.8 1278.2h0M266.6 1092.0h0M168.3 1315.7h0M404.0 1288.3h0M210.6 989.3h0M238.2 1047.0h0M233.9 1341.6h0M379.8 1168.8h0M256.9 1252.1h0M524.4 1020.5h0M186.1 1269.1h0M370.8 997.9h0M423.9 1261.1h0M418.2 1330.7h0M357.8 1139.4h0M445.7 1340.2h0M471.8 1337.0h0M274.1 920.6h0M420.3 1298.8h0M278.6 1167.5h0M386.5 1107.1h0M479.0 1340.4h0M517.8 898.1h0M193.3 1319.5h0M564.5 1317.6h0M407.2 1074.0h0M240.9 1240.9h0M252.2 1201.1h0M376.4 891.4h0M220.8 1249.5h0M300.2 926.3h0M196.2 941.2h0M331.2 1225.8h0M421.0 1331.1h0M503.5 1324.1h0M370.4 1115.8h0M425.7 1307.3h0M600.3 1327.3h0M292.3 973.4h0M382.7 941.2h0M202.7 1147.2h0M399.5 1193.6h0M306.3 1289.3h0M272.9 891.6h0M171.0 951.7h0M218.7 893.9h0M401.0 1053.4h0M537.0 1330.1h0M221.1 1207.5h0M276.4 1218.6h0M292.0 931.2h0M384.7 1116.4h0M386.5 1330.9h0M338.5 1057.9h0M361.7 1339.0h0M491.5 1330.0h0M168.3 1124.5h0M256.2 1282.7h0M382.7 976.8h0M289.9 970.3h0M484.5 897.1h0M380.7 1314.7h0M256.5 1070.7h0M497.7 940.4h0M204.6 1191.1h0M165.6 1029.4h0M351.8 1236.2h0M197.8 1034.2h0M357.7 1194.4h0M365.8 1001.5h0M607.4 1006.4h0M255.3 950.5h0M414.5 1240.7h0M401.0 989.1h0M384.0 1207.7h0M211.0 1100.9h0M183.7 1266.5h0M550.3 1047.8h0M273.7 1197.8h0M323.3 1189.8h0M410.2 1079.6h0M311.7 1105.0h0M325.7 1259.4h0M272.8 1281.0h0M387.2 1003.7h0M385.0 1289.8h0M321.0 1228.1h0M377.3 1024.1h0M406.4 1337.2h0M333.8 1028.8h0M286.7 1256.3h0M398.9 945.1h0M371.0 1218.4h0M345.4 1282.3h0M389.7 923.2h0M360.8 1016.4h0M399.4 1267.5h0M181.4 1295.0h0M223.1 975.0h0M306.9 1002.1h0M384.4 1285.1h0M415.5 1325.1h0M315.1 1014.4h0M253.4 1298.8h0M404.1 1275.0h0M342.7 1025.0h0M374.3 1280.6h0M258.1 1067.2h0M218.4 966.1h0M254.5 1085.5h0M294.6 1303.4h0M314.9 1134.2h0M317.7 1307.5h0M327.9 1055.3h0M273.6 1151.3h0M398.7 1246.5h0M435.4 1297.0h0M175.2 920.0h0M371.1 895.7h0M230.7 1187.3h0M406.0 1003.6h0M191.6 1213.8h0M310.9 1314.7h0M302.6 1330.5h0M177.6 1278.6h0M278.0 1142.3h0M302.5 1309.1h0M216.7 1036.8h0M290.5 1316.3h0M396.3 977.2h0M277.5 933.2h0M168.0 901.8h0M270.3 1243.6h0M303.9 1222.1h0M269.7 1176.6h0M215.5 1248.5h0M418.3 1230.5h0M255.0 1211.1h0M511.5 1315.7h0M594.4 1318.0h0M378.4 1273.7h0M276.1 1113.8h0M221.1 1304.4h0M321.6 1072.4h0M399.9 1143.6h0M430.7 1281.1h0M380.1 1106.8h0M377.2 1056.4h0M502.4 923.8h0M170.1 1103.8h0M398.2 1126.8h0M232.1 1191.8h0M341.9 1131.7h0M251.2 1323.0h0M313.7 1272.1h0M303.7 1176.8h0M240.5 1311.4h0M167.7 1260.9h0M345.0 1166.4h0M284.0 1193.9h0M531.0 1024.6h0M417.8 1244.5h0M376.7 1243.7h0M483.9 1317.1h0M343.2 894.6h0M459.9 1320.5h0M214.1 1276.5h0M414.7 1152.0h0M178.8 1183.8h0M405.7 1171.4h0M516.1 992.7h0M349.7 1303.7h0M160.6 1080.0h0M562.5 1326.4h0M529.6 1343.3h0M531.6 1335.0h0M242.9 1296.7h0M287.1 1293.1h0M287.1 893.8h0M526.6 941.6h0M247.4 1135.0h0M434.7 1305.1h0M538.7 1334.3h0M245.6 1030.9h0M335.2 1015.8h0M242.2 1324.9h0M259.1 1330.2h0M279.9 987.5h0M314.7 1325.1h0M298.4 1212.2h0M379.9 980.0h0M268.1 1222.8h0M279.5 1288.9h0M194.8 1338.6h0M288.4 1086.9h0M422.2 1251.6h0M330.6 1061.4h0M348.7 939.5h0M411.9 1093.2h0M577.3 1336.3h0M457.4 1339.5h0M346.5 1287.0h0M363.4 993.1h0M240.7 1029.7h0M227.8 1189.3h0M440.4 1306.3h0M178.5 1179.5h0M424.7 1269.7h0M276.6 1102.7h0M301.0 1228.1h0M396.6 1110.8h0M321.3 1329.1h0M484.2 1324.3h0M333.6 1327.6h0M200.6 935.0h0M315.9 1142.4h0M451.8 1340.0h0M365.3 1278.1h0M338.3 1304.6h0M318.7 988.1h0M559.3 1330.4h0M392.8 1104.0h0M220.5 1293.4h0M508.1 954.0h0M408.0 1086.1h0M403.6 1286.4h0M265.4 1326.9h0M204.2 1161.5h0M407.4 1005.3h0M322.2 1309.7h0M440.9 1343.2h0M373.2 1128.7h0M591.3 1334.7h0M170.3 911.8h0M206.2 1332.7h0M236.8 1160.3h0M287.4 1095.9h0M217.7 1257.3h0M290.3 1150.8h0M336.2 1146.8h0M279.4 1287.7h0M333.0 1297.0h0M216.4 1083.4h0M357.2 1062.6h0M259.8 1315.0h0M322.3 1028.8h0M178.8 1341.1h0M210.7 1263.5h0M363.9 1013.5h0M227.7 943.7h0M321.5 959.2h0M173.3 1034.5h0M306.0 1175.0h0M317.9 913.4h0M436.0 1304.9h0M599.2 1322.9h0M388.5 1128.6h0M239.1 1027.8h0M392.8 1333.1h0M351.1 1318.1h0M366.4 1190.2h0M329.7 1294.5h0M412.6 1187.9h0M391.9 1253.7h0M403.1 958.8h0M316.5 934.9h0M368.6 896.0h0M355.1 1198.0h0M402.6 1300.1h0M400.3 1228.6h0M537.2 1333.8h0M587.7 1319.4h0M191.3 1073.4h0M599.9 1316.8h0M282.9 1202.3h0M361.5 1082.8h0M363.5 1048.5h0M531.1 1329.3h0M286.5 1071.5h0M567.6 1071.4h0M457.4 1320.4h0M509.6 976.7h0M344.6 1134.8h0M361.8 1084.6h0M361.0 1301.4h0M426.0 1286.2h0M509.7 1327.0h0M406.1 994.4h0M271.5 911.5h0M198.7 1262.2h0M398.0 1235.7h0M357.4 1244.6h0M361.0 1191.6h0M393.8 1295.3h0M161.1 1152.6h0M607.1 1080.9h0M395.8 954.8h0M363.6 1263.1h0M575.1 1327.7h0M342.8 1161.7h0M562.8 1315.2h0M530.9 1010.1h0M241.2 1125.7h0M408.9 1224.5h0M430.2 1284.2h0M279.3 1206.9h0M368.2 1044.5h0M425.3 1322.9h0M284.5 1234.5h0M258.5 1243.7h0M354.0 1058.1h0M175.4 1264.4h0M355.4 975.7h0M272.9 925.1h0M361.0 1245.1h0M245.1 1003.0h0M220.6 1273.5h0M302.0 1026.3h0M184.3 1132.3h0M371.9 908.1h0M392.9 1072.3h0M263.1 1287.9h0M344.2 1018.3h0M392.8 1298.8h0M410.4 1215.1h0M366.7 892.0h0M350.6 1006.9h0M177.0 965.1h0M291.8 1189.6h0M343.5 1274.4h0M412.4 1156.0h0M316.7 1281.9h0M283.6 1163.1h0M295.2 1216.4h0M453.3 1312.9h0M197.4 1247.8h0M374.5 1291.7h0M398.5 1267.0h0M321.3 1238.3h0M220.9 1039.5h0M204.2 1099.1h0M415.5 1287.6h0M186.3 1163.3h0M337.2 1133.8h0M392.4 1285.0h0M397.4 1093.3h0M398.9 935.5h0M601.7 1317.2h0M430.5 1335.3h0M357.2 1230.7h0M183.8 1155.8h0M314.7 993.5h0M492.7 1339.0h0M490.5 924.0h0M321.4 917.9h0M205.8 897.8h0M509.4 974.2h0M295.5 1025.6h0M578.1 1319.2h0M261.6 1175.6h0M187.8 945.2h0M409.9 1093.4h0M382.5 990.5h0M361.9 1330.9h0M259.5 1165.8h0M177.9 1200.4h0M374.2 971.1h0M386.6 1253.1h0M400.4 1305.3h0M375.8 1162.0h0M168.8 1069.8h0M329.0 1343.4h0M178.4 1084.8h0M264.9 1253.3h0M408.6 1235.5h0M367.2 1052.3h0M270.6 954.7h0M225.0 1143.6h0M295.3 1014.2h0M430.3 1318.6h0M361.6 1187.1h0M302.0 1079.6h0M241.0 1248.2h0M422.9 1308.4h0M583.1 1055.6h0M408.9 1142.5h0M339.4 932.9h0M511.1 1317.8h0M353.3 1271.1h0M408.1 1340.2h0M410.6 1212.2h0M533.0 1332.8h0M403.9 1154.3h0M381.9 1094.3h0M489.6 1332.5h0M298.7 911.1h0M284.7 1179.0h0M404.3 1246.1h0M406.3 1139.7h0M184.5 1331.4h0M300.1 1341.6h0M397.1 1047.8h0M196.6 1065.5h0M301.1 1143.6h0M409.2 1300.2h0M416.6 1181.8h0M211.0 1157.5h0M336.2 993.7h0M354.1 964.1h0M412.6 1165.1h0M371.3 1330.4h0M364.6 1040.8h0M342.4 1201.0h0M356.4 1144.7h0M325.6 1268.0h0M587.4 1333.0h0M544.5 1332.0h0M404.4 1269.5h0M361.7 1272.8h0M413.3 1315.3h0M281.0 1282.8h0M223.6 1173.7h0M181.4 1152.4h0M342.1 1310.6h0M242.8 1286.7h0M202.2 1210.9h0M363.3 1173.8h0M365.8 1318.7h0M415.8 1165.8h0M246.6 1059.1h0M362.3 957.7h0M170.4 912.4h0M216.6 1232.1h0M527.5 1320.2h0M176.1 1203.9h0M436.7 1292.8h0M507.3 970.0h0M275.0 1121.1h0M425.8 1303.8h0M326.3 1298.3h0M360.2 1172.2h0M382.6 1013.9h0M309.3 1333.9h0M390.0 1110.5h0M543.1 1048.3h0M302.3 1083.4h0M387.9 1179.3h0M403.5 1219.8h0M413.4 1158.6h0M334.9 1070.0h0M452.9 1341.2h0M406.8 1288.1h0M249.3 1168.6h0M202.7 1023.4h0M365.9 901.8h0M343.9 1215.0h0M319.0 1259.0h0M210.8 1310.2h0M265.8 1202.6h0M263.9 1167.0h0M324.6 1212.7h0M267.1 924.3h0M381.0 932.2h0M616.8 1318.9h0M409.2 1317.2h0M266.3 1068.8h0M555.8 1057.8h0M405.7 1327.2h0M579.3 1330.2h0M365.1 1171.2h0M372.2 1272.4h0M536.9 1024.4h0M520.5 1312.1h0M430.6 1277.0h0M265.2 1250.5h0M394.3 889.8h0M408.5 1320.7h0M168.4 911.9h0M353.2 906.0h0M318.7 1022.9h0M258.6 993.4h0M264.0 1074.4h0M170.9 989.8h0M333.8 1105.1h0M402.9 1108.7h0M262.6 1219.5h0M200.0 1018.7h0M259.1 960.3h0M386.5 1098.2h0M227.3 1167.1h0M313.2 1272.8h0M367.8 1178.4h0M356.7 1092.1h0M352.2 1029.2h0M408.8 1025.3h0M344.9 1070.8h0M297.0 1058.7h0M558.9 1072.6h0M326.3 1316.7h0M324.9 1322.2h0M215.2 1322.9h0M494.2 1319.5h0M336.8 1298.2h0M269.5 1283.9h0M339.0 1067.9h0M389.2 1335.5h0M404.4 967.0h0M415.4 1313.2h0M354.0 906.5h0M339.6 1119.0h0M423.8 1292.1h0M390.7 1130.5h0M191.0 1045.5h0M410.6 1071.9h0M345.2 1164.8h0M300.8 1302.3h0M370.6 1166.7h0M281.6 1002.2h0M396.4 1022.1h0M396.6 1211.2h0M265.2 1160.0h0M394.1 1203.4h0M336.1 1195.7h0M396.0 1200.3h0M498.3 933.9h0M194.5 1337.1h0M429.7 1275.7h0M317.0 1134.1h0M322.8 1102.7h0M227.6 1056.9h0M343.0 1277.0h0M390.6 1221.5h0M285.1 1051.4h0M297.5 1024.1h0M393.6 1337.6h0M408.8 1140.5h0M588.8 1074.3h0M207.4 1334.0h0M386.5 1122.4h0M241.7 897.3h0M395.3 985.7h0M392.1 1194.2h0M246.5 1336.5h0M275.5 1094.0h0M245.5 1206.4h0M248.9 1318.4h0M168.6 1055.1h0M264.6 1310.7h0M355.1 934.2h0M215.5 973.6h0M411.1 1326.9h0M365.2 1047.0h0M429.9 1337.2h0M331.6 1177.9h0M325.7 1040.4h0M355.4 1257.0h0M478.7 1315.1h0M427.6 1267.8h0M568.0 1314.3h0M506.6 949.7h0M338.7 981.1h0M554.7 1048.1h0M354.9 1286.4h0M347.0 1079.1h0M233.3 1119.2h0M410.0 1205.0h0M415.6 1247.4h0M447.3 1334.5h0M370.6 986.6h0M428.2 1333.0h0M256.0 1162.4h0M247.6 1076.5h0M403.6 983.0h0M326.7 1097.5h0M375.1 1246.5h0M573.7 1327.6h0M492.2 1326.7h0M541.8 1331.8h0M342.1 919.2h0M431.4 1300.9h0M172.2 1070.9h0M488.7 914.5h0M198.9 1029.2h0M408.7 1159.9h0M341.9 982.8h0M321.8 1255.7h0M235.0 955.6h0M323.7 1119.3h0M324.8 1260.2h0M314.1 1159.2h0M413.3 1327.5h0M510.6 971.7h0M350.6 1183.1h0M213.0 1325.9h0M314.8 1106.5h0M334.4 953.4h0M281.0 1233.8h0M491.0 919.9h0M223.0 1006.0h0M374.3 955.0h0M408.3 1042.8h0M406.4 1343.1h0M350.4 909.3h0M556.0 1315.1h0M198.6 1240.2h0M416.1 1225.7h0M407.0 1199.8h0M229.6 1212.4h0M399.7 926.1h0M390.2 1321.0h0M329.7 968.9h0M281.8 970.4h0M310.4 920.6h0M290.3 904.1h0M209.0 1317.1h0M378.5 1220.7h0M515.4 953.3h0M339.5 1182.1h0M347.8 1315.9h0M240.2 957.2h0M295.1 1230.5h0M590.1 1334.5h0M257.5 951.0h0M280.9 1004.4h0M369.5 1206.1h0M364.5 919.8h0M457.7 1335.4h0M358.7 1256.5h0M352.0 1231.0h0M402.4 1337.4h0M550.2 1060.4h0M546.1 1338.2h0M166.3 958.4h0M415.4 1271.1h0M392.4 1294.2h0M197.5 1228.2h0M174.2 926.6h0M457.4 1342.5h0M174.7 1266.8h0M372.9 1209.9h0M361.3 975.0h0M395.9 1049.9h0M411.9 1134.2h0M378.4 1108.6h0M270.9 908.3h0M346.8 1133.7h0M404.5 1069.5h0M359.1 1284.2h0M501.0 945.2h0M490.3 910.1h0M173.8 1316.3h0M368.8 975.6h0M413.6 1281.3h0M394.8 1153.6h0M295.0 1342.4h0M212.4 968.2h0M547.8 1055.0h0M404.7 1230.6h0M263.5 960.9h0M308.5 1185.3h0M234.0 1342.7h0M318.6 992.3h0M378.6 1276.1h0M394.7 1176.1h0M245.6 966.1h0M359.8 1087.1h0M292.5 1026.6h0M204.5 1204.5h0M215.0 1177.2h0M409.4 1305.0h0M299.0 1301.2h0M289.9 1042.1h0M194.9 1120.9h0M380.9 1027.2h0M422.6 1265.7h0M174.4 1099.7h0M369.8 904.1h0M321.0 1038.4h0M390.0 1100.4h0M303.8 1219.8h0M425.6 1287.3h0M282.0 1342.0h0M310.5 992.0h0M250.6 991.8h0M345.8 999.4h0M289.9 1157.5h0M408.0 1342.3h0M544.0 1326.3h0M429.0 1342.3h0M310.9 1281.3h0M382.0 1317.0h0M215.5 1180.4h0M562.7 1073.5h0M390.3 901.5h0M338.9 1002.8h0M192.3 1327.7h0M252.2 1222.0h0M394.4 1271.4h0M301.2 894.7h0M211.5 1250.8h0M228.6 1060.5h0M318.1 1101.9h0M419.6 1238.8h0M312.1 1323.9h0M408.2 1071.7h0M366.9 1026.5h0M401.6 1287.7h0M315.4 1071.7h0M416.7 1258.2h0M440.8 1310.1h0M510.4 1314.5h0M258.1 1182.7h0M297.0 1178.3h0M560.2 1058.0h0M404.0 1153.5h0M386.5 993.6h0M397.6 943.5h0M378.6 1291.7h0M367.8 951.0h0M358.0 1336.8h0M382.8 1070.4h0M210.5 1276.9h0M187.7 1201.6h0M409.6 1069.0h0M268.2 1183.3h0M213.7 919.5h0M361.7 980.8h0M238.4 914.0h0M410.7 1102.0h0M308.1 1177.0h0M291.2 1264.4h0M244.6 1077.4h0M398.9 1145.1h0M366.8 943.7h0M336.0 1144.7h0M355.2 911.6h0M518.7 942.6h0M261.5 1264.6h0M384.0 1240.9h0M526.6 1023.6h0M287.0 1300.1h0M384.2 1078.6h0M580.4 1325.7h0M260.8 1261.7h0M310.8 1218.3h0M275.1 1188.6h0M577.8 1312.6h0M366.4 1093.1h0M265.5 975.9h0M395.5 1145.6h0M401.5 1152.1h0M405.1 1176.0h0M171.5 1331.2h0M286.0 900.0h0M380.1 1007.5h0M247.1 957.3h0M595.1 1313.8h0M409.1 1329.8h0M323.9 953.5h0M357.2 1329.2h0M282.9 952.9h0M418.0 1217.7h0M219.8 1309.0h0M411.7 1164.0h0M318.7 953.7h0M355.3 1025.6h0M402.4 1285.8h0M365.3 1127.2h0M375.4 1255.6h0M353.6 1027.0h0M186.2 1049.5h0M310.2 1269.6h0M262.7 1262.2h0M214.2 1075.1h0M523.1 992.7h0M386.5 1293.9h0M268.7 956.3h0M293.2 1039.9h0M361.9 939.7h0M297.0 1247.0h0M229.3 1227.0h0M204.1 975.7h0M260.9 1313.2h0M392.6 1123.0h0M585.5 1311.7h0M315.6 1071.2h0M406.2 1199.2h0M214.5 1302.5h0M371.5 1148.3h0M541.0 1025.8h0M570.1 1314.9h0M162.1 1023.7h0M339.8 1133.8h0M550.0 1334.4h0M244.1 1061.7h0M334.2 1276.9h0M328.2 1274.3h0M527.4 1022.5h0M490.6 1340.7h0M418.7 1266.2h0M266.6 1220.0h0M209.6 1323.8h0M526.7 1027.1h0M258.4 1146.3h0M391.6 1062.0h0M164.0 1049.2h0M355.0 945.1h0M373.8 1163.9h0M548.5 1032.6h0M263.6 972.2h0M350.1 1127.3h0M167.9 1267.8h0M367.8 1124.3h0M283.1 1317.6h0M166.5 939.5h0M415.0 1190.7h0M263.0 1111.6h0M264.8 1088.0h0M404.3 998.2h0M388.4 1335.5h0M423.4 1288.8h0M363.5 1222.3h0M422.4 1325.9h0M588.2 1065.5h0M232.5 1041.9h0M382.1 1075.4h0M303.7 943.2h0M495.2 935.4h0M281.2 1268.7h0M382.1 1255.3h0M590.0 1084.7h0M214.0 1202.2h0M393.5 1169.8h0M281.9 1182.3h0M395.0 1237.0h0M367.2 1027.0h0M380.4 939.0h0M242.7 1201.9h0M402.3 1051.2h0M460.0 1338.0h0M485.3 893.8h0M430.3 1336.0h0M530.9 1329.3h0M398.8 914.2h0M313.8 1040.9h0M518.5 1313.3h0M393.6 955.7h0M363.2 1196.6h0M307.2 1108.4h0M400.4 1257.8h0M302.1 1160.6h0M358.2 978.4h0M280.5 1107.0h0M388.7 1294.2h0M336.6 972.3h0M432.6 1327.5h0M295.7 1147.5h0M571.6 1343.0h0M377.2 966.9h0M405.9 1071.7h0M261.0 1076.4h0M556.0 1067.7h0M362.7 1215.9h0M593.2 1088.9h0M508.5 959.9h0M327.0 1177.8h0M300.7 983.2h0M399.9 1031.1h0M218.9 1288.4h0M539.1 1001.7h0M355.3 1152.7h0M375.2 1138.9h0M409.8 1065.3h0M296.6 1087.1h0M299.2 1330.1h0M212.1 1238.4h0M361.0 1161.5h0M183.0 1238.5h0M356.4 1047.0h0M215.8 1007.0h0M338.0 1000.5h0M258.5 1195.4h0M367.4 1281.1h0M404.2 1301.5h0M387.5 924.4h0M379.2 1138.9h0M216.5 1292.5h0M395.6 1188.2h0M186.2 1125.9h0M192.0 1320.1h0M250.6 1331.7h0M406.8 1284.7h0M325.6 1198.2h0M167.0 1234.8h0M371.2 1205.2h0M401.5 1081.7h0M176.0 1033.9h0M180.0 1286.6h0M300.5 1298.1h0M342.8 1277.4h0M468.9 1338.5h0M531.1 1313.1h0M405.6 959.4h0M411.8 1173.3h0M557.3 1337.5h0M323.0 1269.6h0M235.6 1112.0h0M340.5 1141.5h0M207.8 1341.3h0M298.9 1230.4h0M344.1 1120.1h0M277.8 1104.6h0M438.9 1307.4h0M389.2 1298.4h0M189.2 1325.6h0M402.1 1343.1h0M292.3 900.6h0M184.6 914.7h0M393.7 1209.0h0M389.6 932.5h0M589.5 1341.0h0M297.6 1120.2h0M478.3 1330.8h0M314.2 1183.7h0M354.8 1236.1h0M327.5 1301.1h0M570.4 1334.1h0M423.8 1299.9h0M214.8 1119.5h0M607.3 1331.2h0M433.8 1301.7h0M220.9 1105.5h0M306.4 1213.6h0M331.5 978.1h0M564.9 1072.4h0M194.9 1169.7h0M372.8 1254.0h0M278.9 1241.0h0M267.5 1001.4h0M408.3 1099.0h0M258.6 1184.0h0M407.9 1300.8h0M294.8 1013.7h0M206.9 1230.3h0M413.4 1123.4h0M169.9 1186.8h0M417.5 1260.0h0M329.8 1336.7h0M387.2 908.1h0M371.8 943.9h0M528.6 1341.2h0M213.7 1186.8h0M387.8 1133.9h0M240.9 1067.8h0M195.7 1212.2h0M337.6 1105.0h0M419.9 1305.1h0M220.0 947.6h0M215.4 983.2h0M489.2 1327.0h0M246.0 1038.2h0M253.3 1172.1h0M409.4 1264.8h0M523.8 1008.3h0M183.6 1219.6h0M218.1 979.6h0M408.5 1228.5h0M235.9 1085.8h0M205.4 1337.0h0M184.1 1181.0h0M326.0 1279.8h0M191.8 1282.4h0M419.4 1302.1h0M515.3 1314.0h0M391.6 960.8h0M331.1 1242.1h0M282.3 929.2h0M313.4 1029.2h0M333.6 1236.1h0M548.8 1338.7h0M189.2 1312.2h0M444.2 1317.5h0M226.7 1236.6h0M598.6 1323.0h0M397.9 1090.2h0M387.3 1315.9h0M445.6 1318.2h0M243.5 1146.7h0M369.8 1114.7h0M299.1 1306.0h0M575.5 1076.0h0M421.0 1281.4h0M397.1 1039.8h0M171.4 1073.3h0M286.9 892.7h0M172.6 913.8h0M527.3 1008.2h0M372.9 1203.5h0M253.3 1081.6h0M266.6 1132.4h0M189.6 1051.3h0M334.6 1269.0h0M365.1 954.4h0M406.1 1222.9h0M356.6 909.9h0M269.4 1176.2h0M401.9 1200.1h0M483.9 901.4h0M516.9 1315.4h0M401.3 974.1h0M173.6 1182.6h0M503.8 945.7h0M214.3 1227.5h0M441.5 1306.5h0M199.7 1227.9h0M476.3 1333.0h0M389.0 1142.1h0M258.2 1106.8h0M383.1 964.5h0M379.3 1044.3h0M229.1 909.4h0M589.5 1335.0h0M531.0 1340.8h0M559.5 1054.7h0M390.8 930.2h0M305.5 1330.0h0M379.5 897.4h0M278.8 1175.3h0M250.6 1240.4h0M392.7 1267.0h0M211.8 1145.1h0M284.1 974.5h0M285.0 1013.3h0M261.3 1186.5h0M236.5 1215.7h0M211.5 972.8h0M399.0 950.2h0M296.2 1298.7h0M189.1 1025.5h0M396.4 1340.5h0M307.7 942.1h0M330.7 1032.1h0M379.7 1320.1h0M407.2 1306.1h0M278.2 1313.4h0M392.4 1031.0h0M218.9 1327.0h0M405.3 1110.9h0M607.0 1328.2h0M371.4 1337.4h0M284.3 1100.2h0M304.0 1121.6h0M362.3 920.5h0M279.2 1293.0h0M465.1 1341.4h0M302.6 1333.7h0M418.2 1332.5h0M216.4 1178.2h0M328.5 991.9h0M302.4 1066.2h0M291.6 1124.9h0M386.9 1256.8h0M398.6 1251.4h0M312.2 1244.8h0M193.3 1318.2h0M616.0 1326.0h0M188.3 1007.0h0M343.1 1185.6h0M368.4 1239.9h0M575.1 1317.7h0M346.0 1130.7h0M414.5 1206.3h0M290.4 1302.2h0M266.7 1305.1h0M549.5 1061.6h0M325.5 1019.1h0M396.0 1095.0h0M573.4 1317.7h0M229.8 1279.3h0M389.1 1311.6h0M386.0 1338.6h0M504.7 1336.9h0M574.3 1327.3h0M326.6 1059.3h0M160.8 1046.4h0M289.0 1123.0h0M602.7 1088.2h0M282.5 1020.5h0M441.3 1310.8h0M240.6 1294.6h0M371.8 1195.4h0M345.7 1274.6h0M186.1 903.3h0M375.9 1186.5h0M362.5 1288.7h0M545.0 1335.5h0M205.8 982.1h0M310.4 999.6h0M407.5 1221.9h0M298.8 1291.9h0M412.1 1165.1h0M301.7 1071.7h0M330.9 1058.0h0M227.9 1320.0h0M383.1 1218.0h0M349.5 1082.2h0M318.9 1193.3h0M352.3 959.9h0M425.3 1309.8h0M564.2 932.5h0M237.1 960.9h0M177.0 918.2h0M254.1 1167.3h0M215.1 1244.5h0M510.1 959.4h0M374.7 1060.3h0M174.4 1163.4h0M185.6 949.8h0M279.5 917.9h0M363.1 1238.0h0M396.7 918.7h0M233.8 1147.8h0M231.9 1074.1h0M309.3 958.6h0M362.1 1074.7h0M361.6 1307.1h0M402.7 1305.8h0M357.8 969.5h0M398.3 1297.8h0M170.6 1080.2h0M171.2 1310.8h0M488.0 1320.1h0M346.3 1110.7h0M460.3 1338.1h0M257.4 1026.0h0M389.0 1059.3h0M505.3 962.3h0M270.4 1235.9h0M321.8 1273.2h0M381.3 945.2h0M262.9 1144.8h0M351.8 999.6h0M233.0 1073.8h0M366.7 1101.2h0M541.1 1027.3h0M388.6 1101.6h0M225.4 1013.8h0M326.9 1071.8h0M526.2 976.8h0M402.9 1310.5h0M392.6 1227.0h0M263.7 903.5h0M402.3 1037.2h0M188.6 1200.1h0M382.8 1097.8h0M395.4 1241.7h0M320.3 909.0h0M363.5 1202.5h0M332.0 932.1h0M356.7 1051.7h0M501.2 947.0h0M384.3 1071.7h0M347.9 1254.7h0M309.8 926.3h0M412.9 1264.7h0M396.0 1181.2h0M401.3 1006.8h0M371.4 1261.0h0M413.3 1312.5h0M490.3 917.4h0M270.9 1109.8h0M312.2 1307.1h0M332.8 1045.1h0M519.3 993.3h0M410.6 1178.4h0M264.7 1083.4h0M293.7 1025.5h0M389.1 1016.7h0M545.4 1331.8h0M407.4 1149.7h0M259.2 1001.4h0M357.5 997.6h0M397.6 1333.5h0M436.3 1288.1h0M250.4 1267.6h0M419.0 1229.2h0M260.9 993.4h0M306.9 1011.1h0M188.4 1238.4h0M309.5 1146.2h0M364.9 894.1h0M218.1 1306.1h0M262.9 1119.9h0M179.9 1025.9h0M198.9 1006.9h0M274.4 1047.5h0M243.4 1042.2h0M206.2 1250.0h0M263.7 1269.5h0M343.2 1115.0h0M396.8 1305.5h0M389.7 1321.5h0M386.6 1204.0h0M167.5 1196.3h0M408.4 1325.1h0M359.2 980.3h0M356.2 1079.0h0M172.3 960.3h0M287.0 1047.8h0M408.2 1335.4h0M211.9 1223.8h0M481.2 898.4h0M359.4 962.4h0M225.9 918.4h0M476.0 1322.0h0M382.2 1086.0h0M414.3 1198.7h0M404.6 998.8h0M412.1 1205.3h0M171.3 1286.0h0M384.8 1064.5h0M384.3 1234.8h0M235.1 1226.3h0M286.2 1152.8h0M360.3 1172.3h0M177.6 1181.4h0M232.7 1263.9h0M287.1 1232.8h0M174.5 1134.2h0M269.4 964.6h0M287.2 1102.0h0M349.5 954.6h0M306.6 979.5h0M314.1 1113.7h0M389.4 969.2h0M549.9 972.6h0M345.5 1106.3h0M253.0 1334.0h0M398.7 990.2h0M376.7 1117.4h0M243.3 1037.7h0M318.3 1321.0h0M561.1 1329.2h0M596.3 1328.2h0M582.9 1326.9h0M275.2 993.5h0M406.2 1322.3h0M388.2 1257.5h0M448.8 1333.7h0M329.5 1112.9h0M381.3 1074.8h0M402.3 1333.5h0M478.0 1329.3h0M282.2 980.7h0M314.6 911.3h0M403.5 1196.6h0M369.4 902.7h0M542.0 1338.9h0M252.7 1239.1h0M241.1 1114.8h0M434.7 1282.8h0M225.2 1173.2h0M420.0 1276.5h0M356.4 1293.4h0M272.6 991.2h0M301.3 1108.3h0M401.0 997.4h0M218.5 953.8h0M355.2 1136.2h0M171.6 1303.0h0M546.2 943.1h0M536.3 1313.7h0M207.2 1235.2h0M175.9 997.0h0M406.1 1059.9h0M409.1 1068.2h0M368.2 1226.4h0M162.5 1081.2h0M248.8 949.1h0M395.0 1048.3h0M197.2 1134.7h0M263.2 1133.7h0M275.1 1315.1h0M385.9 1015.0h0M415.3 1305.5h0M275.9 1011.5h0M412.3 1300.2h0M377.1 945.0h0M336.0 1241.3h0M403.5 950.7h0M238.4 1020.2h0M400.1 1254.4h0M485.2 909.4h0M168.8 1081.6h0M411.9 1139.6h0M488.1 894.8h0M221.6 1095.4h0M303.7 1340.5h0M215.1 1280.4h0M230.5 1221.2h0M324.5 1061.1h0M231.0 1247.8h0M213.5 1077.0h0M480.1 888.5h0M363.1 1293.0h0M302.3 1153.4h0M389.0 943.4h0M257.9 1170.1h0M313.5 1240.7h0M330.4 1073.7h0M240.4 1159.3h0M386.6 995.9h0M344.3 954.3h0M568.2 1072.8h0M269.4 1061.5h0M190.3 1043.1h0M317.7 1159.4h0M428.9 1309.5h0M280.4 1287.5h0M227.7 963.0h0M394.4 1124.1h0M384.8 1278.7h0M426.5 1280.5h0M168.7 1090.9h0M343.2 992.7h0M311.4 1298.4h0M517.2 993.7h0M343.9 1209.4h0M206.4 1039.1h0M176.8 997.7h0M424.3 1281.2h0M359.3 1338.5h0M232.2 1305.6h0M506.4 1321.8h0M243.6 964.2h0M493.4 1335.8h0M169.1 1174.1h0M170.6 1183.3h0M405.2 1059.1h0M313.7 1294.5h0M292.2 933.1h0M173.8 1321.1h0M373.5 1059.3h0M206.6 1141.0h0M594.3 1316.6h0M375.3 930.1h0M367.2 1283.4h0M365.3 945.4h0M410.3 1093.5h0M226.2 1331.2h0M331.7 1217.8h0M369.6 928.7h0M290.4 1222.8h0M407.5 1035.2h0M378.3 1097.8h0M399.0 974.1h0M292.5 1260.6h0M400.0 1033.9h0M426.4 1257.6h0M365.1 1061.5h0M358.5 1158.5h0M379.7 1123.0h0M199.9 959.7h0M315.2 953.6h0M521.5 1315.2h0M395.3 964.9h0M376.3 1066.8h0M303.6 1016.4h0M340.0 1094.0h0M302.9 1018.6h0M419.1 1323.6h0M256.3 1176.7h0M514.0 984.9h0M491.9 1314.0h0M297.9 1047.4h0M425.4 1309.9h0M302.7 974.0h0M445.6 1325.7h0M525.0 1012.8h0M419.9 1333.2h0M344.4 1289.1h0M192.6 905.5h0M601.0 1056.3h0M256.9 1205.6h0M417.6 1194.2h0M395.5 1279.3h0M420.3 1252.0h0M284.6 1257.7h0M379.2 1068.1h0M395.0 1040.1h0M391.8 1148.9h0M385.4 1109.4h0M489.8 1321.8h0M397.6 1088.3h0M223.9 916.3h0M340.2 960.7h0M186.2 947.0h0M314.7 1267.6h0M388.5 956.2h0M275.5 1162.5h0M382.1 1062.9h0M304.4 1215.4h0M391.8 947.7h0M392.4 942.5h0M372.2 1243.0h0M408.8 1184.9h0M332.9 1059.7h0M356.2 1300.9h0M305.3 1127.3h0M451.0 1320.2h0M369.2 1265.9h0M379.9 1163.8h0M419.0 1273.0h0M217.8 1271.4h0M242.4 1009.0h0M229.7 1272.9h0M204.6 1165.7h0M228.0 1018.0h0M432.9 1319.9h0M310.1 914.4h0M366.1 938.3h0M265.4 942.9h0M302.7 1220.8h0M221.5 956.1h0M413.7 1230.9h0M261.2 1257.4h0M402.5 1149.4h0M421.5 1280.9h0M552.6 1326.0h0M350.6 1023.8h0M207.8 970.0h0M348.6 1138.1h0M291.5 1047.6h0M192.4 1174.8h0M386.8 1005.6h0M254.3 1297.2h0M311.4 1024.2h0M613.8 1090.6h0M376.7 1233.0h0M198.3 934.2h0M344.5 1235.4h0M227.7 1117.6h0M378.8 999.3h0M239.5 936.3h0M323.4 1195.8h0M405.5 1032.9h0M308.7 1194.6h0M400.4 939.6h0M269.1 1131.0h0M291.4 1253.7h0M394.3 1035.2h0M270.9 1185.8h0M381.6 1077.5h0M405.2 1197.1h0M179.6 977.8h0M362.9 973.5h0M288.6 890.4h0M350.3 1268.9h0M393.6 1196.9h0M449.7 1321.8h0M169.1 1301.0h0M276.3 1284.1h0M202.4 1206.8h0M211.4 990.7h0M368.7 910.6h0M467.6 1312.8h0M339.1 1249.6h0M515.8 966.4h0M500.5 1332.9h0M383.5 1211.5h0M391.3 1337.8h0M410.6 1218.5h0M397.4 1033.4h0M160.7 1091.0h0M305.9 912.8h0M219.5 1099.4h0M291.0 1329.5h0M411.4 1158.5h0M329.7 1299.1h0M483.6 1313.6h0M375.3 1306.7h0M609.2 1339.7h0M412.2 1174.3h0M529.1 1327.8h0M213.6 1052.3h0M346.3 1176.8h0M324.1 1161.3h0M386.8 897.3h0M463.2 1333.0h0M262.3 1050.3h0M523.0 1009.6h0M297.2 1073.3h0M214.7 943.1h0M394.6 1175.5h0M325.0 955.2h0M203.5 1107.0h0M371.4 1113.0h0M353.8 912.3h0M324.9 1028.7h0M330.7 1118.2h0M357.0 1116.4h0M360.3 1275.8h0M411.3 1225.3h0M384.8 1259.8h0M300.9 1029.1h0M501.2 1317.0h0M323.5 1070.8h0M373.0 1070.6h0M428.1 1315.9h0M386.9 1289.5h0M342.2 1005.0h0M397.1 1125.5h0M182.6 1260.0h0M406.0 1172.5h0M433.8 1282.2h0M353.6 1133.2h0M399.3 947.9h0M279.6 1195.6h0M271.4 1195.4h0M473.3 1318.9h0M361.7 1287.3h0M196.4 1340.6h0M342.9 1000.5h0M381.5 1063.2h0M306.8 1171.1h0M382.5 1167.6h0M406.7 1258.6h0M249.7 1029.6h0M174.0 1149.9h0M348.7 994.9h0M364.2 1036.4h0M405.3 1009.5h0M288.7 893.8h0M321.0 921.5h0M372.2 1032.6h0M358.6 1310.3h0M375.6 1152.7h0M325.8 1045.1h0M261.6 1199.4h0M578.0 1075.6h0M216.6 1214.1h0M333.9 1215.3h0M555.4 1009.8h0M212.2 1216.9h0M221.2 969.7h0M299.5 1309.0h0M257.4 1153.6h0M307.6 1326.1h0M225.2 926.1h0M400.9 1316.3h0M318.1 1095.2h0M169.1 1179.2h0M167.9 903.1h0M322.1 1051.7h0M397.6 1289.8h0M406.9 1147.0h0M542.9 1051.2h0M355.5 1179.4h0M198.4 951.3h0M383.8 1140.5h0M371.5 1070.2h0M225.6 952.0h0M403.9 1268.2h0M292.9 1225.7h0M280.1 1283.7h0M429.8 1298.6h0M171.1 895.7h0M278.6 1201.4h0M383.8 1334.9h0M347.0 1081.5h0M309.9 1266.2h0M275.1 946.1h0M554.7 1020.9h0M405.3 1329.7h0M542.9 1337.4h0M410.3 1318.1h0M546.0 1057.9h0M181.0 1284.2h0M325.7 1331.6h0M251.1 981.2h0M278.7 1274.0h0M595.5 1328.4h0M433.1 1279.8h0M531.8 993.4h0M192.9 913.1h0M262.8 1334.3h0M279.3 923.9h0M400.1 1138.4h0M575.6 991.4h0M219.8 891.1h0M386.8 973.1h0M293.5 1157.1h0M197.6 959.9h0M288.4 1309.6h0M480.2 1333.8h0M365.5 1095.0h0M423.3 1303.2h0M367.2 1017.7h0M464.1 1341.5h0M208.6 1037.4h0M263.2 1178.9h0M344.4 1339.8h0M175.2 1174.2h0M382.2 1115.3h0M169.7 1193.4h0M406.4 1225.6h0M353.4 1137.0h0M194.3 1082.6h0M406.9 1273.6h0M335.2 920.1h0M546.2 1336.9h0M398.3 976.9h0M409.0 1132.3h0M605.7 1316.4h0M532.3 920.4h0M266.3 1072.3h0M318.5 916.5h0M493.1 911.5h0M367.5 961.4h0M317.2 1312.8h0M211.8 992.7h0M205.5 1341.2h0M532.6 1041.2h0M209.5 1184.7h0M281.7 1006.3h0M197.3 896.0h0M239.1 1089.9h0M256.2 1030.7h0M375.4 1222.9h0M334.1 1283.1h0M418.1 1311.6h0M218.8 1220.7h0M267.1 1210.6h0M419.8 1251.7h0M402.8 1035.1h0M315.7 1077.1h0M323.2 1128.2h0M315.2 1253.8h0M322.5 909.5h0M371.2 1056.5h0M392.7 1069.2h0M387.0 1130.4h0M352.0 890.9h0M427.0 1304.8h0M348.8 967.4h0M359.9 1204.1h0M375.1 1238.8h0M291.5 1103.9h0M386.0 1055.0h0M418.6 1272.3h0M219.5 1021.9h0M188.8 1302.4h0M200.8 1324.3h0M287.7 1065.2h0M275.1 971.3h0M432.5 1335.6h0M401.2 1061.9h0M287.6 1158.6h0M248.4 1022.7h0M170.5 1232.1h0M173.1 1098.4h0M381.2 1315.0h0M273.7 1138.2h0M507.7 1322.6h0M309.5 1328.7h0M282.6 1255.9h0M359.8 963.4h0M307.6 1175.4h0M397.7 1237.6h0M362.2 1174.4h0M391.8 1153.9h0M427.7 1320.3h0M196.7 1035.5h0M357.6 1112.2h0M377.5 1007.6h0M478.1 1316.4h0M379.8 905.9h0M287.0 1053.0h0M494.3 1311.7h0M353.8 1075.6h0M360.5 1193.2h0M513.4 1327.2h0M308.6 951.4h0M400.4 1314.2h0M251.0 984.8h0M512.9 1327.7h0M438.5 1296.4h0M513.9 983.7h0M316.1 1131.9h0M332.2 1272.0h0M406.6 1184.9h0M293.1 1195.3h0M286.7 1317.6h0M304.9 985.8h0M219.2 1273.4h0M334.6 986.4h0M350.6 938.8h0M171.8 968.6h0M393.2 1270.1h0M390.0 890.8h0M354.3 1219.4h0M239.2 1245.3h0M271.1 1153.7h0M291.2 918.0h0M500.3 950.8h0M370.4 1215.7h0M331.5 1034.4h0M199.5 1295.5h0M273.9 1330.3h0M197.3 1191.2h0M359.6 1237.8h0M339.3 1271.1h0M338.2 1188.9h0M293.8 1331.4h0M394.2 1021.0h0M401.6 1009.3h0M429.0 1301.0h0M388.6 1076.3h0M250.1 1224.8h0M321.7 1232.8h0M262.5 1342.5h0M521.6 1011.5h0M376.3 1324.6h0M360.7 1272.4h0M249.9 1137.3h0M199.8 1227.4h0M222.7 1242.0h0M542.4 1056.3h0M344.0 1265.7h0M402.7 1041.6h0M230.0 1073.6h0M426.0 1319.2h0M547.6 1058.9h0M398.7 1194.0h0M336.8 956.2h0M168.5 947.8h0M274.3 1187.5h0M326.3 1192.7h0M370.9 915.9h0M224.4 1027.3h0M376.8 1255.8h0M508.1 912.7h0M616.8 1315.3h0M362.5 1247.6h0M349.6 1103.9h0M275.1 1199.3h0M266.3 1313.0h0M249.2 1041.5h0M253.6 1133.9h0M216.3 1140.8h0M337.8 935.0h0M226.8 1196.8h0M337.3 1180.0h0M399.0 1193.5h0M594.3 1328.9h0M241.6 1242.1h0M244.1 1201.0h0M198.7 1131.5h0M291.4 1301.7h0M318.0 1004.1h0M367.7 1237.8h0M367.4 1234.8h0M413.4 1185.3h0M353.1 1307.9h0M492.7 1322.9h0M327.8 937.1h0M298.6 905.6h0M329.1 1146.6h0M314.1 1297.4h0M224.3 894.2h0M445.9 1332.7h0M562.1 959.1h0M364.2 1232.2h0M343.0 1120.0h0M330.4 1322.8h0M213.7 1242.8h0M183.7 1293.0h0M494.8 926.9h0M363.9 1280.0h0M336.1 951.3h0M410.1 1142.8h0M342.3 1112.7h0M331.1 1288.6h0M384.8 972.9h0M395.1 952.1h0M311.7 1033.4h0M374.9 1003.2h0M417.3 1239.0h0M539.4 1332.7h0M357.9 1157.3h0M349.0 1056.7h0M404.3 1205.3h0M541.9 1039.9h0M246.1 1185.6h0M362.9 1117.4h0M190.0 1045.9h0M175.6 1264.3h0M348.9 1213.7h0M369.4 1243.1h0M325.8 1267.0h0M353.9 1172.4h0M175.2 1212.2h0M247.5 960.4h0M227.5 1278.3h0M334.9 1122.5h0M218.1 1133.0h0M393.2 903.0h0M344.6 1002.2h0M404.3 1163.4h0M596.9 1093.4h0M355.3 1157.6h0M203.9 1320.2h0M489.1 1338.6h0M240.9 941.3h0M563.0 1320.0h0M225.4 1137.8h0M226.6 1043.5h0M278.7 1241.4h0M259.0 957.0h0M396.1 1181.2h0M379.7 1000.2h0M373.9 1021.8h0M369.4 1221.6h0M445.8 1333.2h0M185.6 1059.6h0M396.8 921.6h0M288.2 1187.9h0M319.0 1271.5h0M420.1 1231.0h0M269.7 1226.8h0M378.3 910.2h0M164.4 1225.1h0M217.8 1192.1h0M213.2 1266.6h0M402.2 1204.6h0M188.1 918.0h0M381.3 1331.1h0M453.4 1329.6h0M384.5 917.8h0M391.8 1064.8h0M354.0 898.6h0M392.8 1060.5h0M206.3 1297.8h0M336.3 1225.0h0M221.4 946.9h0M331.2 1194.7h0M209.1 1103.5h0M174.8 1060.5h0M176.1 1082.9h0M348.1 1007.2h0M176.1 1016.8h0M248.2 1304.2h0M248.4 1191.0h0M257.9 1296.4h0M386.0 905.4h0M343.3 1073.4h0M291.2 1330.9h0M280.4 950.5h0M291.0 1281.0h0M379.7 1121.3h0M412.5 1112.0h0M323.2 1100.2h0M376.7 1169.7h0M380.3 1044.4h0M294.8 1171.3h0M537.6 1036.4h0M495.6 921.7h0M391.3 1072.0h0M369.0 1137.2h0M451.3 1335.0h0M401.5 1041.9h0M363.6 941.6h0M383.8 1094.0h0M545.6 1325.8h0M320.0 1070.6h0M380.3 1056.9h0M410.3 1254.8h0M390.2 1186.7h0M460.7 1342.2h0M341.0 1321.7h0M531.2 1032.0h0M397.4 1203.8h0M407.7 1007.7h0M246.2 1187.0h0M379.0 1296.6h0M372.2 1254.4h0M401.2 1116.7h0M446.2 1329.4h0M539.6 1330.3h0M268.0 893.7h0M322.7 1249.7h0M586.0 1084.3h0M316.0 1318.5h0M321.0 1072.9h0M326.3 1275.7h0M535.0 1026.4h0M254.0 997.2h0M346.4 1092.7h0M393.2 892.9h0M495.6 1330.2h0M374.3 951.6h0M201.0 1148.6h0M312.2 1330.4h0M201.1 1179.2h0M208.9 927.8h0M273.7 1172.7h0M561.4 1335.1h0M282.0 1020.9h0M187.2 1197.7h0M403.8 1132.9h0M343.4 1294.8h0M544.3 1042.5h0M496.4 934.5h0M289.7 936.6h0M250.2 1262.1h0M262.1 1041.6h0M242.3 967.0h0M270.2 972.7h0M201.8 1189.2h0M182.8 1227.1h0M190.5 1233.7h0M382.3 1149.0h0M352.7 1294.0h0M484.9 904.6h0M411.7 1188.0h0M401.5 1067.2h0M390.6 906.2h0M185.5 916.6h0M420.7 1274.2h0M404.8 980.2h0M297.4 1141.0h0M341.6 1134.1h0M460.6 1317.6h0M342.7 1002.2h0M281.4 1164.7h0M230.3 950.6h0M260.1 1240.9h0M229.3 976.4h0M313.2 1335.0h0M192.5 1241.2h0M339.9 1263.6h0M395.1 956.8h0M232.8 930.4h0M284.2 1054.3h0M257.5 923.3h0M335.0 1043.2h0M206.7 1091.3h0M197.3 1156.6h0M341.3 1030.6h0M230.3 1119.1h0M393.4 966.8h0M206.5 1308.6h0M448.6 1312.1h0M403.2 996.6h0M306.8 1057.8h0M433.9 1304.5h0M394.9 1007.7h0M571.3 1081.4h0M397.5 1281.7h0M408.1 1224.2h0M327.9 1154.7h0M170.7 1297.3h0M555.3 1043.1h0M229.0 1174.4h0M518.9 984.0h0M400.3 1276.4h0M504.7 946.3h0M368.8 1002.2h0M337.4 903.2h0M254.4 1066.5h0M336.0 1296.1h0M253.9 1149.0h0M382.5 1191.8h0M394.1 1266.3h0M324.5 1165.8h0M398.0 1252.4h0M250.5 1159.5h0M400.0 993.1h0M337.5 1113.9h0M339.7 1040.0h0M463.3 1331.2h0M390.7 1001.5h0M405.0 1229.6h0M572.8 1080.3h0M275.6 1281.8h0M368.8 1208.7h0M281.9 1158.2h0M539.6 994.1h0M180.0 1193.2h0M398.0 1143.6h0M332.3 968.8h0M233.7 1042.6h0M299.5 1218.1h0M302.4 1098.4h0M264.0 1134.9h0M271.4 1023.1h0M239.1 1169.7h0M610.9 1321.4h0M356.9 929.5h0M390.5 1019.4h0M296.1 1261.9h0M194.4 1210.0h0M286.5 1012.4h0M523.9 1325.8h0M303.9 1014.5h0M287.1 943.9h0M217.1 1091.3h0M289.7 980.2h0M422.4 1241.9h0M238.2 1078.5h0M300.2 1335.5h0M290.7 1071.8h0M351.1 1144.9h0M499.1 1311.9h0M404.0 1316.0h0M408.7 1042.1h0M325.7 997.5h0M348.3 1247.9h0M409.0 1194.7h0M401.9 1333.2h0M306.5 1035.6h0M394.0 1130.9h0M193.3 1028.0h0M323.3 966.4h0M413.7 1330.7h0M416.5 1261.2h0M367.3 896.3h0M306.4 1086.4h0M173.8 1286.1h0M224.7 1197.9h0M244.5 1113.5h0M381.8 1075.3h0M178.8 1017.3h0M362.7 1208.5h0M405.9 1185.2h0M383.7 926.6h0M187.8 1150.2h0M325.5 1078.2h0M352.1 936.2h0M390.9 1029.8h0M304.7 1108.3h0M230.3 1219.9h0M375.0 1242.6h0M447.0 1312.5h0M185.7 1297.0h0M395.4 1043.5h0M302.1 1188.9h0M322.7 1298.7h0M353.9 1183.5h0M339.0 1064.9h0M372.8 1118.4h0M404.2 1030.4h0M182.6 1047.0h0M406.7 1026.8h0M423.9 1267.3h0M280.6 1141.7h0M283.8 1251.0h0M366.6 1248.3h0M275.5 1291.6h0M374.3 1203.8h0M196.3 1202.0h0M295.7 1084.9h0M339.8 958.5h0M208.6 1082.0h0M364.0 939.6h0M411.7 1213.3h0M553.3 1063.8h0M375.6 1326.1h0M337.8 956.1h0M356.4 1011.7h0M395.1 983.7h0M344.8 931.9h0M330.2 973.9h0M285.3 1241.4h0M198.1 1042.8h0M330.3 1072.5h0M161.5 974.4h0M278.5 1091.9h0M521.1 946.1h0M188.2 1028.7h0M403.5 1342.7h0M236.4 1213.7h0M240.4 1328.5h0M271.8 1330.0h0M584.7 1089.4h0M276.3 994.8h0M381.7 1134.5h0M179.1 1050.8h0M416.3 1291.7h0M321.6 1086.8h0M379.3 1034.1h0M264.7 1089.7h0M193.2 1248.4h0M385.4 912.7h0M607.4 1338.4h0M267.9 1092.9h0M381.3 954.0h0M278.6 990.1h0M401.8 1255.3h0M311.9 1045.9h0M399.6 1004.4h0M517.7 962.3h0M265.6 1281.1h0M306.2 1111.8h0M271.3 1033.2h0M367.5 1235.3h0M432.0 1313.8h0M161.1 1163.8h0M348.3 1212.4h0M415.4 1226.9h0M290.4 1195.1h0M405.6 1313.2h0M411.7 1314.1h0M363.3 1103.3h0M358.8 1099.3h0M531.3 982.0h0M278.0 1005.1h0M357.8 1299.6h0M390.3 1140.4h0M200.9 1201.4h0M238.8 1302.2h0M317.5 1296.4h0M243.5 1185.0h0M363.1 1342.8h0M385.9 903.6h0M231.6 1284.5h0M392.8 964.5h0M347.7 1019.1h0M185.1 1339.0h0M395.2 1011.5h0M327.7 1124.1h0M362.2 1288.6h0M392.9 1229.4h0M591.1 1083.1h0M407.2 1289.1h0M565.3 1332.9h0M427.0 1280.0h0M530.2 1024.3h0M503.0 1337.9h0M405.0 994.4h0M317.2 1124.9h0M362.4 1009.2h0M344.8 1191.9h0M536.3 1030.2h0M283.2 1059.4h0M219.1 961.8h0M165.6 1135.9h0M334.2 978.3h0M509.6 1341.2h0M398.6 1194.6h0M214.0 1302.2h0M409.5 1155.6h0M236.1 1111.5h0M161.7 904.9h0M270.7 1123.4h0M271.7 1139.6h0M191.3 1024.2h0M596.3 1088.7h0M406.7 1145.4h0M218.6 1040.9h0M189.2 1311.9h0M171.1 1281.5h0M543.6 1330.6h0M381.2 987.6h0M223.4 1309.1h0M406.6 1206.2h0M322.1 1204.9h0M381.0 1048.5h0M349.6 1297.7h0M457.7 1341.7h0M499.1 892.8h0M202.9 1328.9h0M206.5 1013.5h0M323.4 1048.1h0M410.0 1258.8h0M376.0 1038.6h0M303.0 1009.1h0M399.8 1033.7h0M409.9 1209.4h0M203.4 1082.3h0M408.0 1222.1h0M408.8 1100.2h0M204.1 1117.5h0M384.7 1028.0h0M294.1 1204.1h0M506.4 1324.9h0M305.6 1321.2h0M530.3 1337.2h0M221.7 1092.9h0M185.7 1136.3h0M287.7 890.2h0M551.2 1058.9h0M404.2 1048.3h0M309.4 1208.5h0M366.4 1072.7h0M550.7 1340.6h0M246.1 1051.5h0M330.7 1272.9h0M432.5 1305.3h0M402.8 1289.8h0M296.4 1130.7h0M242.8 1309.4h0M367.7 1114.1h0M379.4 1334.8h0M379.5 1240.9h0M381.5 948.3h0M335.2 1015.6h0M367.8 1113.1h0M201.1 1322.3h0M405.4 969.4h0M208.9 1334.5h0M249.8 1113.2h0M539.3 1333.5h0M432.1 1286.0h0M433.8 1296.7h0M407.4 1005.7h0M353.8 1178.6h0M344.5 950.8h0M231.8 915.5h0M319.6 1077.7h0M503.0 955.3h0M297.6 1277.9h0M539.5 1328.4h0M258.6 1319.3h0M235.9 948.0h0M499.9 1318.9h0M380.5 1342.4h0M359.5 1237.0h0M315.4 981.3h0M379.0 911.3h0M246.6 1319.5h0M408.9 1279.0h0M380.6 1249.1h0M334.5 1255.0h0M207.2 1160.9h0M289.9 1244.9h0M374.2 1029.6h0M218.6 947.6h0M258.6 1060.4h0M233.0 1224.7h0M584.6 1341.4h0M204.6 1202.1h0M385.6 1252.7h0M342.3 1068.5h0M302.5 1146.2h0M488.8 908.7h0M179.1 1006.7h0M400.0 1340.4h0M164.0 1215.4h0M271.1 970.2h0M350.7 1147.6h0M407.3 1204.3h0M399.5 1174.1h0M378.4 1063.8h0M286.5 941.2h0M339.6 904.4h0M252.8 1156.3h0M359.8 1255.5h0M182.4 1047.1h0M348.6 1208.9h0M332.7 1276.9h0M377.7 1076.7h0M406.5 1119.4h0M436.6 1299.2h0M372.8 1335.9h0M382.1 1220.0h0M304.4 1304.8h0M504.4 1327.5h0M215.2 1271.0h0M436.5 1334.2h0M411.3 1084.9h0M238.3 1111.9h0M376.7 1080.8h0M209.0 1053.7h0M368.8 983.2h0M326.4 977.7h0M224.9 1332.8h0M527.4 1324.8h0M399.2 1034.5h0M387.3 1074.5h0M237.7 1312.9h0M312.6 1128.2h0M387.7 904.7h0M193.3 1048.8h0M374.7 903.6h0M269.8 901.9h0M335.6 1264.9h0M224.1 1266.6h0M414.7 1287.4h0M329.1 1190.7h0M162.6 1331.6h0M268.3 1176.2h0M450.2 1336.6h0M547.5 1326.6h0M375.2 1329.5h0M330.2 1176.1h0M303.8 935.0h0M395.2 1244.5h0M182.3 1320.7h0M341.8 1210.6h0M388.7 1147.0h0M382.8 1287.1h0M293.7 1261.3h0M391.1 1097.1h0M399.5 1235.7h0M352.3 915.5h0M413.1 1173.2h0M552.7 1321.6h0M254.2 1017.2h0M243.6 900.6h0M499.0 891.1h0M346.2 1325.5h0M325.5 1126.1h0M186.6 1297.7h0M352.9 1267.3h0M572.2 1313.1h0M361.9 1149.2h0M554.1 998.1h0M416.4 1186.4h0M317.5 896.8h0M200.7 1162.3h0M210.0 999.0h0M317.2 1146.6h0M383.6 958.3h0M204.5 1018.1h0M261.9 1297.0h0M338.1 924.6h0M213.4 1139.1h0M278.2 1246.2h0M513.0 975.3h0M408.7 1114.2h0M548.9 1333.5h0M425.9 1342.8h0M255.4 1160.9h0M404.0 1321.0h0M243.7 1074.8h0M206.8 1052.8h0M382.3 1163.5h0M385.5 1088.3h0M613.0 1323.9h0M299.7 920.8h0M323.6 965.7h0M347.0 1117.5h0M214.7 1254.4h0M466.1 1324.3h0M216.4 1258.7h0M438.3 1299.0h0M419.9 1276.0h0M392.3 1291.5h0M202.6 1035.6h0M307.4 1053.7h0M241.5 1173.7h0M501.2 1332.2h0M372.9 1301.7h0M416.3 1199.6h0M345.9 1147.5h0M309.8 1262.4h0M225.8 1205.3h0M354.8 1080.8h0M412.9 1177.6h0M161.2 1234.2h0M468.1 1334.5h0M343.7 953.7h0M175.8 944.5h0M180.1 1224.2h0M391.1 1101.2h0M229.5 1330.1h0M581.2 1328.2h0M329.0 934.3h0M405.6 1095.4h0M197.7 964.5h0M423.4 1313.2h0M160.8 1013.7h0M310.5 1272.6h0M396.8 1099.3h0M207.9 1179.6h0M407.3 1022.8h0M388.7 1033.7h0M404.5 1193.7h0M571.0 1329.8h0M400.1 1167.1h0M328.0 1222.4h0M337.8 1023.0h0M221.4 1201.5h0M185.2 1128.9h0M414.2 1245.5h0M368.8 1274.0h0M203.4 1241.7h0M323.0 1183.6h0M551.5 1338.4h0M377.9 964.8h0M414.5 1237.2h0M572.3 1314.1h0M397.5 1312.1h0M449.5 1315.1h0M288.8 1074.4h0M198.1 1213.7h0M429.7 1329.2h0M186.4 987.6h0M327.7 1288.1h0M576.1 1076.5h0M380.7 1019.6h0M214.2 1324.5h0M244.0 1208.4h0M351.3 1205.8h0M223.0 891.2h0M475.5 1316.6h0M349.1 1319.1h0M193.8 1216.9h0M397.8 977.5h0M255.0 1119.7h0M430.5 1274.4h0M407.3 988.8h0M598.5 1081.5h0M369.6 1128.0h0M221.4 1049.7h0M161.7 1011.9h0M567.1 1325.0h0M353.2 1141.3h0M355.3 1085.5h0M387.0 1261.3h0M190.2 1318.2h0M206.3 1275.9h0M371.8 1192.6h0M546.9 1028.3h0M314.3 1092.6h0M325.2 1303.1h0M216.3 940.2h0M361.1 1249.4h0M170.6 895.7h0M331.8 1187.3h0M418.1 1280.2h0M387.2 1257.0h0M390.6 1320.0h0M555.8 1335.5h0M278.9 946.4h0M206.9 1150.4h0M298.6 1338.7h0M582.6 1085.9h0M194.9 974.2h0M527.9 1320.9h0M285.1 952.9h0M411.6 1087.8h0M287.5 1026.5h0M228.0 1140.3h0M174.8 1280.0h0M401.5 1012.2h0M392.5 1281.8h0M372.7 1330.4h0M610.0 1333.3h0M512.8 971.2h0M173.7 1282.1h0M318.0 1305.3h0M233.5 916.5h0M357.0 1072.2h0M277.1 1306.1h0M265.4 1123.5h0M563.9 1078.1h0M614.1 1328.7h0M376.1 920.8h0M287.4 1180.0h0M401.5 1023.4h0M354.9 1132.5h0M187.0 1059.3h0M347.5 1279.3h0M270.7 991.9h0M203.3 1054.7h0M181.0 1124.5h0M421.2 1239.6h0M177.7 1177.3h0M172.7 1050.3h0M240.9 1134.9h0M320.8 1266.2h0M408.8 1184.4h0M594.8 1318.1h0M398.3 1208.2h0M344.7 1285.0h0M258.0 915.0h0M280.3 1185.5h0M284.7 1306.9h0M263.2 1115.7h0M409.3 1197.9h0M172.5 1067.1h0M209.5 1101.4h0M419.4 1280.1h0M335.0 1138.9h0M398.1 913.7h0M401.8 962.4h0M327.8 1057.8h0M290.5 1207.3h0M259.7 1228.1h0M200.4 1268.4h0M390.1 909.8h0M456.6 1343.2h0M387.5 1274.0h0M236.6 1063.9h0M225.2 958.7h0M344.8 1280.3h0M428.6 1318.1h0M164.1 994.9h0M235.3 1188.7h0M586.2 1034.2h0M361.0 1327.4h0M310.1 946.3h0M337.1 1285.8h0M398.4 1239.0h0M499.5 932.3h0M410.7 1190.1h0M540.1 1040.7h0M348.8 1135.2h0M349.7 1192.3h0M318.3 1041.4h0M290.3 1249.4h0M412.4 1132.3h0M337.1 1204.0h0M257.1 941.5h0M411.5 1301.7h0M284.3 1323.8h0M275.7 1238.4h0M397.4 934.2h0M221.9 981.7h0M473.3 1316.6h0M302.4 938.9h0M278.2 888.2h0M297.8 1025.7h0M525.7 1333.8h0M398.4 1207.2h0M228.7 1038.6h0M200.9 1032.3h0M394.6 1162.6h0M288.1 932.3h0M303.4 1008.9h0M413.2 1290.5h0M192.3 895.0h0M201.0 1310.3h0M412.6 1339.6h0M420.0 1317.2h0M219.8 947.0h0M432.3 1338.4h0M169.3 1211.3h0M194.3 972.2h0M580.0 1078.2h0M232.7 1188.9h0M319.1 997.1h0M612.6 1324.2h0M194.1 927.0h0M338.5 1147.3h0M405.7 1176.1h0M404.7 952.5h0M230.3 913.0h0M249.1 1270.5h0M249.1 1226.0h0M504.9 1340.1h0M338.6 903.2h0M400.8 1011.8h0M339.6 1015.7h0M258.7 1266.8h0M410.5 1245.6h0M299.8 1332.7h0M255.4 1129.5h0M197.8 1320.6h0M346.2 1261.7h0M247.7 1015.4h0M591.3 1082.0h0M362.3 1092.8h0M388.7 935.3h0M346.4 957.8h0M257.8 923.2h0M363.1 911.9h0M516.1 1341.5h0M375.9 1213.0h0M236.0 1197.9h0M487.1 895.0h0M434.1 1338.1h0M435.5 1305.6h0M391.8 956.3h0M406.6 1005.4h0M268.4 1142.3h0M394.4 1206.2h0M391.7 1133.6h0M171.5 1258.4h0M275.3 1249.3h0M515.5 929.1h0M424.8 1312.7h0M303.9 1334.4h0M313.6 1334.5h0M407.1 1025.7h0M304.6 962.6h0M406.6 1193.5h0M189.4 1290.8h0M351.0 1030.7h0M345.1 1184.8h0M607.5 1328.6h0M207.4 1201.5h0M375.3 1047.4h0M306.4 995.4h0M573.8 1312.2h0M431.3 1282.2h0M423.4 1248.6h0M349.0 1290.3h0M415.9 1182.6h0M398.7 1198.6h0M383.8 1072.9h0M391.6 1217.7h0M194.7 1287.7h0M396.9 1115.1h0M205.4 974.7h0M470.0 1340.6h0M284.0 1199.1h0M177.2 1254.3h0M400.2 1292.8h0M343.1 1302.0h0M421.3 1294.8h0M532.8 973.6h0M292.2 1042.0h0M358.9 1161.5h0M200.5 1136.2h0M299.8 1038.1h0M504.0 945.2h0M434.9 1299.5h0M371.8 1140.9h0M612.7 962.1h0M539.0 1025.1h0M290.1 1336.9h0M361.8 1134.7h0M371.5 1191.5h0M402.3 961.9h0M346.0 951.4h0M298.2 1295.3h0M340.3 1314.8h0M269.7 1093.8h0M326.9 1291.4h0M496.9 941.3h0M265.3 918.5h0M283.8 1220.7h0M233.6 1136.0h0M371.1 1118.9h0M201.0 1171.3h0M166.8 1181.2h0M396.5 1297.5h0M398.9 917.9h0M327.4 1335.4h0M239.9 1196.9h0M382.0 1325.5h0M168.9 991.4h0M314.4 1304.9h0M231.9 1141.4h0M404.5 1268.7h0M235.7 1264.7h0M576.3 1328.7h0M275.3 963.6h0M369.5 1167.1h0M306.4 1155.7h0M391.7 954.4h0M254.0 1119.7h0M512.3 1321.0h0M258.5 1313.2h0M307.4 927.1h0M360.2 981.1h0M268.1 1306.8h0M261.4 1226.2h0M318.1 1207.2h0M572.9 1332.2h0M219.2 1115.2h0M253.8 894.9h0M225.0 1268.0h0M200.1 1267.6h0M275.0 1101.0h0M362.9 1144.7h0M211.5 1082.3h0M351.8 925.7h0M377.4 1084.6h0M257.9 1242.6h0M246.7 1185.5h0M409.6 1122.8h0M379.5 1152.9h0M296.8 1273.6h0M335.5 1129.4h0M211.0 1055.1h0M579.5 1327.0h0M266.6 1028.7h0M394.2 1264.0h0M242.5 1147.6h0M475.6 1334.2h0M320.2 1317.9h0M273.4 1225.2h0M566.9 1329.5h0M348.6 1243.9h0M420.6 1316.4h0M359.4 1174.6h0M222.8 1034.2h0M318.4 1325.2h0M291.3 1279.4h0M403.8 1122.2h0M221.3 1214.4h0M343.3 1297.1h0M408.0 1267.1h0M444.6 1311.2h0M288.6 911.4h0M425.5 1267.9h0M335.0 1040.6h0M252.8 1169.6h0M547.4 1025.4h0M392.3 1013.3h0M422.3 1258.1h0M518.3 1341.2h0M209.2 981.7h0M212.2 1225.4h0M282.7 1077.7h0M190.8 902.6h0M346.3 1172.3h0M321.9 1174.0h0M340.6 964.3h0M272.6 958.9h0M342.9 993.8h0M408.1 1164.2h0M587.3 1334.4h0M239.9 1292.4h0M286.8 1242.5h0M412.7 1324.6h0M244.5 1293.8h0M383.2 1308.4h0M387.9 975.2h0M340.1 997.3h0M318.0 1182.4h0M228.8 1325.8h0M578.1 1318.1h0M258.6 1023.6h0M333.4 1012.2h0M209.9 1251.0h0M220.0 1211.2h0M488.2 1335.3h0M259.8 1208.5h0M413.4 1151.9h0M277.4 1311.9h0M371.2 1276.1h0M494.3 1321.2h0M268.1 1266.3h0M365.5 1063.6h0M335.0 953.9h0M204.8 1283.8h0M220.2 1328.7h0M329.3 1128.3h0M334.8 1028.1h0M281.3 1065.8h0M340.5 1259.6h0M383.5 1336.4h0M161.6 1038.0h0M248.8 1340.0h0M388.0 1268.7h0M592.5 1324.1h0M506.2 1342.1h0M334.8 911.5h0M285.1 1240.9h0M345.6 1147.0h0M406.3 1235.0h0M392.2 1123.4h0M573.9 1079.9h0M475.8 1328.2h0M571.7 1079.2h0M388.2 961.8h0M595.3 1314.5h0M373.5 1031.9h0M523.7 1007.7h0M264.4 1224.2h0M174.9 1287.7h0M291.6 983.8h0M475.8 1335.6h0M379.6 1237.6h0M350.8 972.8h0M406.5 1142.0h0M265.8 1338.9h0M408.6 1252.4h0M241.8 1201.1h0M590.0 1060.0h0M403.7 1185.0h0M217.2 1324.2h0M388.2 1107.3h0M410.7 1178.8h0M440.7 1327.1h0M564.4 1074.9h0M192.7 1012.0h0M210.0 911.2h0M410.3 1134.4h0M280.0 1084.6h0M345.3 1175.6h0M407.9 1004.9h0M418.9 1294.3h0M316.9 1097.7h0M395.3 990.1h0M259.2 1190.2h0M401.9 1125.9h0M503.4 958.2h0M386.3 1085.0h0M252.8 1142.4h0M594.8 1314.9h0M380.6 1113.7h0M468.0 1337.3h0M395.0 903.0h0M272.0 1088.8h0M420.1 1318.1h0M304.9 1263.9h0M412.4 1270.9h0M363.5 1244.5h0M371.2 1130.0h0M297.4 1075.6h0M306.2 1184.6h0M295.4 1230.8h0M260.1 1222.3h0M441.4 1306.9h0M362.4 1143.0h0M186.5 1120.7h0M364.5 970.8h0M570.3 1331.4h0M368.2 1087.9h0M169.2 990.7h0M197.4 1206.2h0M418.5 1227.4h0M387.0 929.1h0M490.0 910.4h0M198.1 1300.0h0M389.5 1179.9h0M400.7 962.7h0M323.4 1090.1h0M311.0 1011.7h0M276.1 1097.7h0M245.4 1320.6h0M400.4 1104.2h0M407.3 1180.6h0M382.1 1271.5h0M246.0 904.3h0M184.7 1076.8h0M262.5 1197.5h0M383.5 1323.0h0M306.1 1114.0h0M526.7 992.1h0M504.6 942.4h0M446.5 1321.8h0M211.1 1066.9h0M498.9 1320.9h0M302.2 1048.0h0M397.2 1326.1h0M392.2 1113.2h0M586.4 1328.4h0M209.0 958.3h0M393.5 1149.5h0M401.0 998.9h0M429.2 1322.4h0M212.8 1030.4h0M541.0 925.2h0M246.1 936.7h0M351.1 1028.1h0M346.3 951.1h0M324.2 1315.9h0M367.0 937.3h0M591.4 1322.5h0M309.7 1176.3h0M320.5 1280.9h0M486.7 898.7h0M409.8 1222.9h0M353.5 1270.4h0M481.2 1319.7h0M290.5 996.5h0M410.0 1096.9h0M233.5 1033.9h0M368.7 960.3h0M184.0 981.3h0M369.8 1102.4h0M385.6 1233.2h0M392.2 1138.2h0M206.5 973.7h0M342.0 1216.6h0M380.0 1304.3h0M533.7 1315.5h0M426.0 1305.3h0M452.7 1327.5h0M412.4 1121.9h0M300.4 1086.2h0M326.8 1066.3h0M252.0 1102.5h0M410.0 1065.8h0M421.0 1254.8h0M218.7 1236.3h0M332.9 1210.0h0M317.3 1276.3h0M182.4 1315.0h0M163.9 984.8h0M386.0 906.3h0M347.0 1335.4h0M561.2 1316.4h0M408.7 1302.2h0M208.8 950.3h0M352.5 906.7h0M506.4 1337.2h0M508.8 1342.2h0M336.5 934.3h0M377.7 1159.8h0M401.7 1228.0h0M388.3 1186.7h0M411.6 1173.3h0M404.8 1028.3h0M389.4 1039.4h0M267.7 1058.6h0M500.1 931.8h0M249.6 943.2h0M380.8 1305.3h0M423.5 1340.9h0M382.0 1215.9h0M296.7 1251.5h0M309.3 1173.0h0M240.1 1180.8h0M386.0 1279.6h0M385.4 898.1h0M265.3 1257.9h0M259.8 983.7h0M307.5 1063.9h0M338.9 1214.1h0M400.1 1044.0h0M298.6 1186.8h0M425.8 1271.9h0M498.2 944.1h0M375.2 1325.2h0M174.3 1315.4h0M374.1 932.5h0M172.7 1127.9h0M295.3 1282.9h0M489.8 896.3h0M292.0 1252.7h0M278.9 1326.5h0M228.1 1208.3h0M403.1 1007.3h0M359.1 968.1h0M401.2 1005.5h0M418.6 1304.0h0M197.7 1017.8h0M365.6 1014.5h0M298.5 1318.9h0M349.9 1154.0h0M384.3 1067.2h0M484.3 1327.4h0M386.5 1063.5h0M285.5 988.3h0M428.6 1334.8h0M299.3 942.7h0M416.6 1228.3h0M285.1 1221.1h0M369.8 1273.3h0M314.0 1242.7h0M271.8 979.1h0M253.3 1112.6h0M406.1 1234.6h0M357.0 1017.5h0M264.2 1260.9h0M289.4 1095.2h0M521.1 996.2h0M417.8 1267.9h0M352.1 1292.8h0M340.7 892.5h0M309.0 1272.8h0M333.2 1192.7h0M371.6 943.6h0M328.5 1330.8h0M312.2 1129.0h0M469.6 1313.8h0M199.7 1047.0h0M349.6 993.2h0M245.5 1078.7h0M338.3 1046.4h0M227.9 1178.8h0M364.0 1340.6h0M372.1 1294.3h0M389.6 914.5h0M206.2 1157.7h0M403.4 1024.7h0M424.5 1276.8h0M526.4 1338.2h0M438.7 1305.8h0M550.0 1050.2h0M308.1 1110.0h0M177.5 954.1h0M166.6 897.6h0M403.2 1301.0h0M606.7 1337.3h0M406.3 1002.7h0M237.2 1284.1h0M400.1 1280.3h0M354.2 1018.9h0M519.7 1336.8h0M425.6 1299.2h0M513.5 1337.4h0M429.3 1271.7h0M543.3 1052.1h0M237.7 1343.4h0M309.9 918.6h0M161.4 1235.2h0M410.6 1109.8h0M411.7 1277.1h0M353.3 1137.9h0M407.6 1199.9h0M207.9 997.6h0M339.3 1245.7h0M437.9 1299.2h0M612.1 1319.7h0M608.7 1314.1h0M344.5 1158.0h0M398.7 912.3h0M278.6 1272.8h0M396.4 1158.2h0M259.8 943.5h0M349.7 1332.2h0M339.4 1170.1h0M281.6 1100.3h0M341.5 1208.3h0M415.8 1254.0h0M335.2 1287.0h0M382.0 912.3h0M236.2 1151.1h0M179.2 923.6h0M472.0 1321.8h0M303.7 904.7h0M207.4 1324.8h0M257.2 1244.6h0M613.6 1095.4h0M228.1 1212.2h0M346.0 1232.7h0M408.5 1310.8h0M234.5 1222.9h0M264.9 1231.8h0M300.6 1322.1h0M172.4 1172.5h0M204.6 992.4h0M366.8 1269.0h0M382.2 1021.5h0M387.7 1223.0h0M412.1 1176.6h0M303.1 1082.8h0M311.3 1254.3h0M316.9 954.4h0M322.9 1024.4h0M408.8 1220.7h0M206.9 1242.8h0M484.1 1334.2h0M324.9 1096.0h0M342.7 1130.4h0M227.4 1150.9h0M389.9 1155.9h0M350.5 1291.3h0M389.6 1306.6h0M509.8 975.1h0M494.4 900.3h0M401.4 1269.7h0M320.9 1261.3h0M396.9 1294.0h0M374.6 1128.8h0M190.7 1287.6h0M223.4 1212.8h0M347.9 1252.5h0M245.2 1319.6h0M329.9 1271.4h0M225.5 1309.4h0M493.5 1321.3h0M401.8 1254.0h0M322.3 1208.3h0M575.0 940.4h0M592.1 1327.7h0M410.0 1331.3h0M536.5 1312.7h0M339.5 1124.0h0M258.1 1044.5h0M180.8 1308.8h0M298.8 1067.2h0M343.1 1139.6h0M261.5 942.6h0M231.7 1140.2h0M236.3 902.6h0M396.8 1037.4h0M299.6 1027.5h0M389.3 900.2h0M520.1 1010.0h0M366.5 1123.5h0M426.8 1268.3h0M383.4 1042.8h0M351.9 1323.4h0M549.8 1039.7h0M296.9 972.8h0M543.3 1314.8h0M264.7 1192.0h0M369.1 1057.5h0M344.0 915.4h0M396.7 1078.5h0M363.6 1086.0h0M409.2 1193.9h0M167.3 1062.9h0M402.8 1055.2h0M398.6 1311.2h0M263.1 1025.3h0M397.1 1173.2h0M546.6 1326.5h0M334.5 1017.3h0M222.5 1270.6h0M205.5 1315.4h0M178.9 949.3h0M398.8 1254.3h0M382.2 1299.7h0M409.3 1135.6h0M379.5 1216.7h0M329.2 1122.3h0M384.5 1231.3h0M296.0 1304.6h0M237.0 1001.5h0M369.4 1179.0h0M299.8 1250.3h0M279.3 1295.1h0M209.1 1020.1h0M223.1 1056.2h0M296.6 997.3h0M246.9 947.1h0M381.9 901.1h0M425.4 1282.5h0M233.6 1012.1h0M286.6 1096.0h0M331.3 1237.0h0M414.3 1185.9h0M394.5 1213.5h0M429.9 1284.8h0M372.7 1039.9h0M253.0 1072.5h0M173.5 895.8h0M432.0 1288.2h0M206.5 902.1h0M168.5 1078.4h0M379.6 1258.5h0M438.1 1297.3h0M195.6 1292.8h0M426.8 1295.5h0M382.0 898.9h0M396.6 978.9h0M510.5 957.2h0M180.2 1058.4h0M353.8 1016.4h0M576.4 1339.5h0M407.0 1043.0h0M394.4 1003.6h0M327.6 1101.9h0M379.7 979.1h0M404.1 1106.2h0M226.9 1313.7h0M456.6 1320.6h0M559.6 1332.0h0M312.9 1241.9h0M344.9 1236.9h0M182.1 990.5h0M388.5 1137.4h0M402.8 1230.1h0M422.1 1274.7h0M369.9 1200.0h0M372.3 923.2h0M380.9 990.0h0M412.4 1239.4h0M235.2 1151.9h0M513.0 967.8h0M416.0 1283.5h0M375.4 1290.3h0M493.3 1312.8h0M196.3 1284.4h0M414.3 1184.4h0M425.6 1285.9h0M337.4 962.0h0M319.8 1334.7h0M307.9 1067.1h0M214.9 1211.5h0M558.2 1338.2h0M535.1 1336.8h0M400.6 1225.0h0M213.9 1056.3h0M406.9 1060.8h0M400.2 1312.6h0M198.1 1002.5h0M228.6 1281.9h0M372.5 1288.5h0M388.0 915.6h0M375.2 1059.8h0M365.8 1079.5h0M192.8 1250.6h0M166.6 1156.2h0M194.1 1174.4h0M372.6 1002.2h0M353.1 1061.1h0M426.6 1299.0h0M224.5 1054.3h0M367.6 1088.7h0M544.8 1059.7h0M225.1 1242.9h0M520.4 1318.5h0M550.1 1323.7h0M390.4 1225.2h0M174.0 1170.9h0M291.7 1134.6h0M272.6 941.9h0M269.6 1045.4h0M349.9 995.2h0M231.9 992.2h0M394.0 918.2h0M408.6 1113.9h0M446.2 1336.3h0M405.7 1004.1h0M174.8 1032.8h0M534.0 1042.1h0M310.3 1252.2h0M177.9 1302.8h0M340.5 904.5h0M221.1 1274.0h0M424.0 1258.7h0M244.7 922.2h0M447.9 1316.7h0M611.8 1340.1h0M413.2 1320.6h0M256.3 1173.2h0M322.9 962.6h0M392.5 1216.9h0M554.7 1340.6h0M399.6 987.6h0M407.0 1068.0h0M429.4 1332.5h0M363.2 1320.1h0M339.0 897.8h0M416.2 1251.5h0M207.1 1134.3h0M405.6 1039.2h0M379.8 979.0h0M423.8 1249.2h0M290.0 983.6h0M295.8 1188.8h0M411.9 1155.5h0M420.6 1305.8h0M264.2 1248.8h0M193.5 1064.5h0M368.9 960.5h0M399.8 991.3h0M412.3 1127.5h0M266.9 1272.6h0M311.2 1108.9h0M251.0 1145.6h0M222.6 988.3h0M256.0 975.2h0M361.7 974.0h0M566.5 1076.6h0M179.8 966.4h0M374.8 1177.5h0M363.4 1228.4h0M334.3 983.2h0M406.7 976.9h0M286.1 1266.9h0M513.8 984.1h0M285.5 1020.3h0M392.4 938.3h0M492.1 913.4h0M305.5 1080.7h0M514.3 1317.6h0M409.4 1121.4h0M394.8 1325.4h0M304.6 984.9h0M276.7 1295.1h0M391.4 1039.8h0M373.3 1076.0h0M180.3 1198.1h0M380.9 1307.3h0M590.4 1338.1h0M222.9 1022.6h0M230.8 1170.2h0M402.1 1018.1h0M190.5 1247.0h0M378.9 1204.4h0M353.5 1139.4h0M343.8 1101.0h0M354.6 1212.2h0M335.2 1218.9h0M428.3 1265.2h0M408.4 1162.6h0M542.1 1338.3h0M369.9 1164.9h0M519.9 1008.6h0M389.9 1291.2h0M252.1 1189.7h0M515.8 1312.4h0M401.4 1044.9h0M261.1 1169.1h0M292.0 957.4h0M515.0 991.5h0M193.4 995.4h0M450.0 1314.9h0M562.1 1335.1h0M517.6 1334.7h0M161.8 1105.3h0M309.8 1247.8h0M345.6 977.9h0M230.6 901.5h0M283.5 1227.3h0M247.3 1307.2h0M390.8 1024.6h0M337.2 1119.4h0M500.3 936.3h0M216.2 1217.9h0M396.6 1336.8h0M190.2 1072.8h0M256.3 1245.6h0M341.8 1030.3h0M413.2 1239.1h0M368.7 1269.2h0M176.1 1180.8h0M374.7 1274.0h0M392.2 1237.1h0M393.9 1228.7h0M380.8 890.2h0M515.0 981.1h0M304.1 1012.6h0M228.0 1050.5h0M430.7 1289.8h0M562.4 1056.6h0M191.7 1334.3h0M295.9 958.5h0M357.5 1128.7h0M578.0 1325.9h0M215.8 1021.0h0M605.1 1333.4h0M292.6 1059.9h0M408.6 1136.1h0M172.3 1309.8h0M384.2 925.3h0M421.5 1252.2h0M374.2 1034.3h0M590.5 1323.5h0M255.0 1176.1h0M295.7 901.6h0M229.0 1136.1h0M329.7 1101.2h0M315.7 1288.1h0M302.6 1295.7h0M403.1 1305.0h0M199.2 1063.5h0M318.9 1148.4h0M311.6 1145.0h0M495.6 921.8h0M215.1 1067.4h0M288.1 1329.7h0M495.7 1316.5h0M233.2 1302.1h0M181.3 1081.7h0M163.1 1245.8h0M408.1 1070.1h0M418.0 1247.0h0M510.9 1333.2h0M523.9 1316.9h0M546.0 1333.6h0M349.5 1219.5h0M226.9 1004.0h0M487.5 1319.7h0M408.9 1152.8h0M281.5 959.3h0M311.5 1054.3h0M249.3 1229.8h0M222.1 1047.8h0M291.1 1046.0h0M165.8 1053.7h0M178.5 1269.9h0M197.2 995.0h0M347.1 1227.6h0M411.2 1238.2h0M318.1 1257.2h0M239.0 901.0h0M379.9 1031.0h0M410.3 1225.5h0M386.0 1167.3h0M192.9 1126.0h0M174.4 1220.7h0M196.2 1306.3h0M254.2 1172.4h0M414.2 1277.4h0M160.6 1149.3h0M402.0 1242.0h0M208.0 1257.4h0M323.8 1315.5h0M379.0 1176.8h0M367.6 1165.6h0M199.3 1097.0h0M232.4 1278.4h0M569.9 1338.9h0M263.6 1146.8h0M354.9 1248.5h0M491.0 1319.4h0M417.1 1296.0h0M244.8 948.3h0M266.0 1207.8h0M297.6 1080.9h0M408.7 1118.0h0M376.5 1067.4h0M440.6 1308.7h0M348.5 1022.7h0M384.1 1074.3h0M229.6 1339.4h0M339.3 1324.1h0M226.3 1088.2h0M310.6 1048.0h0M242.0 1104.2h0M258.1 1162.1h0M233.4 1178.2h0M322.2 1270.5h0M335.7 1312.2h0M170.8 1308.1h0M192.0 954.7h0M568.2 1312.9h0M546.4 1342.7h0M230.2 959.3h0M403.3 979.7h0M613.1 1329.1h0M304.5 1028.5h0M252.3 1118.3h0M198.7 925.9h0M377.2 1015.7h0M453.3 1327.5h0M511.9 957.3h0M213.3 952.0h0M259.6 909.2h0M289.6 1055.9h0M261.3 897.9h0M237.7 997.0h0M374.4 1233.6h0M438.3 1311.4h0M224.5 1327.0h0M207.9 1245.1h0M415.4 1273.5h0M391.7 1213.0h0M244.7 1333.9h0M284.9 986.7h0M212.4 977.7h0M246.8 1181.9h0M240.0 999.6h0M162.5 1234.6h0M312.9 1271.2h0M312.1 908.4h0M457.0 1322.9h0M271.3 1306.6h0M171.6 1315.0h0M176.8 1201.0h0M392.0 1020.5h0M270.0 1019.0h0M313.3 1180.2h0M329.5 1297.8h0M412.9 1115.2h0M426.8 1327.4h0M342.2 1289.7h0M261.1 1326.4h0M407.0 1031.6h0M374.5 1024.1h0M425.4 1335.7h0M210.9 1328.1h0M243.7 1262.5h0M553.0 1068.0h0M317.6 1318.9h0M530.7 1032.0h0M359.4 913.3h0M381.2 1218.3h0M308.2 1238.9h0M339.3 1052.8h0M534.1 920.0h0M362.9 1267.3h0M242.4 1070.5h0M243.7 969.7h0M409.3 1123.9h0M167.5 1247.2h0M397.6 953.1h0M196.7 937.5h0M354.7 1311.6h0M365.8 1318.0h0M514.4 1323.5h0M236.6 1207.8h0M403.2 1035.7h0M191.2 919.6h0M280.2 946.4h0M225.3 991.5h0M356.7 1127.4h0M392.2 1160.9h0M408.0 1236.6h0M291.4 1252.9h0M160.8 997.7h0M408.6 1299.3h0M258.5 1256.5h0M412.5 1195.9h0M201.8 1185.1h0M403.6 1299.3h0M564.5 1008.0h0M354.9 1226.6h0M513.7 1327.9h0M368.2 1258.9h0M375.5 1291.8h0M171.5 1158.9h0M374.1 1067.0h0M380.3 1218.5h0M431.9 1314.1h0M363.4 1019.2h0M369.2 1271.0h0M396.0 959.2h0M397.5 959.7h0M356.1 1205.0h0M403.0 1230.8h0M414.5 1204.6h0M445.8 1313.5h0M266.6 1177.9h0M289.2 1330.0h0M411.2 1127.8h0M585.4 1320.7h0M402.2 946.5h0M391.5 1037.0h0M198.3 1289.6h0M302.0 1169.2h0M207.3 1184.8h0M404.5 1241.3h0M376.6 1049.6h0M214.9 1296.4h0M291.9 1177.5h0M348.6 907.5h0M304.4 1308.5h0M310.2 1208.9h0M391.4 1202.5h0M288.9 1057.3h0M226.6 1009.3h0M406.6 1189.4h0M476.1 1343.1h0M316.4 1206.0h0M164.8 1272.1h0M265.3 1227.9h0M381.7 1231.8h0M249.7 1285.0h0M313.7 1182.4h0M198.5 1074.0h0M412.8 1227.1h0M380.9 1084.8h0M496.3 927.5h0M406.6 1054.0h0M358.5 1030.8h0M337.6 888.2h0M389.4 1104.5h0M167.7 1216.9h0M300.5 926.5h0M259.0 1246.4h0M394.0 1253.0h0M253.9 1081.0h0M325.6 1163.3h0M401.5 997.5h0M412.7 1215.4h0M226.2 935.8h0M208.7 1080.8h0M193.0 1101.7h0M381.5 1037.6h0M175.5 1144.4h0M395.4 1171.2h0M409.3 1258.6h0M403.9 954.6h0M280.9 1325.6h0M218.1 1178.5h0M347.2 926.4h0M495.0 925.3h0M371.2 1105.2h0M182.0 1131.6h0M320.8 1223.6h0M319.3 937.8h0M407.5 1094.1h0M243.0 1097.7h0M390.4 1187.7h0M541.7 1315.0h0M412.7 1223.9h0M231.3 1227.3h0M370.2 981.3h0M409.1 1332.9h0M448.3 1331.0h0M251.3 1190.1h0M430.6 1290.7h0M339.3 1162.1h0M351.5 1241.0h0M391.9 1249.0h0M339.8 1331.5h0M418.5 1303.1h0M334.7 1050.3h0M315.6 1137.4h0M497.0 1336.6h0M397.3 1286.6h0M326.5 946.0h0M402.9 1164.2h0M301.1 1178.1h0M213.1 978.8h0M244.9 1117.3h0M387.3 1301.5h0M352.8 962.9h0M337.6 1163.3h0M387.3 1292.4h0M407.2 1063.7h0M368.9 1015.4h0M500.4 1330.6h0M389.7 1095.6h0M171.0 1205.9h0M443.6 1326.0h0M270.5 1282.7h0M339.0 1030.0h0M426.4 1259.6h0M558.7 1312.9h0M405.3 1214.8h0M270.8 1254.7h0M572.9 1333.8h0M493.1 1332.0h0M214.7 1187.7h0M348.5 1261.5h0M230.0 1045.9h0M361.5 1017.9h0M277.9 1144.9h0M292.4 1281.4h0M229.0 1074.1h0M377.4 1338.3h0M252.2 1108.8h0M441.8 1335.7h0M416.9 1213.0h0M320.6 1034.4h0M241.3 1215.6h0M209.4 1321.9h0M491.2 1317.7h0M188.4 1249.2h0M398.6 1222.2h0M329.3 893.2h0M407.3 1023.3h0M539.4 1342.2h0M570.1 1044.9h0M594.8 1088.9h0M401.1 1036.8h0M365.3 896.6h0M171.2 930.2h0M563.8 1335.1h0M174.1 1020.5h0M546.8 1030.6h0M396.6 1002.3h0M502.0 890.0h0M233.1 1337.2h0M332.3 1144.8h0M509.0 1329.1h0M275.1 1327.1h0M207.4 1336.7h0M425.8 1338.2h0M297.1 1061.4h0M474.4 1326.8h0M426.0 1320.6h0M587.8 1327.2h0M362.1 1109.9h0M383.5 1252.6h0M381.0 895.6h0M317.9 956.4h0M409.6 1271.5h0M413.4 1219.2h0M416.7 1205.1h0M354.9 918.9h0M604.2 1089.3h0M268.8 1198.9h0M424.9 1274.5h0M317.9 1069.3h0M357.3 1106.8h0M577.5 1328.0h0M209.6 1065.2h0M345.2 1151.8h0M284.0 1293.1h0M323.1 1042.2h0M213.1 1172.9h0M209.4 1135.2h0M507.4 1327.9h0M388.6 1322.0h0M368.3 1286.9h0M406.3 1116.4h0M379.8 1209.5h0M308.1 1295.9h0M405.6 1077.9h0M414.2 1204.7h0M168.2 1184.3h0M183.8 1149.0h0M511.4 1321.7h0M575.5 1329.0h0M327.0 888.2h0M308.3 1314.3h0M341.2 1215.0h0M264.0 1035.5h0M371.4 1078.0h0M259.8 1276.6h0M399.9 1126.8h0M189.2 1322.1h0M270.5 1248.1h0M533.8 1318.6h0M500.3 946.1h0M454.5 1321.2h0M181.3 1216.3h0M401.5 939.1h0M231.8 1290.7h0M264.5 1254.2h0M283.8 1319.1h0M391.3 914.7h0M377.8 940.3h0M473.2 1326.8h0M243.3 935.7h0M227.6 957.9h0M617.0 1340.5h0M304.5 1098.5h0M182.7 955.9h0M211.6 920.5h0M214.6 1251.1h0M405.5 1336.3h0M276.6 914.1h0M180.6 1314.4h0M161.5 1142.4h0M443.7 1320.6h0M418.2 1218.5h0M315.7 1249.8h0M230.9 1226.2h0M563.1 1314.5h0M525.1 1005.5h0M354.1 1064.6h0M346.2 1302.0h0M550.0 1331.2h0M165.1 1127.5h0M351.6 996.9h0M191.5 1091.6h0M577.0 1313.7h0M272.5 1092.3h0M196.1 1242.6h0M244.3 897.0h0M178.2 1261.2h0M273.3 996.1h0M219.3 1266.1h0M359.8 991.7h0M347.4 1315.3h0M383.9 1191.0h0M417.1 1223.0h0M280.5 1140.2h0M177.5 917.8h0M417.6 1311.1h0M383.7 906.4h0M360.5 1254.4h0M160.8 1136.1h0M359.0 991.1h0M385.2 1268.7h0M551.9 1312.9h0M309.6 959.2h0M314.7 913.2h0M374.0 906.3h0M615.5 1325.4h0M603.6 1326.4h0M395.4 1160.4h0M177.7 1303.9h0M386.2 1325.9h0M192.8 1091.3h0M296.7 1090.5h0M496.6 1316.8h0M282.0 1125.8h0M486.4 1325.5h0M527.3 1323.3h0M393.2 1261.9h0M210.6 1094.5h0M391.5 1055.9h0M569.6 1080.2h0M285.2 1121.5h0M508.5 939.8h0M219.6 1214.0h0M348.0 1337.0h0M397.7 1017.0h0M392.4 905.2h0M225.4 949.8h0M249.2 997.0h0M547.5 1319.8h0M312.6 1081.2h0M318.4 1093.0h0M275.6 1229.0h0M420.5 1333.6h0M370.3 1261.6h0M201.8 1246.8h0M260.4 1317.3h0M354.1 1203.8h0M398.0 1042.9h0M330.6 1162.5h0M555.4 1060.9h0M438.8 1324.0h0M173.8 1158.2h0M399.1 1151.9h0M611.7 952.2h0M420.2 1231.5h0M318.0 962.3h0M166.4 1134.9h0M249.7 1182.6h0M399.8 1286.9h0M318.3 953.2h0M317.3 894.7h0M535.4 1323.9h0M401.4 1045.3h0M597.4 1331.8h0M228.2 1229.2h0M238.4 1229.5h0M411.7 1278.6h0M403.7 1068.4h0M403.7 971.7h0M403.8 1009.7h0M276.9 1220.7h0M313.2 984.5h0M461.2 1315.9h0M289.8 1218.6h0M188.9 1115.0h0M402.7 1337.6h0M385.8 1085.4h0M242.3 1167.0h0M408.6 1045.2h0M369.8 1053.7h0M239.7 1298.1h0M516.1 989.4h0M352.6 1262.3h0M336.8 1055.1h0M575.4 1079.8h0M529.6 1031.0h0M400.9 1149.1h0M413.0 1269.7h0M172.2 1145.1h0M364.7 947.7h0M340.2 1218.9h0M325.9 947.0h0M388.1 1059.5h0M423.9 1304.6h0M490.1 893.9h0M403.0 996.7h0M229.7 1276.4h0M197.9 1111.4h0M567.8 1321.8h0M171.3 1287.8h0M170.6 1247.6h0M197.6 1044.5h0M388.0 1017.8h0M226.7 1090.2h0M413.4 1318.7h0M326.1 1291.1h0M505.8 1327.5h0M388.2 889.9h0M438.6 1298.0h0M491.0 1315.0h0M405.2 1066.5h0M593.8 1091.7h0M393.9 1337.6h0M181.2 1247.8h0M352.5 1005.0h0M444.9 1318.1h0M180.5 1197.8h0M416.1 1172.1h0M399.8 1330.9h0M371.3 1337.0h0M386.2 925.3h0M239.0 965.8h0M414.6 1223.2h0M521.7 1319.6h0M548.7 1050.8h0M375.6 964.8h0M209.5 1139.0h0M281.8 1007.6h0M336.3 1131.9h0M398.5 1296.8h0M269.8 1084.7h0M321.2 1275.6h0M275.2 1106.0h0M296.1 1291.3h0M289.3 1319.5h0M197.4 1184.7h0M225.6 983.2h0M323.2 1323.5h0M248.7 1228.1h0M354.5 1188.8h0M440.6 1317.6h0M395.8 1245.5h0M257.1 1125.8h0M268.9 1022.1h0M368.8 1261.8h0M540.8 1343.4h0M591.8 1079.9h0M217.0 1037.9h0M416.9 1330.2h0M256.9 1317.3h0M268.7 1206.4h0M235.3 1049.4h0M319.3 1182.2h0M368.3 1062.1h0M203.9 1133.4h0M294.0 1205.6h0M340.9 1208.5h0M418.1 1281.4h0M339.4 1300.6h0M610.4 1092.1h0M260.0 1109.2h0M311.5 1333.1h0M240.2 1305.0h0M438.2 1300.4h0M218.0 1212.6h0M430.5 1297.4h0M317.2 1285.3h0M582.8 1077.7h0M332.8 1334.2h0M177.6 1102.6h0M221.2 1173.3h0M331.9 982.9h0M525.7 1342.1h0M567.9 1077.0h0M321.2 1263.1h0M371.2 1129.1h0M366.3 1231.7h0M212.4 957.3h0M303.6 1156.9h0M225.6 1190.2h0M359.0 1330.6h0M276.6 971.9h0M229.2 1281.8h0M209.4 1170.6h0M318.4 1054.0h0M335.4 928.4h0M183.2 1011.7h0M543.7 1331.5h0M294.3 1251.1h0M182.9 1234.7h0M379.3 1073.6h0M403.9 1203.3h0M409.9 1252.2h0M437.4 1330.6h0M303.9 1201.9h0M277.3 1137.2h0M194.0 1189.7h0M333.8 1024.2h0M234.1 1257.0h0M307.0 1266.6h0M188.3 1298.0h0M347.3 1115.5h0M581.2 1318.7h0M299.3 1081.3h0M405.5 1066.6h0M398.1 1331.5h0M284.4 1185.9h0M368.4 1111.8h0M413.0 1303.2h0M368.1 1002.5h0M403.4 1025.8h0M316.8 1291.0h0M327.5 1170.2h0M576.0 1316.8h0M357.0 908.7h0M296.7 1009.2h0M404.9 1327.4h0M395.2 1072.7h0M198.3 1285.0h0M321.6 1122.3h0M278.5 900.9h0M253.9 989.8h0M366.4 1171.7h0M318.6 1054.4h0M218.4 1247.0h0M193.8 1204.1h0M326.4 1024.8h0M399.1 1138.0h0M557.7 1324.8h0M191.9 1307.9h0M397.4 962.7h0M342.1 924.4h0M522.0 1336.4h0M552.3 1064.5h0M554.2 1343.2h0M388.9 915.1h0M408.9 1053.7h0M260.7 927.7h0M595.9 1333.1h0M226.1 1298.4h0M347.9 1207.1h0M384.0 1021.7h0M383.1 1243.6h0M368.6 1281.9h0M305.6 1318.1h0M272.3 1217.9h0M215.1 1239.3h0M338.3 1216.8h0M187.7 969.3h0M406.4 1147.5h0M594.1 1329.3h0M321.9 1096.0h0M581.6 1330.8h0M185.7 890.1h0M364.7 917.5h0M402.3 1039.4h0M512.1 961.5h0M382.4 1283.6h0M387.3 1248.6h0M288.8 1005.4h0M419.6 1289.1h0M417.4 1208.8h0M272.7 1267.5h0M311.8 1172.6h0M411.3 1097.3h0M393.7 975.4h0M484.9 1322.7h0M221.6 1088.7h0M368.3 1336.8h0M466.6 1331.3h0M262.4 1298.7h0M262.7 1138.0h0M400.6 1105.6h0M261.0 1116.8h0M380.8 1031.9h0M207.4 1182.4h0M392.5 1268.6h0M223.6 1282.8h0M217.0 1163.0h0M382.1 1033.3h0M330.3 1111.5h0M370.7 1267.7h0M382.4 962.8h0M438.8 1327.8h0M182.0 952.1h0M194.9 1286.3h0M269.3 1045.0h0M463.5 1331.5h0M374.4 1003.8h0M384.3 1006.0h0M564.9 1339.3h0M394.1 1197.9h0M225.4 1234.7h0M197.0 1230.9h0M453.9 1341.6h0M377.2 1197.1h0M307.4 1310.8h0M313.1 945.7h0M367.5 1279.9h0M432.6 1325.1h0M190.8 1239.7h0M330.2 1123.2h0M284.0 1114.0h0M328.5 1214.3h0M264.5 979.4h0M415.9 1243.8h0M411.9 1225.6h0M178.6 1090.2h0M396.2 1269.8h0M408.3 1247.5h0M397.4 1221.1h0M207.7 1339.7h0M327.8 1304.8h0M239.3 956.3h0M214.7 967.3h0M171.8 937.6h0M279.1 1155.4h0M484.2 902.5h0M521.5 1005.1h0M204.2 1078.3h0M380.0 1112.8h0M564.4 1326.1h0M298.8 1163.9h0M353.2 1170.8h0M256.7 961.7h0M175.0 1100.2h0M209.2 1197.1h0M398.8 1192.6h0M270.1 979.2h0M308.2 1075.6h0M394.4 1331.4h0M420.5 1252.9h0M607.3 1335.8h0M227.8 1251.6h0M311.5 1041.6h0M414.4 1268.9h0M349.5 1159.1h0M285.1 1097.5h0M294.6 1313.1h0M291.8 968.7h0M188.6 1249.8h0M346.0 1288.8h0M614.2 1335.9h0M379.8 1172.9h0M352.2 1121.9h0M549.3 1341.4h0M385.3 915.5h0M390.9 1199.9h0M592.3 1312.1h0M196.3 1051.1h0M348.3 1116.3h0M389.4 969.8h0M270.0 1340.7h0M286.1 1191.9h0M358.1 1215.6h0M264.3 1269.9h0M565.1 1339.0h0M220.1 1273.9h0M275.3 891.5h0M369.5 1166.3h0M290.9 1256.4h0M300.0 1035.6h0M293.3 1282.3h0M308.8 1199.5h0M386.1 1069.2h0M233.7 1288.8h0M256.8 938.1h0M425.2 1339.0h0M163.6 1292.0h0M327.6 1159.8h0M337.0 1341.7h0M351.9 1193.0h0M377.4 1074.9h0M536.3 1029.5h0M312.3 1132.5h0M193.5 1119.1h0M237.8 1326.0h0M328.7 1108.1h0M339.0 1125.4h0M390.4 941.3h0M396.4 1015.9h0M449.3 1321.8h0M237.4 1068.0h0M403.5 1292.7h0M236.5 1095.4h0M230.1 1111.2h0M400.9 1253.1h0M280.3 1260.6h0M372.0 1123.2h0M243.1 1192.0h0M390.6 1238.5h0M362.7 1021.1h0M205.8 1143.4h0M371.0 1105.0h0M377.8 1278.1h0M243.5 1145.1h0M456.1 1312.5h0M543.1 1048.6h0M366.7 1289.2h0M421.3 1293.7h0M298.4 921.7h0M493.6 892.6h0M214.4 1078.9h0M250.3 1033.8h0M195.9 1208.8h0M288.8 1218.8h0M292.5 1210.1h0M300.6 1046.3h0M302.3 1133.5h0M285.7 993.4h0M430.6 1284.1h0M456.3 1329.6h0M290.4 1231.3h0M366.3 1143.8h0M609.8 929.6h0M609.8 938.4h0M610.5 978.0h0M611.3 990.9h0M608.3 1024.0h0M608.2 1043.6h0M608.8 1055.1h0M608.9 1067.9h0" stroke="#40215d" stroke-width="5.5" stroke-linecap="round" fill="none"/>
<defs><radialGradient id="hs" gradientUnits="userSpaceOnUse" cx="0" cy="0" r="1" gradientTransform="translate(598 1214.5) scale(80 46)"><stop offset="0" stop-color="#f3e44a"/><stop offset="0.08" stop-color="#e4e04a"/><stop offset="0.18" stop-color="#a6d052"/><stop offset="0.3" stop-color="#50b876"/><stop offset="0.42" stop-color="#28998a"/><stop offset="0.55" stop-color="#3273a0"/><stop offset="0.66" stop-color="#3d5a9c"/><stop offset="0.75" stop-color="#4a3e98"/><stop offset="0.83" stop-color="#4e3090"/><stop offset="0.92" stop-color="#4a2f80" stop-opacity="0.5"/><stop offset="1" stop-color="#4a2f80" stop-opacity="0"/></radialGradient><clipPath id="cc"><rect x="460" y="1100" width="157.6" height="211"/></clipPath></defs>
<defs><radialGradient id="halo" gradientUnits="userSpaceOnUse" cx="0" cy="0" r="1" gradientTransform="translate(598 1214.5) scale(120 95)"><stop offset="0" stop-color="#4b3287" stop-opacity="0.9"/><stop offset="0.5" stop-color="#4a2f80" stop-opacity="0.45"/><stop offset="1" stop-color="#46296f" stop-opacity="0"/></radialGradient></defs>
<ellipse cx="598" cy="1214.5" rx="120" ry="95" fill="url(#halo)" clip-path="url(#cc)"/>
<ellipse cx="598" cy="1214.5" rx="80" ry="46" fill="url(#hs)" clip-path="url(#cc)"/>
<polyline points="617.6,1196.9 612.8,1192.1 608.7,1183.1 602.7,1182.5 577.6,1180.1 571.6,1176.6 560.9,1176.6 553.7,1179.0 547.8,1183.7 540.6,1194.5 540.0,1199.3 541.8,1211.2 544.8,1224.3 550.1,1231.5 559.7,1238.7 569.3,1243.4 583.6,1245.8 601.5,1247.6 606.9,1248.2 612.2,1241.0 617.6,1234.5" fill="none" stroke="#e63a30" stroke-width="6" stroke-linejoin="round" stroke-linecap="round"/>
<rect x="140" y="866.5" width="499" height="499" fill="none" stroke="#1b1f20" stroke-width="5"/>
<path d="M131 1343.4H140 M131 1229.6H140 M131 1115.7H140 M131 1001.9H140 M131 888.0H140 M162.6 1365V1376.5 M321.8 1365V1376.5 M481.0 1365V1376.5 M640.2 1365V1376.5" stroke="#1b1f20" stroke-width="5" fill="none"/>
<text x="-0.56" y="866.37" font-size="54.00" textLength="24.24" lengthAdjust="spacingAndGlyphs" fill="#141414" >c</text>
<text x="73.60" y="897.46" font-size="34.89" textLength="45.58" lengthAdjust="spacingAndGlyphs" fill="#141414" >1.0</text>
<text x="70.66" y="1129.66" font-size="35.31" textLength="47.79" lengthAdjust="spacingAndGlyphs" fill="#141414" >0.5</text>
<text x="98.36" y="1349.77" font-size="33.62" textLength="19.08" lengthAdjust="spacingAndGlyphs" fill="#141414" >0</text>
<text transform="rotate(-90)" x="-1350.83" y="59.00" font-size="37.00" textLength="463.33" lengthAdjust="spacingAndGlyphs" fill="#141414">Fraction of renewing neurons</text>
<text x="121.35" y="1412.48" font-size="32.34" textLength="37.26" lengthAdjust="spacingAndGlyphs" fill="#141414" >10</text>
<text x="157.00" y="1397.50" font-size="18.17" textLength="20.06" lengthAdjust="spacingAndGlyphs" fill="#141414" style="stroke:none">-4</text>
<text x="288.44" y="1412.48" font-size="32.34" textLength="37.37" lengthAdjust="spacingAndGlyphs" fill="#141414" >10</text>
<text x="324.49" y="1397.50" font-size="17.90" textLength="20.26" lengthAdjust="spacingAndGlyphs" fill="#141414" style="stroke:none">-2</text>
<text x="443.20" y="1412.48" font-size="32.34" textLength="36.48" lengthAdjust="spacingAndGlyphs" fill="#141414" >10</text>
<text x="479.43" y="1397.33" font-size="17.66" textLength="12.45" lengthAdjust="spacingAndGlyphs" fill="#141414" style="stroke:none">0</text>
<text x="612.73" y="1412.48" font-size="32.34" textLength="36.03" lengthAdjust="spacingAndGlyphs" fill="#141414" >10</text>
<text x="646.74" y="1397.50" font-size="17.90" textLength="13.92" lengthAdjust="spacingAndGlyphs" fill="#141414" style="stroke:none">2</text>
<text x="172.29" y="1462.70" font-size="37.00" textLength="420.01" lengthAdjust="spacingAndGlyphs" fill="#141414" >Neuronal turnover rate (%)</text>
<path d="M842 1362.6V1355.5H845.3V1355.2H848.6V1355.9H851.9V1356.4H855.2V1356.9H858.5V1356.2H861.8V1355.7H865.1V1355.6H868.4V1356.6H871.7V1357.2H875.0V1356.3H878.3V1355.2H881.6V1355.4H884.9V1353.1H888.2V1353.1H891.5V1354.9H894.8V1356.0H898.1V1355.3H901.4V1355.7H904.7V1355.8H908.0V1355.6H911.3V1356.5H914.6V1356.1H917.9V1355.7H921.2V1356.4H924.5V1356.7H927.8V1354.9H931.1V1355.9H934.4V1355.4H937.7V1356.0H941.0V1355.2H944.3V1356.1H947.6V1356.1H950.9V1355.9H954.2V1355.4H957.5V1355.8H960.8V1355.3H964.1V1355.2H967.4V1356.3H970.7V1355.3H974.0V1356.9H977.3V1356.6H980.6V1354.7H983.9V1356.3H987.2V1355.3H990.5V1356.1H993.8V1356.1H997.1V1354.7H1000.4V1355.9H1003.7V1355.9H1007.0V1356.8H1010.3V1355.3H1013.6V1356.6H1016.9V1355.3H1020.2V1355.9H1023.5V1355.5H1026.8V1357.1H1030.1V1356.5H1033.4V1357.5H1036.7V1356.5H1040.0V1356.7H1040.0V1351.8H1043.3V1355.1H1046.6V1353.5H1049.9V1351.0H1053.1V1352.5H1056.4V1353.9H1061.3V1351.4H1068.0V1352.0H1076.1V1346.5H1079.4V1347.7H1086.0V1346.1H1090.9V1345.5H1095.8V1343.6H1099.9V1342.4H1104.9V1335.4H1108.1V1337.0H1113.9V1332.9H1118.8V1326.4H1122.1V1323.1H1128.7V1318.1H1136.1V1312.8H1141.8V1298.4H1145.9V1312.4H1148.4V1301.7H1151.7V1300.7H1155.8V1297.8H1162.4V1289.2H1168.1V1292.5H1171.4V1276.9H1175.5V1270.3H1178.8V1262.1H1181.3V1249.0H1185.4V1241.5H1187.0V1235.8H1189.1V1222.7H1190.3V1207.1H1193.6V1183.2H1196.6V1176.9H1198.4V1173.9H1199.2V1160.8H1201.4V1136.9H1202.9V1130.2H1204.4V1120.5H1205.9V1096.5H1208.7V1069.5H1211.6V1043.5H1214.6V1040.5H1216.9V1034.5H1217.6V1013.5H1219.9V1000.5H1222.0V995.5H1224.6V969.9H1226.9V965.8H1229.5V959.0H1231.0V948.2H1232.8V946.0H1235.2V945.5H1237.7V944.9H1240.7V905.7H1245.9V936.3H1249.3V919.9H1253.4V930.3H1256.7V925.8H1259.0V922.5H1261.2V918.4H1266.0V924.7H1270.5V937.8H1271.6V965.8H1274.6V981.5H1278.4V1011.5H1281.5V1081.5H1284.6V1140.5H1285.6V1190.5H1288.2V1224.7H1290.7V1269.5H1293.2V1296.5H1294.9V1319.3H1296.5V1329.7H1298.2V1343.4H1299.8V1348.3H1303.2V1355.8H1306.5V1360.8H1313.1V1361.0H1320.5V1362.6Z" fill="#7297c9" stroke="#3d6db5" stroke-width="3" stroke-linejoin="miter"/>
<path d="M1209 889V1362M1281.6 889V1362" stroke="#d6404b" stroke-width="5.8" stroke-linecap="round" fill="none"/>
<path d="M1234.9 889V1362" stroke="#1a1a1a" stroke-width="6" stroke-linecap="round" fill="none"/>
<rect x="841" y="865.6" width="481.6" height="497.4" fill="none" stroke="#1a1a1a" stroke-width="3.4"/>
<path d="M825 889.5H841 M825 968.5H841 M825 1047.5H841 M825 1126.4H841 M825 1205.2H841 M825 1284.1H841 M825 1363.0H841 M841.4 1363V1371 M948.2 1363V1371 M1055.0 1363V1371 M1161.8 1363V1371 M1268.6 1363V1371" stroke="#1a1a1a" stroke-width="3.4" fill="none"/>
<text x="727.19" y="846.57" font-size="54.00" textLength="33.27" lengthAdjust="spacingAndGlyphs" fill="#141414" >d</text>
<text transform="rotate(-90)" x="-1250.98" y="797.80" font-size="37.00" textLength="294.45" lengthAdjust="spacingAndGlyphs" fill="#141414">Probability density</text>
<text x="824.40" y="1412.66" font-size="35.31" textLength="37.93" lengthAdjust="spacingAndGlyphs" fill="#141414" >10</text>
<text x="861.81" y="1396.32" font-size="18.36" textLength="19.88" lengthAdjust="spacingAndGlyphs" fill="#141414" style="stroke:none">-3</text>
<text x="919.29" y="1412.66" font-size="35.31" textLength="38.04" lengthAdjust="spacingAndGlyphs" fill="#141414" >10</text>
<text x="956.80" y="1396.50" font-size="18.62" textLength="20.03" lengthAdjust="spacingAndGlyphs" fill="#141414" style="stroke:none">-2</text>
<text x="1030.75" y="1412.66" font-size="35.31" textLength="38.71" lengthAdjust="spacingAndGlyphs" fill="#141414" >10</text>
<text x="1068.49" y="1396.50" font-size="18.90" textLength="16.20" lengthAdjust="spacingAndGlyphs" fill="#141414" style="stroke:none">-1</text>
<text x="1135.97" y="1412.66" font-size="35.31" textLength="39.94" lengthAdjust="spacingAndGlyphs" fill="#141414" >10</text>
<text x="1174.68" y="1396.32" font-size="18.36" textLength="13.03" lengthAdjust="spacingAndGlyphs" fill="#141414" style="stroke:none">0</text>
<text x="1243.37" y="1412.66" font-size="35.31" textLength="39.94" lengthAdjust="spacingAndGlyphs" fill="#141414" >10</text>
<text x="1281.99" y="1396.50" font-size="18.90" textLength="7.35" lengthAdjust="spacingAndGlyphs" fill="#141414" style="stroke:none">1</text>
<text x="869.59" y="1464.70" font-size="37.00" textLength="419.40" lengthAdjust="spacingAndGlyphs" fill="#141414" >Neuronal turnover rate (%)</text>
<path d="M160.9 1565V2065 M225.0 1565V2065 M289.0 1565V2065 M353.1 1565V2065 M417.1 1565V2065 M481.2 1565V2065 M545.3 1565V2065 M609.3 1565V2065 M673.4 1565V2065 M135 2042.2H694 M135 1983.0H694 M135 1923.9H694 M135 1864.8H694 M135 1805.6H694 M135 1746.5H694 M135 1687.3H694 M135 1628.2H694 M135 1569.0H694" stroke="#c8c8c8" stroke-width="2" fill="none"/>
<path d="M134.6 1565V2066.5M133.4 2065.4H694" stroke="#161616" stroke-width="2.6" fill="none"/>
<path d="M160.9 2065V2074 M131.5 2042.2H134.6 M225.0 2065V2074 M131.5 1983.0H134.6 M289.0 2065V2074 M131.5 1923.9H134.6 M353.1 2065V2074 M131.5 1864.8H134.6 M417.1 2065V2074 M131.5 1805.6H134.6 M481.2 2065V2074 M131.5 1746.5H134.6 M545.3 2065V2074 M131.5 1687.3H134.6 M609.3 2065V2074 M131.5 1628.2H134.6 M673.4 2065V2074 M131.5 1569.0H134.6" stroke="#161616" stroke-width="2.6" fill="none"/>
<polyline points="160.9,2042.2 165.0,2038.8 170.7,2033.9 177.4,2028.2 184.5,2022.2 191.3,2016.5 197.3,2011.6 202.3,2007.7 206.9,2004.2 211.2,2001.0 215.5,1997.9 220.0,1994.6 225.0,1990.9 230.4,1986.7 236.3,1982.1 242.4,1977.4 248.5,1972.8 254.4,1968.3 260.0,1964.1 264.8,1960.7 268.8,1957.8 272.7,1955.1 277.0,1952.2 282.2,1948.6 289.0,1944.0 297.7,1938.1 307.8,1931.3 318.9,1923.8 330.4,1916.0 342.0,1908.2 353.1,1900.8 363.8,1893.8 374.4,1886.8 385.1,1879.8 395.8,1872.8 406.5,1865.9 417.1,1858.8 427.8,1851.8 438.5,1844.6 449.2,1837.5 459.8,1830.3 470.5,1823.2 481.2,1816.2 491.9,1809.3 502.6,1802.5 513.2,1795.7 523.9,1789.0 534.6,1782.2 545.3,1775.4 555.9,1768.7 566.6,1761.9 577.3,1755.2 588.0,1748.4 598.6,1741.6 609.3,1734.6 620.7,1727.1 633.0,1718.8 645.4,1710.5 656.8,1702.7 666.4,1696.2 673.4,1691.4" stroke="#3b6cb6" stroke-width="3.5" fill="none" stroke-linecap="round"/>
<path d="M160.9 2042.2L673.4 1569.0" stroke="#7a7a7a" stroke-width="3" stroke-dasharray="9.5 4.5" fill="none"/>
<text x="10.23" y="1564.87" font-size="54.00" textLength="29.75" lengthAdjust="spacingAndGlyphs" fill="#141414" >e</text>
<text x="95.68" y="2057.86" font-size="35.31" textLength="18.85" lengthAdjust="spacingAndGlyphs" fill="#141414" >0</text>
<text x="78.83" y="1998.71" font-size="35.31" textLength="39.05" lengthAdjust="spacingAndGlyphs" fill="#141414" >10</text>
<text x="79.78" y="1939.56" font-size="35.31" textLength="38.06" lengthAdjust="spacingAndGlyphs" fill="#141414" >20</text>
<text x="80.21" y="1880.41" font-size="35.31" textLength="37.61" lengthAdjust="spacingAndGlyphs" fill="#141414" >30</text>
<text x="80.74" y="1821.26" font-size="35.31" textLength="37.07" lengthAdjust="spacingAndGlyphs" fill="#141414" >40</text>
<text x="80.14" y="1762.11" font-size="35.31" textLength="37.68" lengthAdjust="spacingAndGlyphs" fill="#141414" >50</text>
<text x="79.76" y="1702.96" font-size="35.31" textLength="38.08" lengthAdjust="spacingAndGlyphs" fill="#141414" >60</text>
<text x="79.74" y="1643.81" font-size="35.31" textLength="38.09" lengthAdjust="spacingAndGlyphs" fill="#141414" >70</text>
<text x="80.02" y="1584.66" font-size="35.31" textLength="37.80" lengthAdjust="spacingAndGlyphs" fill="#141414" >80</text>
<text x="151.16" y="2110.36" font-size="35.31" textLength="20.48" lengthAdjust="spacingAndGlyphs" fill="#141414" >0</text>
<text x="205.29" y="2110.36" font-size="35.31" textLength="39.05" lengthAdjust="spacingAndGlyphs" fill="#141414" >10</text>
<text x="270.30" y="2110.36" font-size="35.31" textLength="38.06" lengthAdjust="spacingAndGlyphs" fill="#141414" >20</text>
<text x="334.79" y="2110.36" font-size="35.31" textLength="37.61" lengthAdjust="spacingAndGlyphs" fill="#141414" >30</text>
<text x="399.38" y="2110.36" font-size="35.31" textLength="37.07" lengthAdjust="spacingAndGlyphs" fill="#141414" >40</text>
<text x="462.84" y="2110.36" font-size="35.31" textLength="37.68" lengthAdjust="spacingAndGlyphs" fill="#141414" >50</text>
<text x="526.52" y="2110.36" font-size="35.31" textLength="38.08" lengthAdjust="spacingAndGlyphs" fill="#141414" >60</text>
<text x="590.56" y="2110.36" font-size="35.31" textLength="38.09" lengthAdjust="spacingAndGlyphs" fill="#141414" >70</text>
<text x="654.90" y="2110.36" font-size="35.31" textLength="37.80" lengthAdjust="spacingAndGlyphs" fill="#141414" >80</text>
<text x="272.25" y="2158.50" font-size="37.00" textLength="284.82" lengthAdjust="spacingAndGlyphs" fill="#141414" >Person age (years)</text>
<text transform="rotate(-90)" x="-2008.47" y="58.50" font-size="37.00" textLength="367.27" lengthAdjust="spacingAndGlyphs" fill="#141414">Average cell age (years)</text>
</svg></body></html>
